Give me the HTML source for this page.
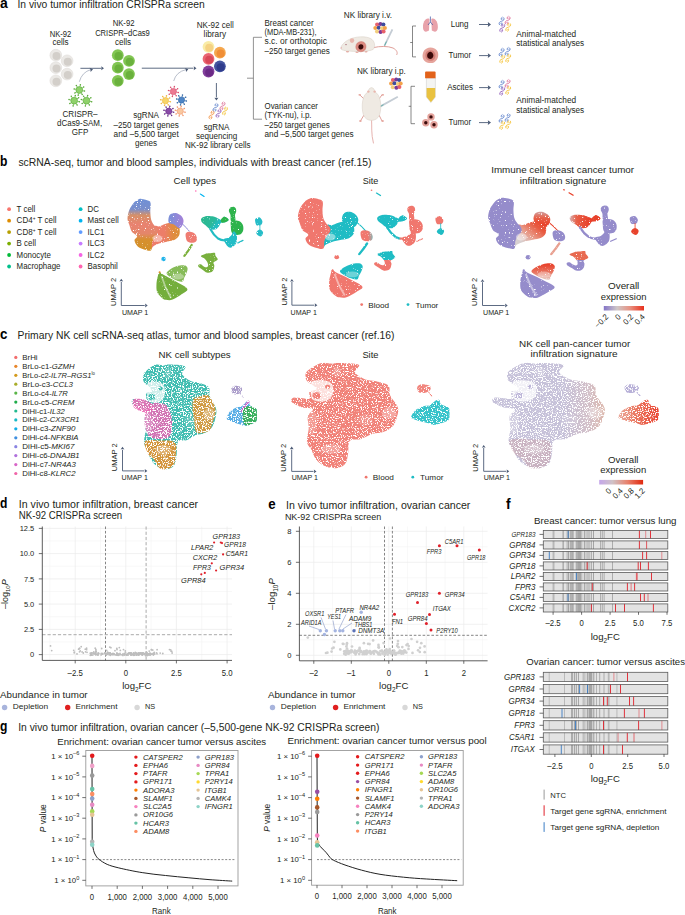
<!DOCTYPE html>
<html><head><meta charset="utf-8"><title>Figure</title>
<style>html,body{margin:0;padding:0;background:#fff;}svg{display:block;font-family:"Liberation Sans",sans-serif;}</style>
</head><body>
<svg width="685" height="915" viewBox="0 0 685 915">
<rect width="685" height="915" fill="#fff"/>
<text x="0.0" y="7.9" font-size="14" font-weight="bold" fill="#000">a</text>
<text x="17.5" y="8.2" font-size="10.2" textLength="187.2" lengthAdjust="spacingAndGlyphs" fill="#231f20">In vivo tumor infiltration CRISPRa screen</text>
<text x="60.5" y="36.6" font-size="8.5" text-anchor="middle" textLength="21.6" lengthAdjust="spacingAndGlyphs" fill="#231f20">NK-92</text>
<text x="60.5" y="45.4" font-size="8.5" text-anchor="middle" textLength="16.2" lengthAdjust="spacingAndGlyphs" fill="#231f20">cells</text>
<circle cx="55.8" cy="55.2" r="5.9" fill="#ebe9e6" stroke="#dcd9d4" stroke-width="0.5"/>
<circle cx="56.5" cy="56.1" r="4.0120000000000005" fill="#d3cfca"/>
<circle cx="67.1" cy="60.8" r="5.9" fill="#ebe9e6" stroke="#dcd9d4" stroke-width="0.5"/>
<circle cx="67.8" cy="61.7" r="4.0120000000000005" fill="#d3cfca"/>
<circle cx="55.8" cy="67.7" r="5.9" fill="#ebe9e6" stroke="#dcd9d4" stroke-width="0.5"/>
<circle cx="56.5" cy="68.6" r="4.0120000000000005" fill="#d3cfca"/>
<circle cx="67.1" cy="74.1" r="5.9" fill="#ebe9e6" stroke="#dcd9d4" stroke-width="0.5"/>
<circle cx="67.8" cy="75.0" r="4.0120000000000005" fill="#d3cfca"/>
<circle cx="55.8" cy="80.8" r="5.9" fill="#ebe9e6" stroke="#dcd9d4" stroke-width="0.5"/>
<circle cx="56.5" cy="81.7" r="4.0120000000000005" fill="#d3cfca"/>
<line x1="80.4" y1="68.3" x2="101.5" y2="68.3" stroke="#4b5a75" stroke-width="0.9"/>
<path d="M104.0,68.3 L101.2,70.3 L101.6,68.3 L101.2,66.3Z" fill="#4b5a75"/>
<path d="M79.3,81.8 Q82,72 91,69.6" fill="none" stroke="#8a93a8" stroke-width="0.6"/>
<path d="M93.0,69.3 L90.6,72.0 L90.5,69.8 L89.7,67.8Z" fill="#4b5a75"/>
<line x1="82.6" y1="90.7" x2="84.5" y2="91.1" stroke="#5bab3a" stroke-width="0.7"/>
<circle cx="84.5" cy="91.1" r="0.75" fill="#5bab3a"/>
<line x1="81.2" y1="92.8" x2="82.2" y2="94.4" stroke="#5bab3a" stroke-width="0.7"/>
<circle cx="82.2" cy="94.4" r="0.75" fill="#5bab3a"/>
<line x1="78.6" y1="93.3" x2="78.2" y2="95.2" stroke="#5bab3a" stroke-width="0.7"/>
<circle cx="78.2" cy="95.2" r="0.75" fill="#5bab3a"/>
<line x1="76.5" y1="91.9" x2="74.9" y2="92.9" stroke="#5bab3a" stroke-width="0.7"/>
<circle cx="74.9" cy="92.9" r="0.75" fill="#5bab3a"/>
<line x1="76.0" y1="89.3" x2="74.1" y2="88.9" stroke="#5bab3a" stroke-width="0.7"/>
<circle cx="74.1" cy="88.9" r="0.75" fill="#5bab3a"/>
<line x1="77.4" y1="87.2" x2="76.4" y2="85.6" stroke="#5bab3a" stroke-width="0.7"/>
<circle cx="76.4" cy="85.6" r="0.75" fill="#5bab3a"/>
<line x1="80.0" y1="86.7" x2="80.4" y2="84.8" stroke="#5bab3a" stroke-width="0.7"/>
<circle cx="80.4" cy="84.8" r="0.75" fill="#5bab3a"/>
<line x1="82.1" y1="88.1" x2="83.7" y2="87.1" stroke="#5bab3a" stroke-width="0.7"/>
<circle cx="83.7" cy="87.1" r="0.75" fill="#5bab3a"/>
<circle cx="79.3" cy="90.0" r="3.4" fill="#8fd16a" stroke="#5bab3a" stroke-width="0.6"/>
<line x1="77.5" y1="101.4" x2="79.4" y2="101.8" stroke="#5bab3a" stroke-width="0.7"/>
<circle cx="79.4" cy="101.8" r="0.75" fill="#5bab3a"/>
<line x1="76.1" y1="103.5" x2="77.1" y2="105.1" stroke="#5bab3a" stroke-width="0.7"/>
<circle cx="77.1" cy="105.1" r="0.75" fill="#5bab3a"/>
<line x1="73.5" y1="104.0" x2="73.1" y2="105.9" stroke="#5bab3a" stroke-width="0.7"/>
<circle cx="73.1" cy="105.9" r="0.75" fill="#5bab3a"/>
<line x1="71.4" y1="102.6" x2="69.8" y2="103.6" stroke="#5bab3a" stroke-width="0.7"/>
<circle cx="69.8" cy="103.6" r="0.75" fill="#5bab3a"/>
<line x1="70.9" y1="100.0" x2="69.0" y2="99.6" stroke="#5bab3a" stroke-width="0.7"/>
<circle cx="69.0" cy="99.6" r="0.75" fill="#5bab3a"/>
<line x1="72.3" y1="97.9" x2="71.3" y2="96.3" stroke="#5bab3a" stroke-width="0.7"/>
<circle cx="71.3" cy="96.3" r="0.75" fill="#5bab3a"/>
<line x1="74.9" y1="97.4" x2="75.3" y2="95.5" stroke="#5bab3a" stroke-width="0.7"/>
<circle cx="75.3" cy="95.5" r="0.75" fill="#5bab3a"/>
<line x1="77.0" y1="98.8" x2="78.6" y2="97.8" stroke="#5bab3a" stroke-width="0.7"/>
<circle cx="78.6" cy="97.8" r="0.75" fill="#5bab3a"/>
<circle cx="74.2" cy="100.7" r="3.4" fill="#8fd16a" stroke="#5bab3a" stroke-width="0.6"/>
<line x1="89.8" y1="101.4" x2="91.7" y2="101.8" stroke="#5bab3a" stroke-width="0.7"/>
<circle cx="91.7" cy="101.8" r="0.75" fill="#5bab3a"/>
<line x1="88.4" y1="103.5" x2="89.4" y2="105.1" stroke="#5bab3a" stroke-width="0.7"/>
<circle cx="89.4" cy="105.1" r="0.75" fill="#5bab3a"/>
<line x1="85.8" y1="104.0" x2="85.4" y2="105.9" stroke="#5bab3a" stroke-width="0.7"/>
<circle cx="85.4" cy="105.9" r="0.75" fill="#5bab3a"/>
<line x1="83.7" y1="102.6" x2="82.1" y2="103.6" stroke="#5bab3a" stroke-width="0.7"/>
<circle cx="82.1" cy="103.6" r="0.75" fill="#5bab3a"/>
<line x1="83.2" y1="100.0" x2="81.3" y2="99.6" stroke="#5bab3a" stroke-width="0.7"/>
<circle cx="81.3" cy="99.6" r="0.75" fill="#5bab3a"/>
<line x1="84.6" y1="97.9" x2="83.6" y2="96.3" stroke="#5bab3a" stroke-width="0.7"/>
<circle cx="83.6" cy="96.3" r="0.75" fill="#5bab3a"/>
<line x1="87.2" y1="97.4" x2="87.6" y2="95.5" stroke="#5bab3a" stroke-width="0.7"/>
<circle cx="87.6" cy="95.5" r="0.75" fill="#5bab3a"/>
<line x1="89.3" y1="98.8" x2="90.9" y2="97.8" stroke="#5bab3a" stroke-width="0.7"/>
<circle cx="90.9" cy="97.8" r="0.75" fill="#5bab3a"/>
<circle cx="86.5" cy="100.7" r="3.4" fill="#8fd16a" stroke="#5bab3a" stroke-width="0.6"/>
<text x="80.0" y="116.9" font-size="8.5" text-anchor="middle" textLength="35.0" lengthAdjust="spacingAndGlyphs" fill="#231f20">CRISPR–</text>
<text x="79.6" y="126.3" font-size="8.5" text-anchor="middle" textLength="45.2" lengthAdjust="spacingAndGlyphs" fill="#231f20">dCas9-SAM,</text>
<text x="80.0" y="135.3" font-size="8.5" text-anchor="middle" textLength="16.6" lengthAdjust="spacingAndGlyphs" fill="#231f20">GFP</text>
<text x="123.6" y="26.2" font-size="8.5" text-anchor="middle" textLength="21.9" lengthAdjust="spacingAndGlyphs" fill="#231f20">NK-92</text>
<text x="122.5" y="35.8" font-size="8.5" text-anchor="middle" textLength="54.7" lengthAdjust="spacingAndGlyphs" fill="#231f20">CRISPR–dCas9</text>
<text x="123.0" y="44.6" font-size="8.5" text-anchor="middle" textLength="16.2" lengthAdjust="spacingAndGlyphs" fill="#231f20">cells</text>
<circle cx="117.8" cy="55.2" r="5.9" fill="#82c653"/>
<circle cx="118.5" cy="56.1" r="4.0120000000000005" fill="#6ab13d"/>
<circle cx="129.0" cy="60.8" r="5.9" fill="#82c653"/>
<circle cx="129.7" cy="61.7" r="4.0120000000000005" fill="#6ab13d"/>
<circle cx="117.8" cy="67.7" r="5.9" fill="#82c653"/>
<circle cx="118.5" cy="68.6" r="4.0120000000000005" fill="#6ab13d"/>
<circle cx="129.0" cy="74.1" r="5.9" fill="#82c653"/>
<circle cx="129.7" cy="75.0" r="4.0120000000000005" fill="#6ab13d"/>
<circle cx="117.8" cy="80.8" r="5.9" fill="#82c653"/>
<circle cx="118.5" cy="81.7" r="4.0120000000000005" fill="#6ab13d"/>
<line x1="141.8" y1="68.2" x2="193.5" y2="68.2" stroke="#4b5a75" stroke-width="0.9"/>
<path d="M196.5,68.2 L193.7,70.2 L194.1,68.2 L193.7,66.2Z" fill="#4b5a75"/>
<path d="M173.7,81 Q176,72 186,69.6" fill="none" stroke="#8a93a8" stroke-width="0.6"/>
<path d="M188.3,69.2 L186.0,72.0 L185.9,69.8 L185.0,67.9Z" fill="#4b5a75"/>
<line x1="176.4" y1="92.1" x2="178.3" y2="92.5" stroke="#d9506f" stroke-width="0.7"/>
<circle cx="178.3" cy="92.5" r="0.75" fill="#d9506f"/>
<line x1="175.1" y1="94.1" x2="176.2" y2="95.7" stroke="#d9506f" stroke-width="0.7"/>
<circle cx="176.2" cy="95.7" r="0.75" fill="#d9506f"/>
<line x1="172.8" y1="94.5" x2="172.4" y2="96.4" stroke="#d9506f" stroke-width="0.7"/>
<circle cx="172.4" cy="96.4" r="0.75" fill="#d9506f"/>
<line x1="170.8" y1="93.2" x2="169.2" y2="94.3" stroke="#d9506f" stroke-width="0.7"/>
<circle cx="169.2" cy="94.3" r="0.75" fill="#d9506f"/>
<line x1="170.4" y1="90.9" x2="168.5" y2="90.5" stroke="#d9506f" stroke-width="0.7"/>
<circle cx="168.5" cy="90.5" r="0.75" fill="#d9506f"/>
<line x1="171.7" y1="88.9" x2="170.6" y2="87.3" stroke="#d9506f" stroke-width="0.7"/>
<circle cx="170.6" cy="87.3" r="0.75" fill="#d9506f"/>
<line x1="174.0" y1="88.5" x2="174.4" y2="86.6" stroke="#d9506f" stroke-width="0.7"/>
<circle cx="174.4" cy="86.6" r="0.75" fill="#d9506f"/>
<line x1="176.0" y1="89.8" x2="177.6" y2="88.7" stroke="#d9506f" stroke-width="0.7"/>
<circle cx="177.6" cy="88.7" r="0.75" fill="#d9506f"/>
<circle cx="173.4" cy="91.5" r="3.1" fill="#ec7a93" stroke="#d9506f" stroke-width="0.6"/>
<line x1="168.5" y1="101.3" x2="170.4" y2="101.7" stroke="#f0b840" stroke-width="0.7"/>
<circle cx="170.4" cy="101.7" r="0.75" fill="#f0b840"/>
<line x1="167.2" y1="103.3" x2="168.3" y2="104.9" stroke="#f0b840" stroke-width="0.7"/>
<circle cx="168.3" cy="104.9" r="0.75" fill="#f0b840"/>
<line x1="164.9" y1="103.7" x2="164.5" y2="105.6" stroke="#f0b840" stroke-width="0.7"/>
<circle cx="164.5" cy="105.6" r="0.75" fill="#f0b840"/>
<line x1="162.9" y1="102.4" x2="161.3" y2="103.5" stroke="#f0b840" stroke-width="0.7"/>
<circle cx="161.3" cy="103.5" r="0.75" fill="#f0b840"/>
<line x1="162.5" y1="100.1" x2="160.6" y2="99.7" stroke="#f0b840" stroke-width="0.7"/>
<circle cx="160.6" cy="99.7" r="0.75" fill="#f0b840"/>
<line x1="163.8" y1="98.1" x2="162.7" y2="96.5" stroke="#f0b840" stroke-width="0.7"/>
<circle cx="162.7" cy="96.5" r="0.75" fill="#f0b840"/>
<line x1="166.1" y1="97.7" x2="166.5" y2="95.8" stroke="#f0b840" stroke-width="0.7"/>
<circle cx="166.5" cy="95.8" r="0.75" fill="#f0b840"/>
<line x1="168.1" y1="99.0" x2="169.7" y2="97.9" stroke="#f0b840" stroke-width="0.7"/>
<circle cx="169.7" cy="97.9" r="0.75" fill="#f0b840"/>
<circle cx="165.5" cy="100.7" r="3.1" fill="#f8d56a" stroke="#f0b840" stroke-width="0.6"/>
<line x1="184.5" y1="100.6" x2="186.4" y2="101.0" stroke="#2f66a6" stroke-width="0.7"/>
<circle cx="186.4" cy="101.0" r="0.75" fill="#2f66a6"/>
<line x1="183.2" y1="102.6" x2="184.3" y2="104.2" stroke="#2f66a6" stroke-width="0.7"/>
<circle cx="184.3" cy="104.2" r="0.75" fill="#2f66a6"/>
<line x1="180.9" y1="103.0" x2="180.5" y2="104.9" stroke="#2f66a6" stroke-width="0.7"/>
<circle cx="180.5" cy="104.9" r="0.75" fill="#2f66a6"/>
<line x1="178.9" y1="101.7" x2="177.3" y2="102.8" stroke="#2f66a6" stroke-width="0.7"/>
<circle cx="177.3" cy="102.8" r="0.75" fill="#2f66a6"/>
<line x1="178.5" y1="99.4" x2="176.6" y2="99.0" stroke="#2f66a6" stroke-width="0.7"/>
<circle cx="176.6" cy="99.0" r="0.75" fill="#2f66a6"/>
<line x1="179.8" y1="97.4" x2="178.7" y2="95.8" stroke="#2f66a6" stroke-width="0.7"/>
<circle cx="178.7" cy="95.8" r="0.75" fill="#2f66a6"/>
<line x1="182.1" y1="97.0" x2="182.5" y2="95.1" stroke="#2f66a6" stroke-width="0.7"/>
<circle cx="182.5" cy="95.1" r="0.75" fill="#2f66a6"/>
<line x1="184.1" y1="98.3" x2="185.7" y2="97.2" stroke="#2f66a6" stroke-width="0.7"/>
<circle cx="185.7" cy="97.2" r="0.75" fill="#2f66a6"/>
<circle cx="181.5" cy="100.0" r="3.1" fill="#4f86c6" stroke="#2f66a6" stroke-width="0.6"/>
<line x1="171.8" y1="111.8" x2="173.7" y2="112.2" stroke="#6a2f8a" stroke-width="0.7"/>
<circle cx="173.7" cy="112.2" r="0.75" fill="#6a2f8a"/>
<line x1="170.5" y1="113.8" x2="171.6" y2="115.4" stroke="#6a2f8a" stroke-width="0.7"/>
<circle cx="171.6" cy="115.4" r="0.75" fill="#6a2f8a"/>
<line x1="168.2" y1="114.2" x2="167.8" y2="116.1" stroke="#6a2f8a" stroke-width="0.7"/>
<circle cx="167.8" cy="116.1" r="0.75" fill="#6a2f8a"/>
<line x1="166.2" y1="112.9" x2="164.6" y2="114.0" stroke="#6a2f8a" stroke-width="0.7"/>
<circle cx="164.6" cy="114.0" r="0.75" fill="#6a2f8a"/>
<line x1="165.8" y1="110.6" x2="163.9" y2="110.2" stroke="#6a2f8a" stroke-width="0.7"/>
<circle cx="163.9" cy="110.2" r="0.75" fill="#6a2f8a"/>
<line x1="167.1" y1="108.6" x2="166.0" y2="107.0" stroke="#6a2f8a" stroke-width="0.7"/>
<circle cx="166.0" cy="107.0" r="0.75" fill="#6a2f8a"/>
<line x1="169.4" y1="108.2" x2="169.8" y2="106.3" stroke="#6a2f8a" stroke-width="0.7"/>
<circle cx="169.8" cy="106.3" r="0.75" fill="#6a2f8a"/>
<line x1="171.4" y1="109.5" x2="173.0" y2="108.4" stroke="#6a2f8a" stroke-width="0.7"/>
<circle cx="173.0" cy="108.4" r="0.75" fill="#6a2f8a"/>
<circle cx="168.8" cy="111.2" r="3.1" fill="#8a4ba8" stroke="#6a2f8a" stroke-width="0.6"/>
<line x1="183.2" y1="111.8" x2="185.1" y2="112.2" stroke="#f29a70" stroke-width="0.7"/>
<circle cx="185.1" cy="112.2" r="0.75" fill="#f29a70"/>
<line x1="181.9" y1="113.8" x2="183.0" y2="115.4" stroke="#f29a70" stroke-width="0.7"/>
<circle cx="183.0" cy="115.4" r="0.75" fill="#f29a70"/>
<line x1="179.6" y1="114.2" x2="179.2" y2="116.1" stroke="#f29a70" stroke-width="0.7"/>
<circle cx="179.2" cy="116.1" r="0.75" fill="#f29a70"/>
<line x1="177.6" y1="112.9" x2="176.0" y2="114.0" stroke="#f29a70" stroke-width="0.7"/>
<circle cx="176.0" cy="114.0" r="0.75" fill="#f29a70"/>
<line x1="177.2" y1="110.6" x2="175.3" y2="110.2" stroke="#f29a70" stroke-width="0.7"/>
<circle cx="175.3" cy="110.2" r="0.75" fill="#f29a70"/>
<line x1="178.5" y1="108.6" x2="177.4" y2="107.0" stroke="#f29a70" stroke-width="0.7"/>
<circle cx="177.4" cy="107.0" r="0.75" fill="#f29a70"/>
<line x1="180.8" y1="108.2" x2="181.2" y2="106.3" stroke="#f29a70" stroke-width="0.7"/>
<circle cx="181.2" cy="106.3" r="0.75" fill="#f29a70"/>
<line x1="182.8" y1="109.5" x2="184.4" y2="108.4" stroke="#f29a70" stroke-width="0.7"/>
<circle cx="184.4" cy="108.4" r="0.75" fill="#f29a70"/>
<circle cx="180.2" cy="111.2" r="3.1" fill="#f9c8a0" stroke="#f29a70" stroke-width="0.6"/>
<text x="146.1" y="118.1" font-size="8.5" text-anchor="middle" textLength="25.6" lengthAdjust="spacingAndGlyphs" fill="#231f20">sgRNA</text>
<text x="113.6" y="127.7" font-size="8.5" textLength="65.1" lengthAdjust="spacingAndGlyphs" fill="#231f20">–250 target genes</text>
<text x="113.6" y="137.1" font-size="8.5" textLength="65.1" lengthAdjust="spacingAndGlyphs" fill="#231f20">and –5,500 target</text>
<text x="146.1" y="146.1" font-size="8.5" text-anchor="middle" textLength="22.0" lengthAdjust="spacingAndGlyphs" fill="#231f20">genes</text>
<text x="196.8" y="27.7" font-size="8.5" textLength="37.0" lengthAdjust="spacingAndGlyphs" fill="#231f20">NK-92 cell</text>
<text x="203.6" y="36.5" font-size="8.5" textLength="22.5" lengthAdjust="spacingAndGlyphs" fill="#231f20">library</text>
<circle cx="208.5" cy="46.8" r="5.9" fill="#f9eca8"/>
<circle cx="209.2" cy="47.7" r="4.0120000000000005" fill="#f5d283"/>
<circle cx="219.9" cy="52.7" r="5.9" fill="#f5a84f"/>
<circle cx="220.6" cy="53.6" r="4.0120000000000005" fill="#f08e36"/>
<circle cx="208.5" cy="58.9" r="5.9" fill="#ea6672"/>
<circle cx="209.2" cy="59.8" r="4.0120000000000005" fill="#d94858"/>
<circle cx="219.9" cy="66.3" r="5.9" fill="#44549f"/>
<circle cx="220.6" cy="67.2" r="4.0120000000000005" fill="#2f3b8c"/>
<circle cx="208.5" cy="71.5" r="5.9" fill="#823f9c"/>
<circle cx="209.2" cy="72.4" r="4.0120000000000005" fill="#6b2a86"/>
<line x1="216.4" y1="83.0" x2="216.4" y2="97.5" stroke="#4b5a75" stroke-width="0.9"/>
<path d="M216.4,100.5 L214.4,97.7 L216.4,98.1 L218.4,97.7Z" fill="#4b5a75"/>
<g>
<g transform="translate(215.5,107.5) rotate(-70)">
<path d="M-4.2,-0.6 C-2.8,-2.4 -1.2,-1.8 0,0 C1.2,1.8 2.8,2.4 4.2,0.6" fill="none" stroke="#6f8fd0" stroke-width="0.9"/>
<path d="M-4.2,0.6 C-3.2,1.6 -2,1.4 -1.2,0.6 M1.2,-0.6 C2,-1.4 3.2,-1.6 4.2,-0.6" fill="none" stroke="#6f8fd0" stroke-width="0.9"/>
<line x1="-2.4" y1="-1.2" x2="-2.4" y2="1.2" stroke="#6f8fd0" stroke-width="0.5"/>
<line x1="2.4" y1="-1.2" x2="2.4" y2="1.2" stroke="#6f8fd0" stroke-width="0.5"/>
</g>
<g transform="translate(222.5,106.0) rotate(-70)">
<path d="M-4.2,-0.6 C-2.8,-2.4 -1.2,-1.8 0,0 C1.2,1.8 2.8,2.4 4.2,0.6" fill="none" stroke="#e07aa0" stroke-width="0.9"/>
<path d="M-4.2,0.6 C-3.2,1.6 -2,1.4 -1.2,0.6 M1.2,-0.6 C2,-1.4 3.2,-1.6 4.2,-0.6" fill="none" stroke="#e07aa0" stroke-width="0.9"/>
<line x1="-2.4" y1="-1.2" x2="-2.4" y2="1.2" stroke="#e07aa0" stroke-width="0.5"/>
<line x1="2.4" y1="-1.2" x2="2.4" y2="1.2" stroke="#e07aa0" stroke-width="0.5"/>
</g>
<g transform="translate(211.5,115.0) rotate(-70)">
<path d="M-4.2,-0.6 C-2.8,-2.4 -1.2,-1.8 0,0 C1.2,1.8 2.8,2.4 4.2,0.6" fill="none" stroke="#f29a50" stroke-width="0.9"/>
<path d="M-4.2,0.6 C-3.2,1.6 -2,1.4 -1.2,0.6 M1.2,-0.6 C2,-1.4 3.2,-1.6 4.2,-0.6" fill="none" stroke="#f29a50" stroke-width="0.9"/>
<line x1="-2.4" y1="-1.2" x2="-2.4" y2="1.2" stroke="#f29a50" stroke-width="0.5"/>
<line x1="2.4" y1="-1.2" x2="2.4" y2="1.2" stroke="#f29a50" stroke-width="0.5"/>
</g>
<g transform="translate(218.5,113.5) rotate(-70)">
<path d="M-4.2,-0.6 C-2.8,-2.4 -1.2,-1.8 0,0 C1.2,1.8 2.8,2.4 4.2,0.6" fill="none" stroke="#9a6ac0" stroke-width="0.9"/>
<path d="M-4.2,0.6 C-3.2,1.6 -2,1.4 -1.2,0.6 M1.2,-0.6 C2,-1.4 3.2,-1.6 4.2,-0.6" fill="none" stroke="#9a6ac0" stroke-width="0.9"/>
<line x1="-2.4" y1="-1.2" x2="-2.4" y2="1.2" stroke="#9a6ac0" stroke-width="0.5"/>
<line x1="2.4" y1="-1.2" x2="2.4" y2="1.2" stroke="#9a6ac0" stroke-width="0.5"/>
</g>
<g transform="translate(225.0,111.0) rotate(-70)">
<path d="M-4.2,-0.6 C-2.8,-2.4 -1.2,-1.8 0,0 C1.2,1.8 2.8,2.4 4.2,0.6" fill="none" stroke="#f5c84a" stroke-width="0.9"/>
<path d="M-4.2,0.6 C-3.2,1.6 -2,1.4 -1.2,0.6 M1.2,-0.6 C2,-1.4 3.2,-1.6 4.2,-0.6" fill="none" stroke="#f5c84a" stroke-width="0.9"/>
<line x1="-2.4" y1="-1.2" x2="-2.4" y2="1.2" stroke="#f5c84a" stroke-width="0.5"/>
<line x1="2.4" y1="-1.2" x2="2.4" y2="1.2" stroke="#f5c84a" stroke-width="0.5"/>
</g>
</g>
<text x="216.6" y="129.9" font-size="8.5" text-anchor="middle" textLength="25.6" lengthAdjust="spacingAndGlyphs" fill="#231f20">sgRNA</text>
<text x="216.6" y="138.9" font-size="8.5" text-anchor="middle" textLength="41.3" lengthAdjust="spacingAndGlyphs" fill="#231f20">sequencing</text>
<text x="185.0" y="148.2" font-size="8.5" textLength="65.6" lengthAdjust="spacingAndGlyphs" fill="#231f20">NK-92 library cells</text>
<path d="M262,37.3 L253.4,37.3 L253.4,119.2 L262,119.2" fill="none" stroke="#777" stroke-width="0.8"/>
<line x1="247.0" y1="78.2" x2="253.4" y2="78.2" stroke="#777" stroke-width="0.8"/>
<text x="264.5" y="26.0" font-size="8.5" textLength="49.2" lengthAdjust="spacingAndGlyphs" fill="#231f20">Breast cancer</text>
<text x="264.5" y="35.2" font-size="8.5" textLength="52.1" lengthAdjust="spacingAndGlyphs" fill="#231f20">(MDA-MB-231),</text>
<text x="264.5" y="44.4" font-size="8.5" textLength="62.4" lengthAdjust="spacingAndGlyphs" fill="#231f20">s.c. or orthotopic</text>
<text x="264.5" y="53.6" font-size="8.5" textLength="65.3" lengthAdjust="spacingAndGlyphs" fill="#231f20">–250 target genes</text>
<text x="264.5" y="109.2" font-size="8.5" textLength="53.5" lengthAdjust="spacingAndGlyphs" fill="#231f20">Ovarian cancer</text>
<text x="264.5" y="118.4" font-size="8.5" textLength="47.0" lengthAdjust="spacingAndGlyphs" fill="#231f20">(TYK-nu), i.p.</text>
<text x="264.5" y="127.6" font-size="8.5" textLength="65.3" lengthAdjust="spacingAndGlyphs" fill="#231f20">–250 target genes</text>
<text x="264.5" y="136.9" font-size="8.5" textLength="89.1" lengthAdjust="spacingAndGlyphs" fill="#231f20">and –5,500 target genes</text>
<text x="343.8" y="17.7" font-size="8.5" textLength="48.2" lengthAdjust="spacingAndGlyphs" fill="#231f20">NK library i.v.</text>
<circle cx="377.1" cy="24.5" r="2.015" fill="#e8616b"/>
<circle cx="380.4" cy="24.0" r="2.015" fill="#7b3a96"/>
<circle cx="383.4" cy="24.5" r="2.015" fill="#3d4d9d"/>
<circle cx="375.3" cy="27.9" r="2.015" fill="#f4a24a"/>
<circle cx="378.7" cy="27.7" r="2.015" fill="#3d4d9d"/>
<circle cx="382.1" cy="28.3" r="2.015" fill="#f3cf7e"/>
<circle cx="384.9" cy="27.9" r="2.015" fill="#f4a24a"/>
<circle cx="377.0" cy="31.6" r="2.015" fill="#f3cf7e"/>
<circle cx="380.6" cy="32.1" r="2.015" fill="#7b3a96"/>
<circle cx="383.6" cy="31.4" r="2.015" fill="#e8616b"/>
<path d="M384.5,45.7 L392.4,29.3" fill="none" stroke="#c4ccd4" stroke-width="1.8"/>
<line x1="384.5" y1="45.7" x2="386.5" y2="41.5" stroke="#4aa8a0" stroke-width="0.8"/>
<path d="M373,47.7 C380,46 388,46 393,48 C397,50 398,53 396.5,55" fill="none" stroke="#e0a09a" stroke-width="1.0"/>
<ellipse cx="347.5" cy="51.6" rx="1.6" ry="0.9" fill="#e6a8a0"/>
<ellipse cx="357" cy="52" rx="1.6" ry="0.9" fill="#e6a8a0"/>
<ellipse cx="366" cy="51.6" rx="1.6" ry="0.9" fill="#e6a8a0"/>
<path d="M340.8,48.2 C341,45.5 344.5,41.6 349.5,39.3 C355.5,36.4 365.5,35.8 370.8,38.6 C374.8,40.8 375.8,46.6 373.2,49.4 C369.2,51.6 358.5,51.8 350.5,51.2 C345.2,50.8 340.6,50.2 340.8,48.2 Z" fill="#efeae3" stroke="#d6cdc2" stroke-width="0.5"/>
<ellipse cx="352" cy="40.6" rx="2.2" ry="2.4" fill="#e9b7ae"/>
<circle cx="346.0" cy="44.6" r="0.55" fill="#8a4050"/>
<circle cx="341.3" cy="47.9" r="0.6" fill="#e6a0a0"/>
<path d="M361,41.6 C364.5,41.4 366.3,44.4 366,47.2 C365.8,50.2 363,52 360.5,51.8 C357.6,51.6 355.6,49.4 355.8,46.6 C356,43.6 358,41.7 361,41.6 Z" fill="#dc8a80" stroke="#c87068" stroke-width="0.4"/>
<path d="M360.8,44.3 C362.6,44.1 363.6,45.6 363.4,47 C363.3,48.6 361.8,49.6 360.5,49.4 C359,49.3 358.2,48 358.4,46.7 C358.5,45.3 359.5,44.4 360.8,44.3 Z" fill="#3a0b0b" stroke="none" stroke-width="0.7"/>
<text x="357.0" y="73.8" font-size="8.5" textLength="48.7" lengthAdjust="spacingAndGlyphs" fill="#231f20">NK library i.p.</text>
<circle cx="392.9" cy="80.1" r="2.015" fill="#e8616b"/>
<circle cx="396.2" cy="79.6" r="2.015" fill="#7b3a96"/>
<circle cx="399.2" cy="80.1" r="2.015" fill="#3d4d9d"/>
<circle cx="391.1" cy="83.5" r="2.015" fill="#f4a24a"/>
<circle cx="394.5" cy="83.3" r="2.015" fill="#3d4d9d"/>
<circle cx="397.9" cy="83.9" r="2.015" fill="#f3cf7e"/>
<circle cx="400.7" cy="83.5" r="2.015" fill="#f4a24a"/>
<circle cx="392.8" cy="87.2" r="2.015" fill="#f3cf7e"/>
<circle cx="396.4" cy="87.7" r="2.015" fill="#7b3a96"/>
<circle cx="399.4" cy="87.0" r="2.015" fill="#e8616b"/>
<path d="M380,106.6 L397.8,96.8" fill="none" stroke="#c4ccd4" stroke-width="1.8"/>
<line x1="380.0" y1="106.6" x2="383.5" y2="104.7" stroke="#4aa8a0" stroke-width="0.8"/>
<path d="M371.5,118 C372,126 371,134 373.5,143.4" fill="none" stroke="#e0a09a" stroke-width="0.8"/>
<line x1="364.0" y1="99.0" x2="359.7" y2="94.8" stroke="#e0a09a" stroke-width="1.0"/>
<line x1="379.0" y1="99.0" x2="382.0" y2="94.8" stroke="#e0a09a" stroke-width="1.0"/>
<line x1="364.0" y1="115.0" x2="360.4" y2="121.0" stroke="#e0a09a" stroke-width="1.0"/>
<line x1="379.0" y1="115.0" x2="382.0" y2="121.0" stroke="#e0a09a" stroke-width="1.0"/>
<path d="M371.5,87.6 C373.6,87.6 374.6,90 374.9,91.8 C377.6,93.4 379.6,96.5 380.3,100.8 C381.2,105.6 380.8,111 379.6,114.8 C378.4,118.2 375.2,120.4 371.5,120.4 C367.8,120.4 364.6,118.2 363.4,114.8 C362.2,111 361.8,105.6 362.7,100.8 C363.4,96.5 365.4,93.4 368.1,91.8 C368.4,90 369.4,87.6 371.5,87.6 Z" fill="#efeae3" stroke="#d6cdc2" stroke-width="0.5"/>
<circle cx="368.4" cy="91.6" r="1.2" fill="#e9b7ae"/>
<circle cx="374.6" cy="91.6" r="1.2" fill="#e9b7ae"/>
<ellipse cx="359.7" cy="94.8" rx="1.3" ry="0.9" fill="#e6a8a0"/>
<ellipse cx="382.8" cy="94.8" rx="1.3" ry="0.9" fill="#e6a8a0"/>
<ellipse cx="360.4" cy="121" rx="1.3" ry="0.9" fill="#e6a8a0"/>
<ellipse cx="382.6" cy="121" rx="1.3" ry="0.9" fill="#e6a8a0"/>
<path d="M416,26 L412.5,26 L412.5,56.9 L416,56.9" fill="none" stroke="#555" stroke-width="0.7"/>
<line x1="410.2" y1="42.5" x2="412.5" y2="42.5" stroke="#555" stroke-width="0.7"/>
<path d="M415,86.3 L411,86.3 L411,123.7 L415,123.7" fill="none" stroke="#555" stroke-width="0.7"/>
<line x1="408.7" y1="106.3" x2="411.0" y2="106.3" stroke="#555" stroke-width="0.7"/>
<path d="M429.5,19 C426,17 422.5,22 423,28 C423.5,32 426,32.5 429,30.5 Z" fill="#e8a2aa" stroke="none" stroke-width="0.7"/>
<path d="M431.3,19 C434.8,17 438.3,22 437.8,28 C437.3,32 434.8,32.5 431.8,30.5 Z" fill="#e8a2aa" stroke="none" stroke-width="0.7"/>
<path d="M430.4,16.5 L430.4,22 M430.4,22 L428,25 M430.4,22 L432.8,25" fill="none" stroke="#3a4fa0" stroke-width="0.7"/>
<path d="M430.4,47.6 C431.7,47.6 433.3,47.9 434.5,48.6 C435.7,49.3 437.0,50.4 437.6,51.6 C438.2,52.8 438.3,54.3 438.2,55.6 C438.1,56.9 437.7,58.5 437.0,59.6 C436.3,60.7 435.2,61.8 434.0,62.4 C432.8,63.0 431.3,63.1 430.0,63.0 C428.7,62.9 427.1,62.7 426.0,62.0 C424.9,61.3 423.8,60.2 423.2,59.0 C422.6,57.8 422.5,56.3 422.6,55.0 C422.7,53.7 423.1,52.1 423.8,51.0 C424.5,49.9 425.7,49.0 426.8,48.4 C427.9,47.8 429.1,47.6 430.4,47.6Z" fill="#e6a49c" stroke="none" stroke-width="0.7"/>
<path d="M430.4,50.2 C431.6,50.1 432.8,50.5 433.6,51.2 C434.4,51.9 435.2,53.3 435.4,54.4 C435.6,55.5 435.5,57.0 435.0,58.0 C434.5,59.0 433.6,60.0 432.6,60.4 C431.6,60.8 430.1,60.9 429.0,60.6 C427.9,60.3 426.8,59.5 426.2,58.6 C425.6,57.7 425.3,56.1 425.4,55.0 C425.5,53.9 425.8,52.6 426.6,51.8 C427.4,51.0 429.2,50.3 430.4,50.2Z" fill="#d27e76" stroke="none" stroke-width="0.7"/>
<path d="M430.6,51.8 C431.3,51.9 432.1,52.5 432.6,53.2 C433.1,53.9 433.5,55.0 433.4,55.8 C433.3,56.6 432.8,57.7 432.2,58.2 C431.6,58.7 430.7,59.1 430.0,59.0 C429.3,58.9 428.3,58.5 427.8,57.8 C427.3,57.1 427.1,55.9 427.2,55.0 C427.3,54.1 428.0,53.1 428.6,52.6 C429.2,52.1 429.9,51.7 430.6,51.8Z" fill="#3a0808" stroke="none" stroke-width="0.7"/>
<path d="M426.4,78 L435.4,78 L435.4,97 L430.9,102.6 L426.4,97 Z" fill="#f4f4f2" stroke="#c8c8c8" stroke-width="0.5"/>
<path d="M426.6,88 L435.2,88 L435.2,97 L430.9,102.3 L426.6,97 Z" fill="#e9c240" stroke="none" stroke-width="0.7"/>
<path d="M425.1,72.5 Q425.1,71.6 426,71.6 L434.7,71.6 Q435.6,71.6 435.6,72.5 L435.6,78.2 L425.1,78.2 Z" fill="#e2621a" stroke="none" stroke-width="0.7"/>
<circle cx="431.0" cy="116.9" r="3.7" fill="#e4a39c"/>
<circle cx="431.0" cy="116.9" r="1.7" fill="#3a0b0b"/>
<circle cx="425.8" cy="122.8" r="3.7" fill="#e4a39c"/>
<circle cx="425.8" cy="122.8" r="1.7" fill="#3a0b0b"/>
<circle cx="434.0" cy="124.8" r="3.7" fill="#e4a39c"/>
<circle cx="434.0" cy="124.8" r="1.7" fill="#3a0b0b"/>
<text x="450.7" y="27.1" font-size="8.5" textLength="17.8" lengthAdjust="spacingAndGlyphs" fill="#231f20">Lung</text>
<text x="448.4" y="58.0" font-size="8.5" textLength="22.7" lengthAdjust="spacingAndGlyphs" fill="#231f20">Tumor</text>
<text x="447.2" y="89.7" font-size="8.5" textLength="25.9" lengthAdjust="spacingAndGlyphs" fill="#231f20">Ascites</text>
<text x="448.5" y="124.8" font-size="8.5" textLength="22.6" lengthAdjust="spacingAndGlyphs" fill="#231f20">Tumor</text>
<line x1="479.0" y1="24.5" x2="488.5" y2="24.5" stroke="#4b5a75" stroke-width="0.9"/>
<path d="M491.0,24.5 L487.8,26.9 L488.2,24.5 L487.8,22.1Z" fill="#4b5a75"/>
<line x1="479.0" y1="55.6" x2="488.5" y2="55.6" stroke="#4b5a75" stroke-width="0.9"/>
<path d="M491.0,55.6 L487.8,58.0 L488.2,55.6 L487.8,53.2Z" fill="#4b5a75"/>
<line x1="479.0" y1="87.6" x2="488.5" y2="87.6" stroke="#4b5a75" stroke-width="0.9"/>
<path d="M491.0,87.6 L487.8,90.0 L488.2,87.6 L487.8,85.2Z" fill="#4b5a75"/>
<line x1="479.0" y1="122.6" x2="488.5" y2="122.6" stroke="#4b5a75" stroke-width="0.9"/>
<path d="M491.0,122.6 L487.8,125.0 L488.2,122.6 L487.8,120.2Z" fill="#4b5a75"/>
<g transform="translate(501.6,21.2) rotate(-70)">
<path d="M-4.2,-0.6 C-2.8,-2.4 -1.2,-1.8 0,0 C1.2,1.8 2.8,2.4 4.2,0.6" fill="none" stroke="#6f8fd0" stroke-width="0.9"/>
<path d="M-4.2,0.6 C-3.2,1.6 -2,1.4 -1.2,0.6 M1.2,-0.6 C2,-1.4 3.2,-1.6 4.2,-0.6" fill="none" stroke="#6f8fd0" stroke-width="0.9"/>
<line x1="-2.4" y1="-1.2" x2="-2.4" y2="1.2" stroke="#6f8fd0" stroke-width="0.5"/>
<line x1="2.4" y1="-1.2" x2="2.4" y2="1.2" stroke="#6f8fd0" stroke-width="0.5"/>
</g>
<g transform="translate(507.6,20.4) rotate(-70)">
<path d="M-4.2,-0.6 C-2.8,-2.4 -1.2,-1.8 0,0 C1.2,1.8 2.8,2.4 4.2,0.6" fill="none" stroke="#e07aa0" stroke-width="0.9"/>
<path d="M-4.2,0.6 C-3.2,1.6 -2,1.4 -1.2,0.6 M1.2,-0.6 C2,-1.4 3.2,-1.6 4.2,-0.6" fill="none" stroke="#e07aa0" stroke-width="0.9"/>
<line x1="-2.4" y1="-1.2" x2="-2.4" y2="1.2" stroke="#e07aa0" stroke-width="0.5"/>
<line x1="2.4" y1="-1.2" x2="2.4" y2="1.2" stroke="#e07aa0" stroke-width="0.5"/>
</g>
<g transform="translate(502.2,28.0) rotate(-70)">
<path d="M-4.2,-0.6 C-2.8,-2.4 -1.2,-1.8 0,0 C1.2,1.8 2.8,2.4 4.2,0.6" fill="none" stroke="#9a6ac0" stroke-width="0.9"/>
<path d="M-4.2,0.6 C-3.2,1.6 -2,1.4 -1.2,0.6 M1.2,-0.6 C2,-1.4 3.2,-1.6 4.2,-0.6" fill="none" stroke="#9a6ac0" stroke-width="0.9"/>
<line x1="-2.4" y1="-1.2" x2="-2.4" y2="1.2" stroke="#9a6ac0" stroke-width="0.5"/>
<line x1="2.4" y1="-1.2" x2="2.4" y2="1.2" stroke="#9a6ac0" stroke-width="0.5"/>
</g>
<g transform="translate(508.2,27.2) rotate(-70)">
<path d="M-4.2,-0.6 C-2.8,-2.4 -1.2,-1.8 0,0 C1.2,1.8 2.8,2.4 4.2,0.6" fill="none" stroke="#f5c84a" stroke-width="0.9"/>
<path d="M-4.2,0.6 C-3.2,1.6 -2,1.4 -1.2,0.6 M1.2,-0.6 C2,-1.4 3.2,-1.6 4.2,-0.6" fill="none" stroke="#f5c84a" stroke-width="0.9"/>
<line x1="-2.4" y1="-1.2" x2="-2.4" y2="1.2" stroke="#f5c84a" stroke-width="0.5"/>
<line x1="2.4" y1="-1.2" x2="2.4" y2="1.2" stroke="#f5c84a" stroke-width="0.5"/>
</g>
<g transform="translate(501.6,52.3) rotate(-70)">
<path d="M-4.2,-0.6 C-2.8,-2.4 -1.2,-1.8 0,0 C1.2,1.8 2.8,2.4 4.2,0.6" fill="none" stroke="#6f8fd0" stroke-width="0.9"/>
<path d="M-4.2,0.6 C-3.2,1.6 -2,1.4 -1.2,0.6 M1.2,-0.6 C2,-1.4 3.2,-1.6 4.2,-0.6" fill="none" stroke="#6f8fd0" stroke-width="0.9"/>
<line x1="-2.4" y1="-1.2" x2="-2.4" y2="1.2" stroke="#6f8fd0" stroke-width="0.5"/>
<line x1="2.4" y1="-1.2" x2="2.4" y2="1.2" stroke="#6f8fd0" stroke-width="0.5"/>
</g>
<g transform="translate(507.6,51.5) rotate(-70)">
<path d="M-4.2,-0.6 C-2.8,-2.4 -1.2,-1.8 0,0 C1.2,1.8 2.8,2.4 4.2,0.6" fill="none" stroke="#6f8fd0" stroke-width="0.9"/>
<path d="M-4.2,0.6 C-3.2,1.6 -2,1.4 -1.2,0.6 M1.2,-0.6 C2,-1.4 3.2,-1.6 4.2,-0.6" fill="none" stroke="#6f8fd0" stroke-width="0.9"/>
<line x1="-2.4" y1="-1.2" x2="-2.4" y2="1.2" stroke="#6f8fd0" stroke-width="0.5"/>
<line x1="2.4" y1="-1.2" x2="2.4" y2="1.2" stroke="#6f8fd0" stroke-width="0.5"/>
</g>
<g transform="translate(502.2,59.1) rotate(-70)">
<path d="M-4.2,-0.6 C-2.8,-2.4 -1.2,-1.8 0,0 C1.2,1.8 2.8,2.4 4.2,0.6" fill="none" stroke="#f5c84a" stroke-width="0.9"/>
<path d="M-4.2,0.6 C-3.2,1.6 -2,1.4 -1.2,0.6 M1.2,-0.6 C2,-1.4 3.2,-1.6 4.2,-0.6" fill="none" stroke="#f5c84a" stroke-width="0.9"/>
<line x1="-2.4" y1="-1.2" x2="-2.4" y2="1.2" stroke="#f5c84a" stroke-width="0.5"/>
<line x1="2.4" y1="-1.2" x2="2.4" y2="1.2" stroke="#f5c84a" stroke-width="0.5"/>
</g>
<g transform="translate(508.2,58.3) rotate(-70)">
<path d="M-4.2,-0.6 C-2.8,-2.4 -1.2,-1.8 0,0 C1.2,1.8 2.8,2.4 4.2,0.6" fill="none" stroke="#f5c84a" stroke-width="0.9"/>
<path d="M-4.2,0.6 C-3.2,1.6 -2,1.4 -1.2,0.6 M1.2,-0.6 C2,-1.4 3.2,-1.6 4.2,-0.6" fill="none" stroke="#f5c84a" stroke-width="0.9"/>
<line x1="-2.4" y1="-1.2" x2="-2.4" y2="1.2" stroke="#f5c84a" stroke-width="0.5"/>
<line x1="2.4" y1="-1.2" x2="2.4" y2="1.2" stroke="#f5c84a" stroke-width="0.5"/>
</g>
<g transform="translate(501.6,84.4) rotate(-70)">
<path d="M-4.2,-0.6 C-2.8,-2.4 -1.2,-1.8 0,0 C1.2,1.8 2.8,2.4 4.2,0.6" fill="none" stroke="#6f8fd0" stroke-width="0.9"/>
<path d="M-4.2,0.6 C-3.2,1.6 -2,1.4 -1.2,0.6 M1.2,-0.6 C2,-1.4 3.2,-1.6 4.2,-0.6" fill="none" stroke="#6f8fd0" stroke-width="0.9"/>
<line x1="-2.4" y1="-1.2" x2="-2.4" y2="1.2" stroke="#6f8fd0" stroke-width="0.5"/>
<line x1="2.4" y1="-1.2" x2="2.4" y2="1.2" stroke="#6f8fd0" stroke-width="0.5"/>
</g>
<g transform="translate(507.6,83.6) rotate(-70)">
<path d="M-4.2,-0.6 C-2.8,-2.4 -1.2,-1.8 0,0 C1.2,1.8 2.8,2.4 4.2,0.6" fill="none" stroke="#e07aa0" stroke-width="0.9"/>
<path d="M-4.2,0.6 C-3.2,1.6 -2,1.4 -1.2,0.6 M1.2,-0.6 C2,-1.4 3.2,-1.6 4.2,-0.6" fill="none" stroke="#e07aa0" stroke-width="0.9"/>
<line x1="-2.4" y1="-1.2" x2="-2.4" y2="1.2" stroke="#e07aa0" stroke-width="0.5"/>
<line x1="2.4" y1="-1.2" x2="2.4" y2="1.2" stroke="#e07aa0" stroke-width="0.5"/>
</g>
<g transform="translate(502.2,91.2) rotate(-70)">
<path d="M-4.2,-0.6 C-2.8,-2.4 -1.2,-1.8 0,0 C1.2,1.8 2.8,2.4 4.2,0.6" fill="none" stroke="#9a6ac0" stroke-width="0.9"/>
<path d="M-4.2,0.6 C-3.2,1.6 -2,1.4 -1.2,0.6 M1.2,-0.6 C2,-1.4 3.2,-1.6 4.2,-0.6" fill="none" stroke="#9a6ac0" stroke-width="0.9"/>
<line x1="-2.4" y1="-1.2" x2="-2.4" y2="1.2" stroke="#9a6ac0" stroke-width="0.5"/>
<line x1="2.4" y1="-1.2" x2="2.4" y2="1.2" stroke="#9a6ac0" stroke-width="0.5"/>
</g>
<g transform="translate(508.2,90.4) rotate(-70)">
<path d="M-4.2,-0.6 C-2.8,-2.4 -1.2,-1.8 0,0 C1.2,1.8 2.8,2.4 4.2,0.6" fill="none" stroke="#f5c84a" stroke-width="0.9"/>
<path d="M-4.2,0.6 C-3.2,1.6 -2,1.4 -1.2,0.6 M1.2,-0.6 C2,-1.4 3.2,-1.6 4.2,-0.6" fill="none" stroke="#f5c84a" stroke-width="0.9"/>
<line x1="-2.4" y1="-1.2" x2="-2.4" y2="1.2" stroke="#f5c84a" stroke-width="0.5"/>
<line x1="2.4" y1="-1.2" x2="2.4" y2="1.2" stroke="#f5c84a" stroke-width="0.5"/>
</g>
<g transform="translate(501.6,118.6) rotate(-70)">
<path d="M-4.2,-0.6 C-2.8,-2.4 -1.2,-1.8 0,0 C1.2,1.8 2.8,2.4 4.2,0.6" fill="none" stroke="#6f8fd0" stroke-width="0.9"/>
<path d="M-4.2,0.6 C-3.2,1.6 -2,1.4 -1.2,0.6 M1.2,-0.6 C2,-1.4 3.2,-1.6 4.2,-0.6" fill="none" stroke="#6f8fd0" stroke-width="0.9"/>
<line x1="-2.4" y1="-1.2" x2="-2.4" y2="1.2" stroke="#6f8fd0" stroke-width="0.5"/>
<line x1="2.4" y1="-1.2" x2="2.4" y2="1.2" stroke="#6f8fd0" stroke-width="0.5"/>
</g>
<g transform="translate(507.6,117.8) rotate(-70)">
<path d="M-4.2,-0.6 C-2.8,-2.4 -1.2,-1.8 0,0 C1.2,1.8 2.8,2.4 4.2,0.6" fill="none" stroke="#6f8fd0" stroke-width="0.9"/>
<path d="M-4.2,0.6 C-3.2,1.6 -2,1.4 -1.2,0.6 M1.2,-0.6 C2,-1.4 3.2,-1.6 4.2,-0.6" fill="none" stroke="#6f8fd0" stroke-width="0.9"/>
<line x1="-2.4" y1="-1.2" x2="-2.4" y2="1.2" stroke="#6f8fd0" stroke-width="0.5"/>
<line x1="2.4" y1="-1.2" x2="2.4" y2="1.2" stroke="#6f8fd0" stroke-width="0.5"/>
</g>
<g transform="translate(502.2,125.4) rotate(-70)">
<path d="M-4.2,-0.6 C-2.8,-2.4 -1.2,-1.8 0,0 C1.2,1.8 2.8,2.4 4.2,0.6" fill="none" stroke="#f5c84a" stroke-width="0.9"/>
<path d="M-4.2,0.6 C-3.2,1.6 -2,1.4 -1.2,0.6 M1.2,-0.6 C2,-1.4 3.2,-1.6 4.2,-0.6" fill="none" stroke="#f5c84a" stroke-width="0.9"/>
<line x1="-2.4" y1="-1.2" x2="-2.4" y2="1.2" stroke="#f5c84a" stroke-width="0.5"/>
<line x1="2.4" y1="-1.2" x2="2.4" y2="1.2" stroke="#f5c84a" stroke-width="0.5"/>
</g>
<g transform="translate(508.2,124.6) rotate(-70)">
<path d="M-4.2,-0.6 C-2.8,-2.4 -1.2,-1.8 0,0 C1.2,1.8 2.8,2.4 4.2,0.6" fill="none" stroke="#f5c84a" stroke-width="0.9"/>
<path d="M-4.2,0.6 C-3.2,1.6 -2,1.4 -1.2,0.6 M1.2,-0.6 C2,-1.4 3.2,-1.6 4.2,-0.6" fill="none" stroke="#f5c84a" stroke-width="0.9"/>
<line x1="-2.4" y1="-1.2" x2="-2.4" y2="1.2" stroke="#f5c84a" stroke-width="0.5"/>
<line x1="2.4" y1="-1.2" x2="2.4" y2="1.2" stroke="#f5c84a" stroke-width="0.5"/>
</g>
<text x="516.3" y="36.6" font-size="8.5" textLength="59.8" lengthAdjust="spacingAndGlyphs" fill="#231f20">Animal-matched</text>
<text x="516.3" y="45.8" font-size="8.5" textLength="67.9" lengthAdjust="spacingAndGlyphs" fill="#231f20">statistical analyses</text>
<text x="516.3" y="103.4" font-size="8.5" textLength="59.8" lengthAdjust="spacingAndGlyphs" fill="#231f20">Animal-matched</text>
<text x="516.3" y="112.6" font-size="8.5" textLength="67.9" lengthAdjust="spacingAndGlyphs" fill="#231f20">statistical analyses</text>
<filter id="spB" x="0" y="0" width="100%" height="100%" filterUnits="objectBoundingBox" color-interpolation-filters="sRGB"><feTurbulence type="fractalNoise" baseFrequency="0.75" numOctaves="2" seed="3"/><feColorMatrix type="matrix" values="0 0 0 0 1  0 0 0 0 1  0 0 0 0 1  9 0 0 0 -6.0"/></filter>
<filter id="spC" x="0" y="0" width="100%" height="100%" filterUnits="objectBoundingBox" color-interpolation-filters="sRGB"><feTurbulence type="fractalNoise" baseFrequency="0.8" numOctaves="2" seed="5"/><feColorMatrix type="matrix" values="0 0 0 0 1  0 0 0 0 1  0 0 0 0 1  9 0 0 0 -4.6"/></filter>
<filter id="spCS" x="0" y="0" width="100%" height="100%" filterUnits="objectBoundingBox" color-interpolation-filters="sRGB"><feTurbulence type="fractalNoise" baseFrequency="0.8" numOctaves="2" seed="7"/><feColorMatrix type="matrix" values="0 0 0 0 1  0 0 0 0 1  0 0 0 0 1  9 0 0 0 -4.9"/></filter>
<text x="0.0" y="166.1" font-size="14.2" font-weight="bold" textLength="7.4" lengthAdjust="spacingAndGlyphs" fill="#000">b</text>
<text x="18.4" y="166.1" font-size="10.2" textLength="353.1" lengthAdjust="spacingAndGlyphs" fill="#231f20">scRNA-seq, tumor and blood samples, individuals with breast cancer (ref.15)</text>
<text x="173.6" y="183.7" font-size="8.2" textLength="42.5" lengthAdjust="spacingAndGlyphs" fill="#231f20">Cell types</text>
<text x="362.8" y="183.9" font-size="8.2" textLength="15.6" lengthAdjust="spacingAndGlyphs" fill="#231f20">Site</text>
<text x="491.2" y="172.5" font-size="8.2" textLength="142.9" lengthAdjust="spacingAndGlyphs" fill="#231f20">Immune cell breast cancer tumor</text>
<text x="519.8" y="183.7" font-size="8.2" textLength="86.4" lengthAdjust="spacingAndGlyphs" fill="#231f20">infiltration signature</text>
<circle cx="9.1" cy="209.2" r="1.9" fill="#F8766D"/>
<text x="16.6" y="211.9" font-size="8.3" textLength="18.7" lengthAdjust="spacingAndGlyphs" fill="#231f20">T cell</text>
<circle cx="9.1" cy="220.7" r="1.9" fill="#DE8C00"/>
<text x="16.6" y="223.4" font-size="8.3" textLength="40" lengthAdjust="spacingAndGlyphs" fill="#231f20">CD4<tspan dy="-3.2" font-size="5">+</tspan><tspan dy="3.2"> T cell</tspan></text>
<circle cx="9.1" cy="232.1" r="1.9" fill="#B79F00"/>
<text x="16.6" y="234.8" font-size="8.3" textLength="40" lengthAdjust="spacingAndGlyphs" fill="#231f20">CD8<tspan dy="-3.2" font-size="5">+</tspan><tspan dy="3.2"> T cell</tspan></text>
<circle cx="9.1" cy="243.6" r="1.9" fill="#7CAE00"/>
<text x="16.6" y="246.3" font-size="8.3" textLength="19.3" lengthAdjust="spacingAndGlyphs" fill="#231f20">B cell</text>
<circle cx="9.1" cy="255.0" r="1.9" fill="#00BA38"/>
<text x="16.6" y="257.7" font-size="8.3" textLength="34.2" lengthAdjust="spacingAndGlyphs" fill="#231f20">Monocyte</text>
<circle cx="9.1" cy="266.5" r="1.9" fill="#00C08B"/>
<text x="16.6" y="269.2" font-size="8.3" textLength="43.8" lengthAdjust="spacingAndGlyphs" fill="#231f20">Macrophage</text>
<circle cx="80.6" cy="209.2" r="1.9" fill="#00BFC4"/>
<text x="87.6" y="211.9" font-size="8.3" textLength="11.4" lengthAdjust="spacingAndGlyphs" fill="#231f20">DC</text>
<circle cx="80.6" cy="220.7" r="1.9" fill="#00B4F0"/>
<text x="87.6" y="223.4" font-size="8.3" textLength="31.1" lengthAdjust="spacingAndGlyphs" fill="#231f20">Mast cell</text>
<circle cx="80.6" cy="232.1" r="1.9" fill="#619CFF"/>
<text x="87.6" y="234.8" font-size="8.3" textLength="16.7" lengthAdjust="spacingAndGlyphs" fill="#231f20">ILC1</text>
<circle cx="80.6" cy="243.6" r="1.9" fill="#C77CFF"/>
<text x="87.6" y="246.3" font-size="8.3" textLength="16.7" lengthAdjust="spacingAndGlyphs" fill="#231f20">ILC3</text>
<circle cx="80.6" cy="255.0" r="1.9" fill="#F564E3"/>
<text x="87.6" y="257.7" font-size="8.3" textLength="16.7" lengthAdjust="spacingAndGlyphs" fill="#231f20">ILC2</text>
<circle cx="80.6" cy="266.5" r="1.9" fill="#FF64B0"/>
<text x="87.6" y="269.2" font-size="8.3" textLength="30.2" lengthAdjust="spacingAndGlyphs" fill="#231f20">Basophil</text>
<linearGradient id="g1" gradientUnits="userSpaceOnUse" x1="0" y1="199" x2="0" y2="250"><stop offset="0" stop-color="#6f90d6"/><stop offset="0.2" stop-color="#7a8fcc"/><stop offset="0.32" stop-color="#d69068"/><stop offset="0.5" stop-color="#e98270"/><stop offset="0.68" stop-color="#e4866a"/><stop offset="0.8" stop-color="#d6902e"/><stop offset="1" stop-color="#d39028"/></linearGradient>
<linearGradient id="g2" gradientUnits="userSpaceOnUse" x1="152" y1="0" x2="180" y2="0"><stop offset="0" stop-color="#ee7c6c"/><stop offset="0.45" stop-color="#ec7e68"/><stop offset="0.75" stop-color="#e08c40"/><stop offset="1" stop-color="#dc9038"/></linearGradient>
<linearGradient id="g3" gradientUnits="userSpaceOnUse" x1="170" y1="0" x2="184" y2="0"><stop offset="0" stop-color="#7d8fd8"/><stop offset="1" stop-color="#a680d8"/></linearGradient>
<linearGradient id="g4" gradientUnits="userSpaceOnUse" x1="203" y1="218" x2="218" y2="229"><stop offset="0" stop-color="#2bb88f"/><stop offset="0.55" stop-color="#2ab99a"/><stop offset="0.8" stop-color="#22bcc0"/><stop offset="1" stop-color="#22bcc0"/></linearGradient>
<g transform="translate(127.30,190.00) scale(1,1) translate(-127.3,-190)">
<circle cx="195.8" cy="191.0" r="0.8" fill="#FF64B0"/>
<path d="M200.4,193.9 L204.1,196.4" fill="none" stroke="#00B4F0" stroke-width="1.2" stroke-linecap="round" stroke-linejoin="round"/>
<path d="M155.0,226.0 C155.8,225.4 157.4,226.8 159.0,226.5 C160.6,226.2 162.7,224.9 164.3,224.3 C165.9,223.7 167.2,223.4 168.7,223.0 C170.1,222.6 171.6,221.9 173.0,222.0 C174.4,222.1 175.9,222.4 177.0,223.5 C178.1,224.6 179.1,226.3 179.5,228.3 C179.9,230.3 180.0,233.4 179.2,235.3 C178.4,237.2 176.7,238.7 174.8,239.7 C172.9,240.7 170.4,240.8 167.8,241.4 C165.2,242.1 161.5,242.7 159.0,243.6 C156.5,244.5 154.2,245.8 152.9,246.7 C151.7,247.6 151.9,249.6 151.5,249.0 C151.1,248.4 150.3,245.2 150.5,243.0 C150.7,240.8 151.8,238.2 152.5,236.0 C153.2,233.8 154.1,231.7 154.5,230.0 C154.9,228.3 154.2,226.6 155.0,226.0Z" fill="url(#g2)" stroke="none" stroke-width="0.7"/>
<path d="M141.5,198.9 C143.4,199.1 147.9,200.2 149.4,201.1 C150.9,202.0 150.5,202.8 150.7,204.6 C150.8,206.3 150.2,209.1 150.3,211.6 C150.4,214.1 150.5,217.3 151.1,219.5 C151.7,221.7 152.8,223.3 153.8,224.8 C154.8,226.3 156.4,227.1 157.0,228.5 C157.6,229.9 158.0,231.4 157.5,233.0 C157.0,234.6 154.9,236.3 154.0,238.0 C153.1,239.7 152.5,241.0 152.0,243.0 C151.5,245.0 152.3,249.1 151.1,250.2 C149.9,251.3 147.2,250.3 145.0,249.7 C142.8,249.1 139.8,248.2 138.0,246.7 C136.2,245.2 134.7,242.2 134.5,240.5 C134.3,238.8 137.5,237.6 137.1,236.2 C136.7,234.8 133.2,233.7 131.9,231.8 C130.6,229.9 130.0,227.0 129.3,224.8 C128.6,222.6 127.5,221.1 127.5,218.6 C127.5,216.1 128.3,212.5 129.3,209.9 C130.3,207.3 132.2,204.6 133.6,202.9 C135.0,201.2 136.7,200.5 138.0,199.8 C139.3,199.1 139.6,198.7 141.5,198.9Z" fill="url(#g1)" stroke="none" stroke-width="0.7"/>
<path d="M168.5,218.6 C168.7,217.2 169.2,215.2 170.4,214.3 C171.6,213.4 173.9,212.8 175.7,213.0 C177.4,213.2 179.6,214.4 180.9,215.6 C182.2,216.8 183.3,218.7 183.5,220.4 C183.7,222.1 182.9,224.3 182.2,225.6 C181.5,226.9 180.6,228.5 179.2,228.3 C177.8,228.1 175.7,225.4 174.0,224.5 C172.3,223.6 169.9,224.0 169.0,223.0 C168.1,222.0 168.3,220.0 168.5,218.6Z" fill="url(#g3)" stroke="none" stroke-width="0.7"/>
<path d="M182.5,224 Q187,228 190.5,232.6" fill="none" stroke="#8a88d8" stroke-width="1.0" stroke-linecap="round" stroke-linejoin="round"/>
<path d="M186.0,233.0 C186.7,232.1 188.6,231.7 190.0,231.8 C191.4,231.9 193.4,232.6 194.5,233.5 C195.6,234.4 196.6,236.2 196.8,237.5 C197.1,238.8 196.8,240.6 196.0,241.5 C195.2,242.4 193.4,242.8 192.0,242.8 C190.6,242.8 188.5,242.4 187.5,241.5 C186.5,240.6 186.1,238.9 185.8,237.5 C185.6,236.1 185.3,233.9 186.0,233.0Z" fill="#ef7c72" stroke="none" stroke-width="0.7"/>
<path d="M191.7,245 Q189,250 184.4,255.9" fill="none" stroke="#7cb03c" stroke-width="2.2" stroke-linecap="round" stroke-linejoin="round"/>
<circle cx="163.5" cy="259.0" r="2.2" fill="#22b4ea"/>
<path d="M200.9,256.1 C201.1,255.4 203.7,254.4 205.1,253.9 C206.5,253.4 207.9,253.5 209.5,253.3 C211.1,253.1 213.7,252.5 214.7,252.8 C215.7,253.2 214.9,254.3 215.4,255.4 C215.9,256.5 217.8,258.2 217.8,259.2 C217.8,260.1 216.3,260.5 215.6,261.1 C214.9,261.7 213.6,262.2 213.4,262.9 C213.2,263.6 214.3,264.3 214.3,265.5 C214.3,266.7 214.0,268.8 213.4,269.9 C212.8,271.0 211.9,271.9 210.8,272.3 C209.7,272.7 208.1,272.9 206.8,272.5 C205.5,272.1 204.2,270.8 202.9,269.9 C201.6,269.0 199.7,268.1 198.9,267.3 C198.1,266.5 198.0,265.6 198.3,265.1 C198.6,264.6 199.8,264.0 200.7,264.2 C201.6,264.4 202.9,265.9 203.8,266.4 C204.8,266.9 205.7,267.4 206.4,267.3 C207.1,267.2 207.9,266.7 208.1,266.0 C208.3,265.3 208.0,263.8 207.7,262.9 C207.3,261.9 206.7,261.1 206.0,260.3 C205.3,259.5 204.7,258.8 203.8,258.1 C203.0,257.4 200.7,256.8 200.9,256.1Z" fill="#79b03e" stroke="none" stroke-width="0.7"/>
<path d="M159.4,271.9 C160.1,271.7 160.9,273.2 162.3,274.1 C163.7,275.0 165.9,276.1 168.0,277.2 C170.1,278.3 171.8,279.1 175.0,281.0 C178.2,282.9 186.0,286.5 187.2,288.7 C188.4,290.9 184.4,292.2 182.0,294.0 C179.6,295.8 175.3,298.6 172.6,299.6 C169.9,300.6 167.7,300.0 166.0,299.8 C164.3,299.6 163.8,299.4 162.3,298.2 C160.8,296.9 158.2,294.7 157.2,292.3 C156.2,289.9 156.4,286.4 156.5,283.6 C156.6,280.8 157.5,277.4 158.0,275.5 C158.5,273.6 158.7,272.1 159.4,271.9Z" fill="#74ae3c" stroke="none" stroke-width="0.7"/>
<path d="M166.5,273.5 C166.3,272.2 168.3,270.7 170.0,269.5 C171.7,268.3 174.5,266.8 176.9,266.1 C179.3,265.4 182.4,265.0 184.2,265.3 C186.0,265.6 187.1,266.7 187.5,268.0 C187.9,269.3 187.1,271.4 186.5,273.0 C185.9,274.6 184.8,276.3 184.2,277.7 C183.6,279.1 183.8,280.8 182.8,281.4 C181.8,281.9 180.0,281.6 178.0,281.0 C176.0,280.4 172.9,278.8 171.0,277.5 C169.1,276.2 166.7,274.8 166.5,273.5Z" fill="#86bb58" stroke="none" stroke-width="0.7"/>
<circle cx="159.6" cy="272.2" r="1.0" fill="#e08a2a"/>
<path d="M201.2,218.7 C201.8,217.7 203.4,216.6 205.5,216.2 C207.6,215.8 211.4,216.1 213.6,216.5 C215.8,216.9 217.2,218.1 218.7,218.7 C220.1,219.3 221.5,220.4 222.3,220.1 C223.2,219.8 223.1,217.2 223.8,216.8 C224.5,216.4 225.9,217.1 226.7,217.7 C227.5,218.2 228.8,219.3 228.6,220.1 C228.4,220.9 226.6,221.8 225.3,222.3 C224.0,222.8 222.0,222.4 220.9,223.1 C219.8,223.8 219.7,225.6 218.7,226.7 C217.7,227.8 216.5,229.2 215.0,229.6 C213.5,230.0 211.5,229.6 209.9,228.9 C208.3,228.2 206.8,226.4 205.5,225.3 C204.2,224.2 202.6,223.4 201.9,222.3 C201.2,221.2 200.6,219.7 201.2,218.7Z" fill="url(#g4)" stroke="none" stroke-width="0.7"/>
<path d="M221.0,219.5 C221.4,218.6 222.9,217.1 223.8,216.8 C224.8,216.5 225.9,217.1 226.7,217.7 C227.5,218.2 228.8,219.3 228.6,220.1 C228.4,220.9 226.5,221.9 225.3,222.3 C224.1,222.7 222.2,223.0 221.5,222.5 C220.8,222.0 220.6,220.4 221.0,219.5Z" fill="#2db34c" stroke="none" stroke-width="0.7"/>
<path d="M210.3,229 Q213.5,235 218,238.5 Q221,240.2 225,240.5" fill="none" stroke="#22bcc4" stroke-width="2.2" stroke-linecap="round" stroke-linejoin="round"/>
<path d="M229.5,208.5 C230.1,207.7 231.5,206.9 232.5,206.8 C233.5,206.7 234.9,207.2 235.5,208.0 C236.1,208.8 236.3,210.3 236.2,211.5 C236.1,212.7 235.2,213.5 235.0,215.0 C234.8,216.5 236.0,219.5 235.3,220.5 C234.6,221.5 231.8,221.9 231.0,221.0 C230.2,220.1 230.8,216.6 230.5,215.0 C230.2,213.4 229.2,212.6 229.0,211.5 C228.8,210.4 228.9,209.3 229.5,208.5Z" fill="#2db34c" stroke="none" stroke-width="0.7"/>
<path d="M231.0,221.5 C231.7,220.6 233.5,220.4 235.0,220.4 C236.5,220.4 238.7,220.7 240.0,221.5 C241.3,222.3 242.5,223.9 243.0,225.5 C243.5,227.1 243.5,229.5 243.0,231.0 C242.5,232.5 241.4,233.9 240.0,234.5 C238.6,235.1 235.9,235.1 234.5,234.7 C233.1,234.3 232.1,233.4 231.5,232.0 C230.9,230.6 230.9,227.8 230.8,226.0 C230.7,224.2 230.3,222.4 231.0,221.5Z" fill="#2db34c" stroke="none" stroke-width="0.7"/>
<path d="M234,233 L233,238" fill="none" stroke="#22bdc6" stroke-width="3" stroke-linecap="round" stroke-linejoin="round"/>
<path d="M224.0,239.0 C224.6,238.0 227.5,238.4 229.0,237.5 C230.5,236.6 231.8,234.2 233.0,233.5 C234.2,232.8 235.5,232.8 236.2,233.5 C236.9,234.2 237.0,236.3 237.0,238.0 C237.0,239.7 236.8,242.0 236.0,243.5 C235.2,245.0 233.2,246.6 232.0,247.2 C230.8,247.8 229.8,247.8 228.7,247.2 C227.6,246.6 226.3,244.9 225.5,243.5 C224.7,242.1 223.4,240.0 224.0,239.0Z" fill="#22bdc6" stroke="none" stroke-width="0.7"/>
<path d="M237.9,242.9 L243,240.4" fill="none" stroke="#22bdc6" stroke-width="1.2" stroke-linecap="round" stroke-linejoin="round"/>
<path d="M255.3,219.0 C255.8,218.1 257.6,217.6 258.5,217.4 C259.4,217.2 259.9,217.3 260.5,218.0 C261.1,218.7 262.3,220.3 262.4,221.5 C262.5,222.7 261.9,224.3 261.0,225.0 C260.1,225.7 257.9,225.8 257.0,225.5 C256.1,225.2 255.8,224.1 255.5,223.0 C255.2,221.9 254.8,219.9 255.3,219.0Z" fill="#26bdc8" stroke="none" stroke-width="0.7"/>
<path d="M259.9,225 L259.9,230" fill="none" stroke="#26bdc8" stroke-width="0.8" stroke-linecap="round" stroke-linejoin="round"/>
<path d="M256.3,233.0 C256.3,231.9 258.4,229.8 259.5,229.6 C260.6,229.4 262.6,231.0 263.0,232.0 C263.4,233.0 262.6,234.8 262.0,235.5 C261.4,236.2 260.4,236.7 259.5,236.3 C258.6,235.9 256.3,234.1 256.3,233.0Z" fill="#26bdc8" stroke="none" stroke-width="0.7"/>
<ellipse cx="157.5" cy="238.5" rx="5" ry="3.6" fill="#fff" fill-opacity="0.45"/>
<ellipse cx="178" cy="276.5" rx="6" ry="3" fill="#fff" fill-opacity="0.35"/>
<path d="M161.5,276 Q165,288 171,298" fill="none" stroke="#fff" stroke-opacity="0.45" stroke-width="1.8"/>
</g>
<rect x="125" y="186" width="142" height="116" fill="#fff" filter="url(#spB)" opacity="1"/>
<line x1="121.3" y1="305.5" x2="121.3" y2="281.8" stroke="#4b5a75" stroke-width="0.9"/>
<path d="M121.3,278.8 L123.2,281.5 L121.3,281.1 L119.4,281.5Z" fill="#4b5a75"/>
<line x1="121.3" y1="305.5" x2="144.7" y2="305.5" stroke="#4b5a75" stroke-width="0.9"/>
<path d="M147.7,305.5 L145.0,307.4 L145.4,305.5 L145.0,303.6Z" fill="#4b5a75"/>
<text x="121.9" y="315.1" font-size="7.8" textLength="26.3" lengthAdjust="spacingAndGlyphs" fill="#231f20">UMAP 1</text>
<text transform="translate(115.9,305.9) rotate(-90)" font-size="7.8" textLength="28" lengthAdjust="spacingAndGlyphs" fill="#231f20">UMAP 2</text>
<linearGradient id="g5" gradientUnits="userSpaceOnUse" x1="0" y1="212" x2="0" y2="312"><stop offset="0" stop-color="#1fbcc4"/><stop offset="0.5" stop-color="#1fbcc4"/><stop offset="0.5" stop-color="#f0776e"/><stop offset="1" stop-color="#f0776e"/></linearGradient>
<linearGradient id="g6" gradientUnits="userSpaceOnUse" x1="210" y1="0" x2="226" y2="0"><stop offset="0" stop-color="#1fbcc4"/><stop offset="0.7" stop-color="#1fbcc4"/><stop offset="0.8" stop-color="#f0776e"/><stop offset="1" stop-color="#f0776e"/></linearGradient>
<linearGradient id="g7" gradientUnits="userSpaceOnUse" x1="186" y1="0" x2="197" y2="0"><stop offset="0" stop-color="#f0776e"/><stop offset="0.6" stop-color="#f0776e"/><stop offset="1" stop-color="#8ab8b8"/></linearGradient>
<g transform="translate(297.70,189.20) scale(1.078,0.985) translate(-127.3,-190)">
<circle cx="195.8" cy="191.0" r="0.8" fill="#f0776e"/>
<path d="M200.4,193.9 L204.1,196.4" fill="none" stroke="#1fbcc4" stroke-width="1.2" stroke-linecap="round" stroke-linejoin="round"/>
<path d="M155.0,226.0 C155.8,225.4 157.4,226.8 159.0,226.5 C160.6,226.2 162.7,224.9 164.3,224.3 C165.9,223.7 167.2,223.4 168.7,223.0 C170.1,222.6 171.6,221.9 173.0,222.0 C174.4,222.1 175.9,222.4 177.0,223.5 C178.1,224.6 179.1,226.3 179.5,228.3 C179.9,230.3 180.0,233.4 179.2,235.3 C178.4,237.2 176.7,238.7 174.8,239.7 C172.9,240.7 170.4,240.8 167.8,241.4 C165.2,242.1 161.5,242.7 159.0,243.6 C156.5,244.5 154.2,245.8 152.9,246.7 C151.7,247.6 151.9,249.6 151.5,249.0 C151.1,248.4 150.3,245.2 150.5,243.0 C150.7,240.8 151.8,238.2 152.5,236.0 C153.2,233.8 154.1,231.7 154.5,230.0 C154.9,228.3 154.2,226.6 155.0,226.0Z" fill="#1fbcc4" stroke="none" stroke-width="0.7"/>
<path d="M141.5,198.9 C143.4,199.1 147.9,200.2 149.4,201.1 C150.9,202.0 150.5,202.8 150.7,204.6 C150.8,206.3 150.2,209.1 150.3,211.6 C150.4,214.1 150.5,217.3 151.1,219.5 C151.7,221.7 152.8,223.3 153.8,224.8 C154.8,226.3 156.4,227.1 157.0,228.5 C157.6,229.9 158.0,231.4 157.5,233.0 C157.0,234.6 154.9,236.3 154.0,238.0 C153.1,239.7 152.5,241.0 152.0,243.0 C151.5,245.0 152.3,249.1 151.1,250.2 C149.9,251.3 147.2,250.3 145.0,249.7 C142.8,249.1 139.8,248.2 138.0,246.7 C136.2,245.2 134.7,242.2 134.5,240.5 C134.3,238.8 137.5,237.6 137.1,236.2 C136.7,234.8 133.2,233.7 131.9,231.8 C130.6,229.9 130.0,227.0 129.3,224.8 C128.6,222.6 127.5,221.1 127.5,218.6 C127.5,216.1 128.3,212.5 129.3,209.9 C130.3,207.3 132.2,204.6 133.6,202.9 C135.0,201.2 136.7,200.5 138.0,199.8 C139.3,199.1 139.6,198.7 141.5,198.9Z" fill="#f0776e" stroke="none" stroke-width="0.7"/>
<path d="M168.5,218.6 C168.7,217.2 169.2,215.2 170.4,214.3 C171.6,213.4 173.9,212.8 175.7,213.0 C177.4,213.2 179.6,214.4 180.9,215.6 C182.2,216.8 183.3,218.7 183.5,220.4 C183.7,222.1 182.9,224.3 182.2,225.6 C181.5,226.9 180.6,228.5 179.2,228.3 C177.8,228.1 175.7,225.4 174.0,224.5 C172.3,223.6 169.9,224.0 169.0,223.0 C168.1,222.0 168.3,220.0 168.5,218.6Z" fill="#1fbcc4" stroke="none" stroke-width="0.7"/>
<path d="M182.5,224 Q187,228 190.5,232.6" fill="none" stroke="#1fbcc4" stroke-width="1.0" stroke-linecap="round" stroke-linejoin="round"/>
<path d="M186.0,233.0 C186.7,232.1 188.6,231.7 190.0,231.8 C191.4,231.9 193.4,232.6 194.5,233.5 C195.6,234.4 196.6,236.2 196.8,237.5 C197.1,238.8 196.8,240.6 196.0,241.5 C195.2,242.4 193.4,242.8 192.0,242.8 C190.6,242.8 188.5,242.4 187.5,241.5 C186.5,240.6 186.1,238.9 185.8,237.5 C185.6,236.1 185.3,233.9 186.0,233.0Z" fill="url(#g7)" stroke="none" stroke-width="0.7"/>
<path d="M191.7,245 Q189,250 184.4,255.9" fill="none" stroke="#1fbcc4" stroke-width="2.2" stroke-linecap="round" stroke-linejoin="round"/>
<circle cx="163.5" cy="259.0" r="2.2" fill="#f0776e"/>
<path d="M200.9,256.1 C201.1,255.4 203.7,254.4 205.1,253.9 C206.5,253.4 207.9,253.5 209.5,253.3 C211.1,253.1 213.7,252.5 214.7,252.8 C215.7,253.2 214.9,254.3 215.4,255.4 C215.9,256.5 217.8,258.2 217.8,259.2 C217.8,260.1 216.3,260.5 215.6,261.1 C214.9,261.7 213.6,262.2 213.4,262.9 C213.2,263.6 214.3,264.3 214.3,265.5 C214.3,266.7 214.0,268.8 213.4,269.9 C212.8,271.0 211.9,271.9 210.8,272.3 C209.7,272.7 208.1,272.9 206.8,272.5 C205.5,272.1 204.2,270.8 202.9,269.9 C201.6,269.0 199.7,268.1 198.9,267.3 C198.1,266.5 198.0,265.6 198.3,265.1 C198.6,264.6 199.8,264.0 200.7,264.2 C201.6,264.4 202.9,265.9 203.8,266.4 C204.8,266.9 205.7,267.4 206.4,267.3 C207.1,267.2 207.9,266.7 208.1,266.0 C208.3,265.3 208.0,263.8 207.7,262.9 C207.3,261.9 206.7,261.1 206.0,260.3 C205.3,259.5 204.7,258.8 203.8,258.1 C203.0,257.4 200.7,256.8 200.9,256.1Z" fill="url(#g5)" stroke="none" stroke-width="0.7"/>
<path d="M159.4,271.9 C160.1,271.7 160.9,273.2 162.3,274.1 C163.7,275.0 165.9,276.1 168.0,277.2 C170.1,278.3 171.8,279.1 175.0,281.0 C178.2,282.9 186.0,286.5 187.2,288.7 C188.4,290.9 184.4,292.2 182.0,294.0 C179.6,295.8 175.3,298.6 172.6,299.6 C169.9,300.6 167.7,300.0 166.0,299.8 C164.3,299.6 163.8,299.4 162.3,298.2 C160.8,296.9 158.2,294.7 157.2,292.3 C156.2,289.9 156.4,286.4 156.5,283.6 C156.6,280.8 157.5,277.4 158.0,275.5 C158.5,273.6 158.7,272.1 159.4,271.9Z" fill="#f0776e" stroke="none" stroke-width="0.7"/>
<path d="M166.5,273.5 C166.3,272.2 168.3,270.7 170.0,269.5 C171.7,268.3 174.5,266.8 176.9,266.1 C179.3,265.4 182.4,265.0 184.2,265.3 C186.0,265.6 187.1,266.7 187.5,268.0 C187.9,269.3 187.1,271.4 186.5,273.0 C185.9,274.6 184.8,276.3 184.2,277.7 C183.6,279.1 183.8,280.8 182.8,281.4 C181.8,281.9 180.0,281.6 178.0,281.0 C176.0,280.4 172.9,278.8 171.0,277.5 C169.1,276.2 166.7,274.8 166.5,273.5Z" fill="#1fbcc4" stroke="none" stroke-width="0.7"/>
<circle cx="159.6" cy="272.2" r="1.0" fill="#f0776e"/>
<path d="M201.2,218.7 C201.8,217.7 203.4,216.6 205.5,216.2 C207.6,215.8 211.4,216.1 213.6,216.5 C215.8,216.9 217.2,218.1 218.7,218.7 C220.1,219.3 221.5,220.4 222.3,220.1 C223.2,219.8 223.1,217.2 223.8,216.8 C224.5,216.4 225.9,217.1 226.7,217.7 C227.5,218.2 228.8,219.3 228.6,220.1 C228.4,220.9 226.6,221.8 225.3,222.3 C224.0,222.8 222.0,222.4 220.9,223.1 C219.8,223.8 219.7,225.6 218.7,226.7 C217.7,227.8 216.5,229.2 215.0,229.6 C213.5,230.0 211.5,229.6 209.9,228.9 C208.3,228.2 206.8,226.4 205.5,225.3 C204.2,224.2 202.6,223.4 201.9,222.3 C201.2,221.2 200.6,219.7 201.2,218.7Z" fill="#1fbcc4" stroke="none" stroke-width="0.7"/>
<path d="M221.0,219.5 C221.4,218.6 222.9,217.1 223.8,216.8 C224.8,216.5 225.9,217.1 226.7,217.7 C227.5,218.2 228.8,219.3 228.6,220.1 C228.4,220.9 226.5,221.9 225.3,222.3 C224.1,222.7 222.2,223.0 221.5,222.5 C220.8,222.0 220.6,220.4 221.0,219.5Z" fill="#1fbcc4" stroke="none" stroke-width="0.7"/>
<path d="M210.3,229 Q213.5,235 218,238.5 Q221,240.2 225,240.5" fill="none" stroke="url(#g6)" stroke-width="2.2" stroke-linecap="round" stroke-linejoin="round"/>
<path d="M229.5,208.5 C230.1,207.7 231.5,206.9 232.5,206.8 C233.5,206.7 234.9,207.2 235.5,208.0 C236.1,208.8 236.3,210.3 236.2,211.5 C236.1,212.7 235.2,213.5 235.0,215.0 C234.8,216.5 236.0,219.5 235.3,220.5 C234.6,221.5 231.8,221.9 231.0,221.0 C230.2,220.1 230.8,216.6 230.5,215.0 C230.2,213.4 229.2,212.6 229.0,211.5 C228.8,210.4 228.9,209.3 229.5,208.5Z" fill="#f0776e" stroke="none" stroke-width="0.7"/>
<path d="M231.0,221.5 C231.7,220.6 233.5,220.4 235.0,220.4 C236.5,220.4 238.7,220.7 240.0,221.5 C241.3,222.3 242.5,223.9 243.0,225.5 C243.5,227.1 243.5,229.5 243.0,231.0 C242.5,232.5 241.4,233.9 240.0,234.5 C238.6,235.1 235.9,235.1 234.5,234.7 C233.1,234.3 232.1,233.4 231.5,232.0 C230.9,230.6 230.9,227.8 230.8,226.0 C230.7,224.2 230.3,222.4 231.0,221.5Z" fill="#f0776e" stroke="none" stroke-width="0.7"/>
<path d="M234,233 L233,238" fill="none" stroke="#f0776e" stroke-width="3" stroke-linecap="round" stroke-linejoin="round"/>
<path d="M224.0,239.0 C224.6,238.0 227.5,238.4 229.0,237.5 C230.5,236.6 231.8,234.2 233.0,233.5 C234.2,232.8 235.5,232.8 236.2,233.5 C236.9,234.2 237.0,236.3 237.0,238.0 C237.0,239.7 236.8,242.0 236.0,243.5 C235.2,245.0 233.2,246.6 232.0,247.2 C230.8,247.8 229.8,247.8 228.7,247.2 C227.6,246.6 226.3,244.9 225.5,243.5 C224.7,242.1 223.4,240.0 224.0,239.0Z" fill="#f0776e" stroke="none" stroke-width="0.7"/>
<path d="M237.9,242.9 L243,240.4" fill="none" stroke="#f0776e" stroke-width="1.2" stroke-linecap="round" stroke-linejoin="round"/>
<path d="M255.3,219.0 C255.8,218.1 257.6,217.6 258.5,217.4 C259.4,217.2 259.9,217.3 260.5,218.0 C261.1,218.7 262.3,220.3 262.4,221.5 C262.5,222.7 261.9,224.3 261.0,225.0 C260.1,225.7 257.9,225.8 257.0,225.5 C256.1,225.2 255.8,224.1 255.5,223.0 C255.2,221.9 254.8,219.9 255.3,219.0Z" fill="#f0776e" stroke="none" stroke-width="0.7"/>
<path d="M259.9,225 L259.9,230" fill="none" stroke="#1fbcc4" stroke-width="0.8" stroke-linecap="round" stroke-linejoin="round"/>
<path d="M256.3,233.0 C256.3,231.9 258.4,229.8 259.5,229.6 C260.6,229.4 262.6,231.0 263.0,232.0 C263.4,233.0 262.6,234.8 262.0,235.5 C261.4,236.2 260.4,236.7 259.5,236.3 C258.6,235.9 256.3,234.1 256.3,233.0Z" fill="#1fbcc4" stroke="none" stroke-width="0.7"/>
<ellipse cx="157.5" cy="238.5" rx="5" ry="3.6" fill="#fff" fill-opacity="0.45"/>
<ellipse cx="178" cy="276.5" rx="6" ry="3" fill="#fff" fill-opacity="0.35"/>
<path d="M161.5,276 Q165,288 171,298" fill="none" stroke="#fff" stroke-opacity="0.45" stroke-width="1.8"/>
</g>
<rect x="295" y="186" width="152" height="116" fill="#fff" filter="url(#spB)" opacity="1"/>
<line x1="291.9" y1="305.2" x2="291.9" y2="282.0" stroke="#4b5a75" stroke-width="0.9"/>
<path d="M291.9,279.0 L293.8,281.7 L291.9,281.3 L290.0,281.7Z" fill="#4b5a75"/>
<line x1="291.9" y1="305.2" x2="314.4" y2="305.2" stroke="#4b5a75" stroke-width="0.9"/>
<path d="M317.4,305.2 L314.7,307.1 L315.1,305.2 L314.7,303.3Z" fill="#4b5a75"/>
<text x="290.6" y="315.1" font-size="7.8" textLength="26.3" lengthAdjust="spacingAndGlyphs" fill="#231f20">UMAP 1</text>
<text transform="translate(286.5,305.6) rotate(-90)" font-size="7.8" textLength="28" lengthAdjust="spacingAndGlyphs" fill="#231f20">UMAP 2</text>
<circle cx="361.7" cy="304.6" r="1.4" fill="#f0776e"/>
<text x="368.2" y="307.8" font-size="8.0" textLength="20.9" lengthAdjust="spacingAndGlyphs" fill="#231f20">Blood</text>
<circle cx="408.0" cy="304.6" r="1.4" fill="#1fbcc4"/>
<text x="415.4" y="307.8" font-size="8.0" textLength="22.9" lengthAdjust="spacingAndGlyphs" fill="#231f20">Tumor</text>
<linearGradient id="g8" gradientUnits="userSpaceOnUse" x1="158" y1="244" x2="178" y2="222"><stop offset="0" stop-color="#d8d0d0"/><stop offset="0.35" stop-color="#e89a88"/><stop offset="0.7" stop-color="#e85a40"/><stop offset="1" stop-color="#e8402a"/></linearGradient>
<linearGradient id="g9" gradientUnits="userSpaceOnUse" x1="0" y1="213" x2="0" y2="226"><stop offset="0" stop-color="#d0a0a0"/><stop offset="0.5" stop-color="#e86048"/><stop offset="1" stop-color="#e8432c"/></linearGradient>
<linearGradient id="g10" gradientUnits="userSpaceOnUse" x1="0" y1="212" x2="0" y2="312"><stop offset="0" stop-color="#e86a50"/><stop offset="0.5" stop-color="#e86a50"/><stop offset="0.5" stop-color="#958ccb"/><stop offset="1" stop-color="#958ccb"/></linearGradient>
<linearGradient id="g11" gradientUnits="userSpaceOnUse" x1="0" y1="266" x2="0" y2="281"><stop offset="0" stop-color="#e8402a"/><stop offset="0.6" stop-color="#e87a66"/><stop offset="1" stop-color="#e8c8c0"/></linearGradient>
<linearGradient id="g12" gradientUnits="userSpaceOnUse" x1="201" y1="0" x2="219" y2="0"><stop offset="0" stop-color="#d8b0b0"/><stop offset="0.35" stop-color="#e86048"/><stop offset="1" stop-color="#e8402a"/></linearGradient>
<g transform="translate(487.90,188.90) scale(1.11,0.99) translate(-127.3,-190)">
<circle cx="195.8" cy="191.0" r="0.8" fill="#e8432c"/>
<path d="M200.4,193.9 L204.1,196.4" fill="none" stroke="#e8432c" stroke-width="1.2" stroke-linecap="round" stroke-linejoin="round"/>
<path d="M155.0,226.0 C155.8,225.4 157.4,226.8 159.0,226.5 C160.6,226.2 162.7,224.9 164.3,224.3 C165.9,223.7 167.2,223.4 168.7,223.0 C170.1,222.6 171.6,221.9 173.0,222.0 C174.4,222.1 175.9,222.4 177.0,223.5 C178.1,224.6 179.1,226.3 179.5,228.3 C179.9,230.3 180.0,233.4 179.2,235.3 C178.4,237.2 176.7,238.7 174.8,239.7 C172.9,240.7 170.4,240.8 167.8,241.4 C165.2,242.1 161.5,242.7 159.0,243.6 C156.5,244.5 154.2,245.8 152.9,246.7 C151.7,247.6 151.9,249.6 151.5,249.0 C151.1,248.4 150.3,245.2 150.5,243.0 C150.7,240.8 151.8,238.2 152.5,236.0 C153.2,233.8 154.1,231.7 154.5,230.0 C154.9,228.3 154.2,226.6 155.0,226.0Z" fill="url(#g8)" stroke="none" stroke-width="0.7"/>
<path d="M141.5,198.9 C143.4,199.1 147.9,200.2 149.4,201.1 C150.9,202.0 150.5,202.8 150.7,204.6 C150.8,206.3 150.2,209.1 150.3,211.6 C150.4,214.1 150.5,217.3 151.1,219.5 C151.7,221.7 152.8,223.3 153.8,224.8 C154.8,226.3 156.4,227.1 157.0,228.5 C157.6,229.9 158.0,231.4 157.5,233.0 C157.0,234.6 154.9,236.3 154.0,238.0 C153.1,239.7 152.5,241.0 152.0,243.0 C151.5,245.0 152.3,249.1 151.1,250.2 C149.9,251.3 147.2,250.3 145.0,249.7 C142.8,249.1 139.8,248.2 138.0,246.7 C136.2,245.2 134.7,242.2 134.5,240.5 C134.3,238.8 137.5,237.6 137.1,236.2 C136.7,234.8 133.2,233.7 131.9,231.8 C130.6,229.9 130.0,227.0 129.3,224.8 C128.6,222.6 127.5,221.1 127.5,218.6 C127.5,216.1 128.3,212.5 129.3,209.9 C130.3,207.3 132.2,204.6 133.6,202.9 C135.0,201.2 136.7,200.5 138.0,199.8 C139.3,199.1 139.6,198.7 141.5,198.9Z" fill="#958ccb" stroke="none" stroke-width="0.7"/>
<path d="M168.5,218.6 C168.7,217.2 169.2,215.2 170.4,214.3 C171.6,213.4 173.9,212.8 175.7,213.0 C177.4,213.2 179.6,214.4 180.9,215.6 C182.2,216.8 183.3,218.7 183.5,220.4 C183.7,222.1 182.9,224.3 182.2,225.6 C181.5,226.9 180.6,228.5 179.2,228.3 C177.8,228.1 175.7,225.4 174.0,224.5 C172.3,223.6 169.9,224.0 169.0,223.0 C168.1,222.0 168.3,220.0 168.5,218.6Z" fill="url(#g9)" stroke="none" stroke-width="0.7"/>
<path d="M182.5,224 Q187,228 190.5,232.6" fill="none" stroke="#e8432c" stroke-width="1.0" stroke-linecap="round" stroke-linejoin="round"/>
<path d="M186.0,233.0 C186.7,232.1 188.6,231.7 190.0,231.8 C191.4,231.9 193.4,232.6 194.5,233.5 C195.6,234.4 196.6,236.2 196.8,237.5 C197.1,238.8 196.8,240.6 196.0,241.5 C195.2,242.4 193.4,242.8 192.0,242.8 C190.6,242.8 188.5,242.4 187.5,241.5 C186.5,240.6 186.1,238.9 185.8,237.5 C185.6,236.1 185.3,233.9 186.0,233.0Z" fill="#958ccb" stroke="none" stroke-width="0.7"/>
<path d="M191.7,245 Q189,250 184.4,255.9" fill="none" stroke="#e8a090" stroke-width="2.2" stroke-linecap="round" stroke-linejoin="round"/>
<circle cx="163.5" cy="259.0" r="2.2" fill="#958ccb"/>
<path d="M200.9,256.1 C201.1,255.4 203.7,254.4 205.1,253.9 C206.5,253.4 207.9,253.5 209.5,253.3 C211.1,253.1 213.7,252.5 214.7,252.8 C215.7,253.2 214.9,254.3 215.4,255.4 C215.9,256.5 217.8,258.2 217.8,259.2 C217.8,260.1 216.3,260.5 215.6,261.1 C214.9,261.7 213.6,262.2 213.4,262.9 C213.2,263.6 214.3,264.3 214.3,265.5 C214.3,266.7 214.0,268.8 213.4,269.9 C212.8,271.0 211.9,271.9 210.8,272.3 C209.7,272.7 208.1,272.9 206.8,272.5 C205.5,272.1 204.2,270.8 202.9,269.9 C201.6,269.0 199.7,268.1 198.9,267.3 C198.1,266.5 198.0,265.6 198.3,265.1 C198.6,264.6 199.8,264.0 200.7,264.2 C201.6,264.4 202.9,265.9 203.8,266.4 C204.8,266.9 205.7,267.4 206.4,267.3 C207.1,267.2 207.9,266.7 208.1,266.0 C208.3,265.3 208.0,263.8 207.7,262.9 C207.3,261.9 206.7,261.1 206.0,260.3 C205.3,259.5 204.7,258.8 203.8,258.1 C203.0,257.4 200.7,256.8 200.9,256.1Z" fill="url(#g10)" stroke="none" stroke-width="0.7"/>
<path d="M159.4,271.9 C160.1,271.7 160.9,273.2 162.3,274.1 C163.7,275.0 165.9,276.1 168.0,277.2 C170.1,278.3 171.8,279.1 175.0,281.0 C178.2,282.9 186.0,286.5 187.2,288.7 C188.4,290.9 184.4,292.2 182.0,294.0 C179.6,295.8 175.3,298.6 172.6,299.6 C169.9,300.6 167.7,300.0 166.0,299.8 C164.3,299.6 163.8,299.4 162.3,298.2 C160.8,296.9 158.2,294.7 157.2,292.3 C156.2,289.9 156.4,286.4 156.5,283.6 C156.6,280.8 157.5,277.4 158.0,275.5 C158.5,273.6 158.7,272.1 159.4,271.9Z" fill="#958ccb" stroke="none" stroke-width="0.7"/>
<path d="M166.5,273.5 C166.3,272.2 168.3,270.7 170.0,269.5 C171.7,268.3 174.5,266.8 176.9,266.1 C179.3,265.4 182.4,265.0 184.2,265.3 C186.0,265.6 187.1,266.7 187.5,268.0 C187.9,269.3 187.1,271.4 186.5,273.0 C185.9,274.6 184.8,276.3 184.2,277.7 C183.6,279.1 183.8,280.8 182.8,281.4 C181.8,281.9 180.0,281.6 178.0,281.0 C176.0,280.4 172.9,278.8 171.0,277.5 C169.1,276.2 166.7,274.8 166.5,273.5Z" fill="url(#g11)" stroke="none" stroke-width="0.7"/>
<circle cx="159.6" cy="272.2" r="1.0" fill="#958ccb"/>
<path d="M201.2,218.7 C201.8,217.7 203.4,216.6 205.5,216.2 C207.6,215.8 211.4,216.1 213.6,216.5 C215.8,216.9 217.2,218.1 218.7,218.7 C220.1,219.3 221.5,220.4 222.3,220.1 C223.2,219.8 223.1,217.2 223.8,216.8 C224.5,216.4 225.9,217.1 226.7,217.7 C227.5,218.2 228.8,219.3 228.6,220.1 C228.4,220.9 226.6,221.8 225.3,222.3 C224.0,222.8 222.0,222.4 220.9,223.1 C219.8,223.8 219.7,225.6 218.7,226.7 C217.7,227.8 216.5,229.2 215.0,229.6 C213.5,230.0 211.5,229.6 209.9,228.9 C208.3,228.2 206.8,226.4 205.5,225.3 C204.2,224.2 202.6,223.4 201.9,222.3 C201.2,221.2 200.6,219.7 201.2,218.7Z" fill="url(#g12)" stroke="none" stroke-width="0.7"/>
<path d="M221.0,219.5 C221.4,218.6 222.9,217.1 223.8,216.8 C224.8,216.5 225.9,217.1 226.7,217.7 C227.5,218.2 228.8,219.3 228.6,220.1 C228.4,220.9 226.5,221.9 225.3,222.3 C224.1,222.7 222.2,223.0 221.5,222.5 C220.8,222.0 220.6,220.4 221.0,219.5Z" fill="#e8432c" stroke="none" stroke-width="0.7"/>
<path d="M210.3,229 Q213.5,235 218,238.5 Q221,240.2 225,240.5" fill="none" stroke="#958ccb" stroke-width="2.2" stroke-linecap="round" stroke-linejoin="round"/>
<path d="M229.5,208.5 C230.1,207.7 231.5,206.9 232.5,206.8 C233.5,206.7 234.9,207.2 235.5,208.0 C236.1,208.8 236.3,210.3 236.2,211.5 C236.1,212.7 235.2,213.5 235.0,215.0 C234.8,216.5 236.0,219.5 235.3,220.5 C234.6,221.5 231.8,221.9 231.0,221.0 C230.2,220.1 230.8,216.6 230.5,215.0 C230.2,213.4 229.2,212.6 229.0,211.5 C228.8,210.4 228.9,209.3 229.5,208.5Z" fill="#958ccb" stroke="none" stroke-width="0.7"/>
<path d="M231.0,221.5 C231.7,220.6 233.5,220.4 235.0,220.4 C236.5,220.4 238.7,220.7 240.0,221.5 C241.3,222.3 242.5,223.9 243.0,225.5 C243.5,227.1 243.5,229.5 243.0,231.0 C242.5,232.5 241.4,233.9 240.0,234.5 C238.6,235.1 235.9,235.1 234.5,234.7 C233.1,234.3 232.1,233.4 231.5,232.0 C230.9,230.6 230.9,227.8 230.8,226.0 C230.7,224.2 230.3,222.4 231.0,221.5Z" fill="#958ccb" stroke="none" stroke-width="0.7"/>
<path d="M234,233 L233,238" fill="none" stroke="#958ccb" stroke-width="3" stroke-linecap="round" stroke-linejoin="round"/>
<path d="M224.0,239.0 C224.6,238.0 227.5,238.4 229.0,237.5 C230.5,236.6 231.8,234.2 233.0,233.5 C234.2,232.8 235.5,232.8 236.2,233.5 C236.9,234.2 237.0,236.3 237.0,238.0 C237.0,239.7 236.8,242.0 236.0,243.5 C235.2,245.0 233.2,246.6 232.0,247.2 C230.8,247.8 229.8,247.8 228.7,247.2 C227.6,246.6 226.3,244.9 225.5,243.5 C224.7,242.1 223.4,240.0 224.0,239.0Z" fill="#958ccb" stroke="none" stroke-width="0.7"/>
<path d="M237.9,242.9 L243,240.4" fill="none" stroke="#958ccb" stroke-width="1.2" stroke-linecap="round" stroke-linejoin="round"/>
<path d="M255.3,219.0 C255.8,218.1 257.6,217.6 258.5,217.4 C259.4,217.2 259.9,217.3 260.5,218.0 C261.1,218.7 262.3,220.3 262.4,221.5 C262.5,222.7 261.9,224.3 261.0,225.0 C260.1,225.7 257.9,225.8 257.0,225.5 C256.1,225.2 255.8,224.1 255.5,223.0 C255.2,221.9 254.8,219.9 255.3,219.0Z" fill="#958ccb" stroke="none" stroke-width="0.7"/>
<path d="M259.9,225 L259.9,230" fill="none" stroke="#e8432c" stroke-width="0.8" stroke-linecap="round" stroke-linejoin="round"/>
<path d="M256.3,233.0 C256.3,231.9 258.4,229.8 259.5,229.6 C260.6,229.4 262.6,231.0 263.0,232.0 C263.4,233.0 262.6,234.8 262.0,235.5 C261.4,236.2 260.4,236.7 259.5,236.3 C258.6,235.9 256.3,234.1 256.3,233.0Z" fill="#e8432c" stroke="none" stroke-width="0.7"/>
<ellipse cx="157.5" cy="238.5" rx="5" ry="3.6" fill="#fff" fill-opacity="0.45"/>
<ellipse cx="178" cy="276.5" rx="6" ry="3" fill="#fff" fill-opacity="0.35"/>
<path d="M161.5,276 Q165,288 171,298" fill="none" stroke="#fff" stroke-opacity="0.45" stroke-width="1.8"/>
</g>
<rect x="485" y="186" width="157" height="116" fill="#fff" filter="url(#spB)" opacity="1"/>
<line x1="482.5" y1="305.5" x2="482.5" y2="282.2" stroke="#4b5a75" stroke-width="0.9"/>
<path d="M482.5,279.2 L484.4,281.9 L482.5,281.5 L480.6,281.9Z" fill="#4b5a75"/>
<line x1="482.5" y1="305.5" x2="504.7" y2="305.5" stroke="#4b5a75" stroke-width="0.9"/>
<path d="M507.7,305.5 L505.0,307.4 L505.4,305.5 L505.0,303.6Z" fill="#4b5a75"/>
<text x="483.0" y="315.1" font-size="7.8" textLength="26.3" lengthAdjust="spacingAndGlyphs" fill="#231f20">UMAP 1</text>
<text transform="translate(477.1,305.9) rotate(-90)" font-size="7.8" textLength="28" lengthAdjust="spacingAndGlyphs" fill="#231f20">UMAP 2</text>
<text x="608.0" y="289.3" font-size="8.2" textLength="31.3" lengthAdjust="spacingAndGlyphs" fill="#231f20">Overall</text>
<text x="600.7" y="300.1" font-size="8.2" textLength="45.8" lengthAdjust="spacingAndGlyphs" fill="#231f20">expression</text>
<linearGradient id="g13" gradientUnits="userSpaceOnUse" x1="603.8" y1="0" x2="644.0" y2="0"><stop offset="0" stop-color="#8474c8"/><stop offset="0.33" stop-color="#cfc7c7"/><stop offset="0.66" stop-color="#e89080"/><stop offset="1" stop-color="#e8301c"/></linearGradient>
<rect x="603.8" y="306.0" width="40.2" height="4.5" fill="url(#g13)"/>
<text transform="translate(609.0,317.3) rotate(-45)" font-size="8" text-anchor="end" fill="#231f20">−0.2</text>
<text transform="translate(621.3,317.3) rotate(-45)" font-size="8" text-anchor="end" fill="#231f20">0</text>
<text transform="translate(634.0,317.3) rotate(-45)" font-size="8" text-anchor="end" fill="#231f20">0.2</text>
<text transform="translate(645.5,317.3) rotate(-45)" font-size="8" text-anchor="end" fill="#231f20">0.4</text>
<text x="0.0" y="338.6" font-size="14.2" font-weight="bold" textLength="7.4" lengthAdjust="spacingAndGlyphs" fill="#000">c</text>
<text x="17.5" y="339.0" font-size="10.2" textLength="377.0" lengthAdjust="spacingAndGlyphs" fill="#231f20">Primary NK cell scRNA-seq atlas, tumor and blood samples, breast cancer (ref.16)</text>
<circle cx="15.8" cy="357.4" r="1.6" fill="#f26d6d"/>
<text x="22.3" y="359.9" font-size="7.8" textLength="15.3" lengthAdjust="spacingAndGlyphs" fill="#231f20">BrHi</text>
<circle cx="15.8" cy="366.3" r="1.6" fill="#e8862a"/>
<text x="22.3" y="368.8" font-size="7.8" textLength="52.2" lengthAdjust="spacingAndGlyphs" fill="#231f20">BrLo-c1-<tspan font-style="italic">GZMH</tspan></text>
<circle cx="15.8" cy="375.3" r="1.6" fill="#d49a1c"/>
<text x="22.3" y="377.8" font-size="7.8" textLength="72.6" lengthAdjust="spacingAndGlyphs" fill="#231f20">BrLo-c2-<tspan font-style="italic">IL7R–RGS1</tspan><tspan dy="-2.8" font-size="4.5">lo</tspan></text>
<circle cx="15.8" cy="384.2" r="1.6" fill="#a9ad2a"/>
<text x="22.3" y="386.7" font-size="7.8" textLength="50.7" lengthAdjust="spacingAndGlyphs" fill="#231f20">BrLo-c3-<tspan font-style="italic">CCL3</tspan></text>
<circle cx="15.8" cy="393.1" r="1.6" fill="#5ab548"/>
<text x="22.3" y="395.6" font-size="7.8" textLength="45.6" lengthAdjust="spacingAndGlyphs" fill="#231f20">BrLo-c4-<tspan font-style="italic">IL7R</tspan></text>
<circle cx="15.8" cy="402.1" r="1.6" fill="#1fac4a"/>
<text x="22.3" y="404.6" font-size="7.8" textLength="52.2" lengthAdjust="spacingAndGlyphs" fill="#231f20">BrLo-c5-<tspan font-style="italic">CREM</tspan></text>
<circle cx="15.8" cy="411.0" r="1.6" fill="#22b98f"/>
<text x="22.3" y="413.5" font-size="7.8" textLength="42.4" lengthAdjust="spacingAndGlyphs" fill="#231f20">DiHi-c1-<tspan font-style="italic">IL32</tspan></text>
<circle cx="15.8" cy="419.9" r="1.6" fill="#17b9c6"/>
<text x="22.3" y="422.4" font-size="7.8" textLength="57.3" lengthAdjust="spacingAndGlyphs" fill="#231f20">DiHi-c2-<tspan font-style="italic">CX3CR1</tspan></text>
<circle cx="15.8" cy="428.8" r="1.6" fill="#12aee6"/>
<text x="22.3" y="431.3" font-size="7.8" textLength="53.2" lengthAdjust="spacingAndGlyphs" fill="#231f20">DiHi-c3-<tspan font-style="italic">ZNF90</tspan></text>
<circle cx="15.8" cy="437.8" r="1.6" fill="#3f8fe0"/>
<text x="22.3" y="440.3" font-size="7.8" textLength="56.2" lengthAdjust="spacingAndGlyphs" fill="#231f20">DiHi-c4-<tspan font-style="italic">NFKBIA</tspan></text>
<circle cx="15.8" cy="446.7" r="1.6" fill="#8a84e2"/>
<text x="22.3" y="449.2" font-size="7.8" textLength="52.2" lengthAdjust="spacingAndGlyphs" fill="#231f20">DiHi-c5-<tspan font-style="italic">MKI67</tspan></text>
<circle cx="15.8" cy="455.6" r="1.6" fill="#b070dc"/>
<text x="22.3" y="458.1" font-size="7.8" textLength="57.3" lengthAdjust="spacingAndGlyphs" fill="#231f20">DiHi-c6-<tspan font-style="italic">DNAJB1</tspan></text>
<circle cx="15.8" cy="464.6" r="1.6" fill="#d865c8"/>
<text x="22.3" y="467.1" font-size="7.8" textLength="53.6" lengthAdjust="spacingAndGlyphs" fill="#231f20">DiHi-c7-<tspan font-style="italic">NR4A3</tspan></text>
<circle cx="15.8" cy="473.5" r="1.6" fill="#f064a8"/>
<text x="22.3" y="476.0" font-size="7.8" textLength="53.3" lengthAdjust="spacingAndGlyphs" fill="#231f20">DiHi-c8-<tspan font-style="italic">KLRC2</tspan></text>
<text x="158.5" y="358.0" font-size="8.2" textLength="72.2" lengthAdjust="spacingAndGlyphs" fill="#231f20">NK cell subtypes</text>
<text x="362.4" y="358.0" font-size="8.2" textLength="16.1" lengthAdjust="spacingAndGlyphs" fill="#231f20">Site</text>
<text x="519.1" y="347.1" font-size="8.2" textLength="111.1" lengthAdjust="spacingAndGlyphs" fill="#231f20">NK cell pan-cancer tumor</text>
<text x="530.6" y="357.3" font-size="8.2" textLength="87.1" lengthAdjust="spacingAndGlyphs" fill="#231f20">infiltration signature</text>
<g transform="translate(132.30,364.50) scale(1.0000,1.0000) translate(-132.3,-364.5)">
<path d="M144.1,373.1 C145.4,371.2 149.0,368.5 151.1,367.1 C153.1,365.6 154.4,364.8 156.6,364.5 C158.8,364.2 162.2,365.4 164.2,365.4 C166.2,365.4 164.9,364.4 168.4,364.5 C171.9,364.6 182.7,364.6 185.0,366.2 C187.3,367.8 181.3,371.6 182.2,374.0 C183.2,376.5 187.8,379.5 190.6,381.0 C193.3,382.4 195.9,381.7 198.9,382.8 C201.9,383.8 206.8,384.8 208.6,387.1 C210.4,389.5 208.8,393.3 209.9,396.7 C211.1,400.0 214.4,404.2 215.5,407.1 C216.5,410.0 216.7,410.9 216.2,414.1 C215.7,417.2 214.7,423.1 212.7,426.3 C210.8,429.5 207.2,431.8 204.4,433.2 C201.6,434.7 199.1,433.7 196.1,434.9 C193.1,436.1 189.4,439.0 186.4,440.2 C183.4,441.3 179.7,439.5 178.0,441.9 C176.4,444.2 177.3,450.3 176.7,454.1 C176.1,457.8 176.0,462.0 174.6,464.5 C173.2,467.0 170.8,468.3 168.4,468.9 C166.0,469.4 162.8,469.3 160.0,468.0 C157.2,466.7 153.8,463.9 151.7,461.0 C149.6,458.1 148.8,453.6 147.6,450.6 C146.3,447.5 144.4,446.2 144.1,442.7 C143.8,439.3 145.4,433.9 145.5,429.7 C145.6,425.5 144.2,420.7 144.8,417.5 C145.4,414.3 149.6,412.0 148.9,410.6 C148.2,409.1 143.4,410.0 140.6,408.9 C137.8,407.7 133.6,405.2 132.3,403.6 C131.0,402.0 131.9,400.0 133.0,399.3 C134.2,398.5 137.1,399.1 139.3,399.3 C141.5,399.4 145.0,401.2 146.2,400.1 C147.3,399.1 145.2,394.7 146.2,393.2 C147.1,391.7 151.1,391.9 151.7,390.9 C152.3,390.0 150.9,388.8 149.7,387.4 C148.5,386.1 145.7,384.5 144.6,383.0 C143.4,381.5 143.1,380.1 143.0,378.5 C142.9,376.9 142.7,375.0 144.1,373.1Z" fill="#27b4a6" stroke="none" stroke-width="0.7" fill-opacity="0.88"/>
<path d="M132.5,401.7 C132.5,400.3 132.9,399.7 134.0,399.2 C135.1,398.7 137.0,398.6 139.0,398.8 C141.0,399.0 143.8,399.6 146.0,400.5 C148.2,401.4 150.8,402.4 152.0,404.0 C153.2,405.6 153.7,408.5 153.0,410.0 C152.3,411.5 150.2,412.8 148.0,413.0 C145.8,413.2 142.3,411.9 140.0,411.0 C137.7,410.1 135.2,409.2 134.0,407.6 C132.8,406.1 132.5,403.1 132.5,401.7Z" fill="#ea6bb5" stroke="none" stroke-width="0.7" fill-opacity="0.9"/>
<path d="M146.0,411.0 C147.2,408.0 149.7,405.3 152.0,404.0 C154.3,402.7 157.5,402.7 160.0,403.0 C162.5,403.3 165.2,404.0 167.0,406.0 C168.8,408.0 170.2,411.3 171.0,415.0 C171.8,418.7 172.3,424.3 172.0,428.0 C171.7,431.7 171.0,435.2 169.0,437.0 C167.0,438.8 163.2,439.0 160.0,439.0 C156.8,439.0 152.3,438.5 150.0,437.0 C147.7,435.5 146.9,432.5 146.0,430.0 C145.1,427.5 144.5,425.2 144.5,422.0 C144.5,418.8 144.8,414.0 146.0,411.0Z" fill="#e56ab4" stroke="none" stroke-width="0.7" fill-opacity="0.88"/>
<path d="M144.5,442.6 C144.8,440.2 147.4,440.4 150.0,440.0 C152.6,439.6 156.3,440.3 160.0,440.5 C163.7,440.7 169.3,440.2 172.0,441.0 C174.7,441.8 175.4,443.3 176.1,445.0 C176.8,446.7 176.3,448.4 176.1,451.4 C175.8,454.4 175.8,460.1 174.6,463.0 C173.4,465.9 171.2,467.7 168.8,468.6 C166.4,469.5 162.4,470.0 160.0,468.6 C157.6,467.2 156.1,462.5 154.2,460.1 C152.3,457.7 150.0,457.2 148.4,454.3 C146.8,451.4 144.2,445.0 144.5,442.6Z" fill="#e39030" stroke="none" stroke-width="0.7" fill-opacity="0.9"/>
<path d="M193.6,398.8 C194.8,396.9 197.7,397.1 200.0,396.5 C202.3,395.9 205.2,393.9 207.5,395.0 C209.8,396.1 212.2,400.4 213.5,403.2 C214.8,406.0 215.8,408.5 215.6,411.9 C215.4,415.3 213.3,420.5 212.3,423.6 C211.3,426.7 211.3,428.9 209.4,430.5 C207.5,432.1 203.2,433.0 201.0,433.2 C198.8,433.4 197.2,433.7 196.0,431.5 C194.8,429.3 194.6,423.9 194.0,420.0 C193.4,416.1 192.6,411.5 192.5,408.0 C192.4,404.5 192.3,400.7 193.6,398.8Z" fill="#dc983a" stroke="none" stroke-width="0.7" fill-opacity="0.92"/>
<path d="M147.5,383.5 C148.5,382.0 150.9,382.0 153.0,381.8 C155.1,381.6 158.2,381.8 160.0,382.5 C161.8,383.2 163.2,384.2 164.0,386.0 C164.8,387.8 165.2,390.8 165.0,393.0 C164.8,395.2 164.2,397.4 163.0,399.0 C161.8,400.6 159.8,401.9 158.0,402.5 C156.2,403.1 153.7,403.0 152.0,402.5 C150.3,402.0 148.6,401.4 147.8,399.5 C147.0,397.6 147.1,393.7 147.0,391.0 C146.9,388.3 146.5,385.0 147.5,383.5Z" fill="#fff" stroke="none" stroke-width="0.7" fill-opacity="0.75"/>
<ellipse cx="209.1" cy="414.2" rx="5.5" ry="6.0" fill="#fff" fill-opacity="0.3"/>
<ellipse cx="163.2" cy="450.0" rx="7.9" ry="5.0" fill="#fff" fill-opacity="0.25"/>
<ellipse cx="148.1" cy="423.2" rx="4.0" ry="12.0" fill="#fff" fill-opacity="0.2"/>
<ellipse cx="167.9" cy="373.5" rx="3.2" ry="5.0" fill="#fff" fill-opacity="0.2"/>
<ellipse cx="190.1" cy="421.2" rx="6.3" ry="6.0" fill="#fff" fill-opacity="0.12"/>
<circle cx="151.8" cy="397.0" r="3.3" fill="#27b4a6" fill-opacity="0.88"/>
<circle cx="160.5" cy="388.3" r="2.1" fill="#27b4a6" fill-opacity="0.88"/>
<path d="M231.2,389.0 C231.3,387.7 232.4,386.7 233.5,386.2 C234.6,385.7 236.2,385.7 237.5,385.9 C238.8,386.1 240.8,386.6 241.5,387.5 C242.2,388.4 242.3,390.4 241.7,391.5 C241.1,392.6 239.4,393.7 238.0,394.1 C236.6,394.5 234.1,394.7 233.0,393.8 C231.9,392.9 231.1,390.3 231.2,389.0Z" fill="#9a8ac0" stroke="none" stroke-width="0.7" fill-opacity="0.85"/>
<path d="M240.5,393.5 L243,397.4" fill="none" stroke="#9a8ac0" stroke-width="0.8" stroke-linecap="round" stroke-linejoin="round"/>
<path d="M226.6,418.1 C226.8,416.7 228.3,413.2 229.9,411.5 C231.5,409.8 234.4,408.5 236.4,407.6 C238.4,406.7 240.0,407.3 241.7,406.3 C243.3,405.3 245.1,402.5 246.3,401.7 C247.5,400.9 248.2,400.8 248.9,401.4 C249.6,402.0 249.1,404.5 250.2,405.6 C251.3,406.8 254.4,407.4 255.5,408.3 C256.6,409.2 256.6,409.0 256.8,410.9 C257.0,412.8 257.2,417.4 256.8,419.4 C256.4,421.4 256.2,421.6 254.2,422.7 C252.2,423.8 247.2,425.7 245.0,426.0 C242.8,426.3 242.8,425.2 241.0,424.7 C239.2,424.1 236.6,423.5 234.5,422.7 C232.4,421.9 229.8,420.9 228.5,420.1 C227.2,419.3 226.4,419.5 226.6,418.1Z" fill="#3a9fe0" stroke="none" stroke-width="0.7" fill-opacity="0.85"/>
<path d="M241.7,411 L248.3,401.7" fill="none" stroke="#c86ac8" stroke-width="2.4" stroke-linecap="round" stroke-linejoin="round"/>
<path d="M243.5,409.0 C244.5,406.7 247.0,406.1 249.0,406.0 C251.0,405.9 254.2,407.5 255.5,408.3 C256.8,409.1 256.6,409.1 256.8,411.0 C257.0,412.9 257.2,417.4 256.8,419.4 C256.4,421.3 256.0,421.7 254.2,422.7 C252.4,423.7 247.9,425.9 246.0,425.5 C244.1,425.1 243.4,422.8 243.0,420.0 C242.6,417.2 242.5,411.3 243.5,409.0Z" fill="#38b050" stroke="none" stroke-width="0.7" fill-opacity="0.9"/>
</g>
<rect x="130" y="362" width="130" height="110" fill="#fff" filter="url(#spC)" opacity="1"/>
<line x1="122.5" y1="470.9" x2="122.5" y2="449.8" stroke="#4b5a75" stroke-width="0.9"/>
<path d="M122.5,446.8 L124.4,449.5 L122.5,449.1 L120.6,449.5Z" fill="#4b5a75"/>
<line x1="122.5" y1="470.9" x2="144.4" y2="470.9" stroke="#4b5a75" stroke-width="0.9"/>
<path d="M147.4,470.9 L144.7,472.8 L145.1,470.9 L144.7,469.0Z" fill="#4b5a75"/>
<text x="121.6" y="479.9" font-size="7.8" textLength="26.3" lengthAdjust="spacingAndGlyphs" fill="#231f20">UMAP 1</text>
<text transform="translate(116.9,471.3) rotate(-90)" font-size="7.8" textLength="28" lengthAdjust="spacingAndGlyphs" fill="#231f20">UMAP 2</text>
<g transform="translate(292.00,362.90) scale(1.2634,1.0070) translate(-132.3,-364.5)">
<path d="M144.1,373.1 C145.4,371.2 149.0,368.5 151.1,367.1 C153.1,365.6 154.4,364.8 156.6,364.5 C158.8,364.2 162.2,365.4 164.2,365.4 C166.2,365.4 164.9,364.4 168.4,364.5 C171.9,364.6 182.7,364.6 185.0,366.2 C187.3,367.8 181.3,371.6 182.2,374.0 C183.2,376.5 187.8,379.5 190.6,381.0 C193.3,382.4 195.9,381.7 198.9,382.8 C201.9,383.8 206.8,384.8 208.6,387.1 C210.4,389.5 208.8,393.3 209.9,396.7 C211.1,400.0 214.4,404.2 215.5,407.1 C216.5,410.0 216.7,410.9 216.2,414.1 C215.7,417.2 214.7,423.1 212.7,426.3 C210.8,429.5 207.2,431.8 204.4,433.2 C201.6,434.7 199.1,433.7 196.1,434.9 C193.1,436.1 189.4,439.0 186.4,440.2 C183.4,441.3 179.7,439.5 178.0,441.9 C176.4,444.2 177.3,450.3 176.7,454.1 C176.1,457.8 176.0,462.0 174.6,464.5 C173.2,467.0 170.8,468.3 168.4,468.9 C166.0,469.4 162.8,469.3 160.0,468.0 C157.2,466.7 153.8,463.9 151.7,461.0 C149.6,458.1 148.8,453.6 147.6,450.6 C146.3,447.5 144.4,446.2 144.1,442.7 C143.8,439.3 145.4,433.9 145.5,429.7 C145.6,425.5 144.2,420.7 144.8,417.5 C145.4,414.3 149.6,412.0 148.9,410.6 C148.2,409.1 143.4,410.0 140.6,408.9 C137.8,407.7 133.6,405.2 132.3,403.6 C131.0,402.0 131.9,400.0 133.0,399.3 C134.2,398.5 137.1,399.1 139.3,399.3 C141.5,399.4 145.0,401.2 146.2,400.1 C147.3,399.1 145.2,394.7 146.2,393.2 C147.1,391.7 151.1,391.9 151.7,390.9 C152.3,390.0 150.9,388.8 149.7,387.4 C148.5,386.1 145.7,384.5 144.6,383.0 C143.4,381.5 143.1,380.1 143.0,378.5 C142.9,376.9 142.7,375.0 144.1,373.1Z" fill="#f0776e" stroke="none" stroke-width="0.7" fill-opacity="0.92"/>
<path d="M147.5,383.5 C148.5,382.0 150.9,382.0 153.0,381.8 C155.1,381.6 158.2,381.8 160.0,382.5 C161.8,383.2 163.2,384.2 164.0,386.0 C164.8,387.8 165.2,390.8 165.0,393.0 C164.8,395.2 164.2,397.4 163.0,399.0 C161.8,400.6 159.8,401.9 158.0,402.5 C156.2,403.1 153.7,403.0 152.0,402.5 C150.3,402.0 148.6,401.4 147.8,399.5 C147.0,397.6 147.1,393.7 147.0,391.0 C146.9,388.3 146.5,385.0 147.5,383.5Z" fill="#fff" stroke="none" stroke-width="0.7" fill-opacity="0.75"/>
<ellipse cx="209.1" cy="414.2" rx="5.5" ry="6.0" fill="#fff" fill-opacity="0.3"/>
<ellipse cx="163.2" cy="450.0" rx="7.9" ry="5.0" fill="#fff" fill-opacity="0.25"/>
<ellipse cx="148.1" cy="423.2" rx="4.0" ry="12.0" fill="#fff" fill-opacity="0.2"/>
<ellipse cx="167.9" cy="373.5" rx="3.2" ry="5.0" fill="#fff" fill-opacity="0.2"/>
<ellipse cx="190.1" cy="421.2" rx="6.3" ry="6.0" fill="#fff" fill-opacity="0.12"/>
<circle cx="151.8" cy="397.0" r="3.3" fill="#f0776e" fill-opacity="0.92"/>
<circle cx="160.5" cy="388.3" r="2.1" fill="#f0776e" fill-opacity="0.92"/>
<path d="M231.2,389.0 C231.3,387.7 232.4,386.7 233.5,386.2 C234.6,385.7 236.2,385.7 237.5,385.9 C238.8,386.1 240.8,386.6 241.5,387.5 C242.2,388.4 242.3,390.4 241.7,391.5 C241.1,392.6 239.4,393.7 238.0,394.1 C236.6,394.5 234.1,394.7 233.0,393.8 C231.9,392.9 231.1,390.3 231.2,389.0Z" fill="#f0776e" stroke="none" stroke-width="0.7" fill-opacity="0.9"/>
<path d="M240.5,393.5 L243,397.4" fill="none" stroke="#f0776e" stroke-width="0.8" stroke-linecap="round" stroke-linejoin="round"/>
<path d="M226.6,418.1 C226.8,416.7 228.3,413.2 229.9,411.5 C231.5,409.8 234.4,408.5 236.4,407.6 C238.4,406.7 240.0,407.3 241.7,406.3 C243.3,405.3 245.1,402.5 246.3,401.7 C247.5,400.9 248.2,400.8 248.9,401.4 C249.6,402.0 249.1,404.5 250.2,405.6 C251.3,406.8 254.4,407.4 255.5,408.3 C256.6,409.2 256.6,409.0 256.8,410.9 C257.0,412.8 257.2,417.4 256.8,419.4 C256.4,421.4 256.2,421.6 254.2,422.7 C252.2,423.8 247.2,425.7 245.0,426.0 C242.8,426.3 242.8,425.2 241.0,424.7 C239.2,424.1 236.6,423.5 234.5,422.7 C232.4,421.9 229.8,420.9 228.5,420.1 C227.2,419.3 226.4,419.5 226.6,418.1Z" fill="#1fbcc4" stroke="none" stroke-width="0.7" fill-opacity="0.9"/>
</g>
<rect x="289" y="360" width="163" height="110" fill="#fff" filter="url(#spCS)" opacity="1"/>
<line x1="291.7" y1="471.4" x2="291.7" y2="449.6" stroke="#4b5a75" stroke-width="0.9"/>
<path d="M291.7,446.6 L293.6,449.3 L291.7,448.9 L289.8,449.3Z" fill="#4b5a75"/>
<line x1="291.7" y1="471.4" x2="313.5" y2="471.4" stroke="#4b5a75" stroke-width="0.9"/>
<path d="M316.5,471.4 L313.8,473.3 L314.2,471.4 L313.8,469.5Z" fill="#4b5a75"/>
<text x="291.7" y="479.7" font-size="7.8" textLength="26.3" lengthAdjust="spacingAndGlyphs" fill="#231f20">UMAP 1</text>
<text transform="translate(286.0,471.8) rotate(-90)" font-size="7.8" textLength="28" lengthAdjust="spacingAndGlyphs" fill="#231f20">UMAP 2</text>
<circle cx="366.1" cy="477.2" r="1.4" fill="#f0776e"/>
<text x="372.8" y="480.1" font-size="8.0" textLength="21.1" lengthAdjust="spacingAndGlyphs" fill="#231f20">Blood</text>
<circle cx="412.8" cy="477.2" r="1.4" fill="#1fbcc4"/>
<text x="420.1" y="480.1" font-size="8.0" textLength="23.4" lengthAdjust="spacingAndGlyphs" fill="#231f20">Tumor</text>
<linearGradient id="g14" gradientUnits="userSpaceOnUse" x1="140" y1="0" x2="216" y2="0"><stop offset="0" stop-color="#bcb7d3"/><stop offset="0.6" stop-color="#bcb6d2"/><stop offset="0.85" stop-color="#cbb4be"/><stop offset="1" stop-color="#d6ab9e"/></linearGradient>
<linearGradient id="g15" gradientUnits="userSpaceOnUse" x1="227" y1="0" x2="257" y2="0"><stop offset="0" stop-color="#e8a090"/><stop offset="0.4" stop-color="#e86a50"/><stop offset="1" stop-color="#e8301c"/></linearGradient>
<g transform="translate(492.90,362.90) scale(1.3304,1.0070) translate(-132.3,-364.5)">
<path d="M144.1,373.1 C145.4,371.2 149.0,368.5 151.1,367.1 C153.1,365.6 154.4,364.8 156.6,364.5 C158.8,364.2 162.2,365.4 164.2,365.4 C166.2,365.4 164.9,364.4 168.4,364.5 C171.9,364.6 182.7,364.6 185.0,366.2 C187.3,367.8 181.3,371.6 182.2,374.0 C183.2,376.5 187.8,379.5 190.6,381.0 C193.3,382.4 195.9,381.7 198.9,382.8 C201.9,383.8 206.8,384.8 208.6,387.1 C210.4,389.5 208.8,393.3 209.9,396.7 C211.1,400.0 214.4,404.2 215.5,407.1 C216.5,410.0 216.7,410.9 216.2,414.1 C215.7,417.2 214.7,423.1 212.7,426.3 C210.8,429.5 207.2,431.8 204.4,433.2 C201.6,434.7 199.1,433.7 196.1,434.9 C193.1,436.1 189.4,439.0 186.4,440.2 C183.4,441.3 179.7,439.5 178.0,441.9 C176.4,444.2 177.3,450.3 176.7,454.1 C176.1,457.8 176.0,462.0 174.6,464.5 C173.2,467.0 170.8,468.3 168.4,468.9 C166.0,469.4 162.8,469.3 160.0,468.0 C157.2,466.7 153.8,463.9 151.7,461.0 C149.6,458.1 148.8,453.6 147.6,450.6 C146.3,447.5 144.4,446.2 144.1,442.7 C143.8,439.3 145.4,433.9 145.5,429.7 C145.6,425.5 144.2,420.7 144.8,417.5 C145.4,414.3 149.6,412.0 148.9,410.6 C148.2,409.1 143.4,410.0 140.6,408.9 C137.8,407.7 133.6,405.2 132.3,403.6 C131.0,402.0 131.9,400.0 133.0,399.3 C134.2,398.5 137.1,399.1 139.3,399.3 C141.5,399.4 145.0,401.2 146.2,400.1 C147.3,399.1 145.2,394.7 146.2,393.2 C147.1,391.7 151.1,391.9 151.7,390.9 C152.3,390.0 150.9,388.8 149.7,387.4 C148.5,386.1 145.7,384.5 144.6,383.0 C143.4,381.5 143.1,380.1 143.0,378.5 C142.9,376.9 142.7,375.0 144.1,373.1Z" fill="url(#g14)" stroke="none" stroke-width="0.7" fill-opacity="0.85"/>
<path d="M144.5,442.6 C144.8,440.2 147.4,440.4 150.0,440.0 C152.6,439.6 156.3,440.3 160.0,440.5 C163.7,440.7 169.3,440.2 172.0,441.0 C174.7,441.8 175.4,443.3 176.1,445.0 C176.8,446.7 176.3,448.4 176.1,451.4 C175.8,454.4 175.8,460.1 174.6,463.0 C173.4,465.9 171.2,467.7 168.8,468.6 C166.4,469.5 162.4,470.0 160.0,468.6 C157.6,467.2 156.1,462.5 154.2,460.1 C152.3,457.7 150.0,457.2 148.4,454.3 C146.8,451.4 144.2,445.0 144.5,442.6Z" fill="#cca8b0" stroke="none" stroke-width="0.7" fill-opacity="0.6"/>
<path d="M147.5,383.5 C148.5,382.0 150.9,382.0 153.0,381.8 C155.1,381.6 158.2,381.8 160.0,382.5 C161.8,383.2 163.2,384.2 164.0,386.0 C164.8,387.8 165.2,390.8 165.0,393.0 C164.8,395.2 164.2,397.4 163.0,399.0 C161.8,400.6 159.8,401.9 158.0,402.5 C156.2,403.1 153.7,403.0 152.0,402.5 C150.3,402.0 148.6,401.4 147.8,399.5 C147.0,397.6 147.1,393.7 147.0,391.0 C146.9,388.3 146.5,385.0 147.5,383.5Z" fill="#fff" stroke="none" stroke-width="0.7" fill-opacity="0.75"/>
<ellipse cx="209.1" cy="414.2" rx="5.5" ry="6.0" fill="#fff" fill-opacity="0.3"/>
<ellipse cx="163.2" cy="450.0" rx="7.9" ry="5.0" fill="#fff" fill-opacity="0.25"/>
<ellipse cx="148.1" cy="423.2" rx="4.0" ry="12.0" fill="#fff" fill-opacity="0.2"/>
<ellipse cx="167.9" cy="373.5" rx="3.2" ry="5.0" fill="#fff" fill-opacity="0.2"/>
<ellipse cx="190.1" cy="421.2" rx="6.3" ry="6.0" fill="#fff" fill-opacity="0.12"/>
<circle cx="151.8" cy="397.0" r="3.3" fill="#b4acd4" fill-opacity="0.85"/>
<circle cx="160.5" cy="388.3" r="2.1" fill="#b4acd4" fill-opacity="0.85"/>
<path d="M231.2,389.0 C231.3,387.7 232.4,386.7 233.5,386.2 C234.6,385.7 236.2,385.7 237.5,385.9 C238.8,386.1 240.8,386.6 241.5,387.5 C242.2,388.4 242.3,390.4 241.7,391.5 C241.1,392.6 239.4,393.7 238.0,394.1 C236.6,394.5 234.1,394.7 233.0,393.8 C231.9,392.9 231.1,390.3 231.2,389.0Z" fill="#b0a8d4" stroke="none" stroke-width="0.7" fill-opacity="0.9"/>
<path d="M240.5,393.5 L243,397.4" fill="none" stroke="#b0a8d4" stroke-width="0.8" stroke-linecap="round" stroke-linejoin="round"/>
<path d="M226.6,418.1 C226.8,416.7 228.3,413.2 229.9,411.5 C231.5,409.8 234.4,408.5 236.4,407.6 C238.4,406.7 240.0,407.3 241.7,406.3 C243.3,405.3 245.1,402.5 246.3,401.7 C247.5,400.9 248.2,400.8 248.9,401.4 C249.6,402.0 249.1,404.5 250.2,405.6 C251.3,406.8 254.4,407.4 255.5,408.3 C256.6,409.2 256.6,409.0 256.8,410.9 C257.0,412.8 257.2,417.4 256.8,419.4 C256.4,421.4 256.2,421.6 254.2,422.7 C252.2,423.8 247.2,425.7 245.0,426.0 C242.8,426.3 242.8,425.2 241.0,424.7 C239.2,424.1 236.6,423.5 234.5,422.7 C232.4,421.9 229.8,420.9 228.5,420.1 C227.2,419.3 226.4,419.5 226.6,418.1Z" fill="url(#g15)" stroke="none" stroke-width="0.7" fill-opacity="0.9"/>
</g>
<rect x="490" y="360" width="170" height="110" fill="#fff" filter="url(#spC)" opacity="1"/>
<line x1="483.7" y1="471.3" x2="483.7" y2="448.0" stroke="#4b5a75" stroke-width="0.9"/>
<path d="M483.7,445.0 L485.6,447.7 L483.7,447.3 L481.8,447.7Z" fill="#4b5a75"/>
<line x1="483.7" y1="471.3" x2="506.3" y2="471.3" stroke="#4b5a75" stroke-width="0.9"/>
<path d="M509.3,471.3 L506.6,473.2 L507.0,471.3 L506.6,469.4Z" fill="#4b5a75"/>
<text x="483.7" y="480.1" font-size="7.8" textLength="26.3" lengthAdjust="spacingAndGlyphs" fill="#231f20">UMAP 1</text>
<text transform="translate(478.0,471.7) rotate(-90)" font-size="7.8" textLength="28" lengthAdjust="spacingAndGlyphs" fill="#231f20">UMAP 2</text>
<text x="607.9" y="462.5" font-size="8.2" textLength="30.6" lengthAdjust="spacingAndGlyphs" fill="#231f20">Overall</text>
<text x="600.2" y="472.7" font-size="8.2" textLength="46.0" lengthAdjust="spacingAndGlyphs" fill="#231f20">expression</text>
<linearGradient id="g16" gradientUnits="userSpaceOnUse" x1="599.2" y1="0" x2="643.1" y2="0"><stop offset="0" stop-color="#c4a6ea"/><stop offset="0.3" stop-color="#d0c2c6"/><stop offset="0.65" stop-color="#e8806a"/><stop offset="1" stop-color="#e0280e"/></linearGradient>
<rect x="599.2" y="479.9" width="43.9" height="4.6" fill="url(#g16)"/>
<text transform="translate(612.0,491.3) rotate(-45)" font-size="8" text-anchor="end" fill="#231f20">0</text>
<text transform="translate(623.5,491.3) rotate(-45)" font-size="8" text-anchor="end" fill="#231f20">0.4</text>
<text transform="translate(634.5,491.3) rotate(-45)" font-size="8" text-anchor="end" fill="#231f20">0.8</text>
<text transform="translate(645.5,491.3) rotate(-45)" font-size="8" text-anchor="end" fill="#231f20">1.2</text>
<text x="0.0" y="507.5" font-size="14.2" font-weight="bold" textLength="7.4" lengthAdjust="spacingAndGlyphs" fill="#000">d</text>
<text x="18.8" y="507.6" font-size="10.2" textLength="179.3" lengthAdjust="spacingAndGlyphs" fill="#231f20">In vivo tumor infiltration, breast cancer</text>
<text x="18.8" y="518.8" font-size="10.2" textLength="103.3" lengthAdjust="spacingAndGlyphs" fill="#231f20">NK-92 CRISPRa screen</text>
<line x1="49.9" y1="526.5" x2="49.9" y2="660.4" stroke="#f3f3f3" stroke-width="0.6"/>
<line x1="100.5" y1="526.5" x2="100.5" y2="660.4" stroke="#f3f3f3" stroke-width="0.6"/>
<line x1="151.1" y1="526.5" x2="151.1" y2="660.4" stroke="#f3f3f3" stroke-width="0.6"/>
<line x1="201.7" y1="526.5" x2="201.7" y2="660.4" stroke="#f3f3f3" stroke-width="0.6"/>
<line x1="42.3" y1="642.0" x2="232.0" y2="642.0" stroke="#f3f3f3" stroke-width="0.6"/>
<line x1="42.3" y1="616.7" x2="232.0" y2="616.7" stroke="#f3f3f3" stroke-width="0.6"/>
<line x1="42.3" y1="591.5" x2="232.0" y2="591.5" stroke="#f3f3f3" stroke-width="0.6"/>
<line x1="42.3" y1="566.2" x2="232.0" y2="566.2" stroke="#f3f3f3" stroke-width="0.6"/>
<line x1="42.3" y1="541.0" x2="232.0" y2="541.0" stroke="#f3f3f3" stroke-width="0.6"/>
<line x1="75.2" y1="526.5" x2="75.2" y2="660.4" stroke="#ebebeb" stroke-width="0.7"/>
<line x1="125.8" y1="526.5" x2="125.8" y2="660.4" stroke="#ebebeb" stroke-width="0.7"/>
<line x1="176.4" y1="526.5" x2="176.4" y2="660.4" stroke="#ebebeb" stroke-width="0.7"/>
<line x1="227.1" y1="526.5" x2="227.1" y2="660.4" stroke="#ebebeb" stroke-width="0.7"/>
<line x1="42.3" y1="654.6" x2="232.0" y2="654.6" stroke="#ebebeb" stroke-width="0.7"/>
<line x1="42.3" y1="629.4" x2="232.0" y2="629.4" stroke="#ebebeb" stroke-width="0.7"/>
<line x1="42.3" y1="604.1" x2="232.0" y2="604.1" stroke="#ebebeb" stroke-width="0.7"/>
<line x1="42.3" y1="578.9" x2="232.0" y2="578.9" stroke="#ebebeb" stroke-width="0.7"/>
<line x1="42.3" y1="553.6" x2="232.0" y2="553.6" stroke="#ebebeb" stroke-width="0.7"/>
<line x1="42.3" y1="528.4" x2="232.0" y2="528.4" stroke="#ebebeb" stroke-width="0.7"/>
<line x1="105.5" y1="526.5" x2="105.5" y2="660.4" stroke="#666" stroke-width="0.8" stroke-dasharray="2.6,1.8"/>
<line x1="146.1" y1="526.5" x2="146.1" y2="660.4" stroke="#aaaaaa" stroke-width="1.0" stroke-dasharray="3.2,2"/>
<line x1="42.3" y1="634.7" x2="232.0" y2="634.7" stroke="#aaaaaa" stroke-width="1.0" stroke-dasharray="3.2,2"/>
<circle cx="50.5" cy="645.9" r="0.9" fill="#bdbdbd"/>
<circle cx="51.7" cy="650.6" r="0.9" fill="#bdbdbd"/>
<circle cx="105.5" cy="654.2" r="0.9" fill="#bdbdbd"/>
<circle cx="114.0" cy="654.4" r="0.9" fill="#bdbdbd"/>
<circle cx="130.7" cy="653.0" r="0.9" fill="#bdbdbd"/>
<circle cx="90.9" cy="655.0" r="0.9" fill="#bdbdbd"/>
<circle cx="106.9" cy="653.4" r="0.9" fill="#bdbdbd"/>
<circle cx="154.7" cy="654.0" r="0.9" fill="#bdbdbd"/>
<circle cx="144.4" cy="654.0" r="0.9" fill="#bdbdbd"/>
<circle cx="131.5" cy="653.2" r="0.9" fill="#bdbdbd"/>
<circle cx="131.3" cy="655.1" r="0.9" fill="#bdbdbd"/>
<circle cx="124.0" cy="654.7" r="0.9" fill="#bdbdbd"/>
<circle cx="133.6" cy="653.0" r="0.9" fill="#bdbdbd"/>
<circle cx="139.3" cy="654.3" r="0.9" fill="#bdbdbd"/>
<circle cx="109.6" cy="652.9" r="0.9" fill="#bdbdbd"/>
<circle cx="146.3" cy="654.0" r="0.9" fill="#bdbdbd"/>
<circle cx="136.7" cy="655.1" r="0.9" fill="#bdbdbd"/>
<circle cx="136.4" cy="655.2" r="0.9" fill="#bdbdbd"/>
<circle cx="115.7" cy="654.9" r="0.9" fill="#bdbdbd"/>
<circle cx="118.9" cy="655.2" r="0.9" fill="#bdbdbd"/>
<circle cx="147.1" cy="653.1" r="0.9" fill="#bdbdbd"/>
<circle cx="98.8" cy="653.4" r="0.9" fill="#bdbdbd"/>
<circle cx="152.8" cy="653.9" r="0.9" fill="#bdbdbd"/>
<circle cx="130.7" cy="653.6" r="0.9" fill="#bdbdbd"/>
<circle cx="123.0" cy="653.8" r="0.9" fill="#bdbdbd"/>
<circle cx="112.8" cy="654.3" r="0.9" fill="#bdbdbd"/>
<circle cx="128.0" cy="655.2" r="0.9" fill="#bdbdbd"/>
<circle cx="134.3" cy="655.2" r="0.9" fill="#bdbdbd"/>
<circle cx="145.7" cy="655.4" r="0.9" fill="#bdbdbd"/>
<circle cx="133.6" cy="653.2" r="0.9" fill="#bdbdbd"/>
<circle cx="145.9" cy="655.3" r="0.9" fill="#bdbdbd"/>
<circle cx="148.8" cy="654.3" r="0.9" fill="#bdbdbd"/>
<circle cx="136.4" cy="653.3" r="0.9" fill="#bdbdbd"/>
<circle cx="144.1" cy="654.3" r="0.9" fill="#bdbdbd"/>
<circle cx="108.5" cy="653.0" r="0.9" fill="#bdbdbd"/>
<circle cx="145.5" cy="655.4" r="0.9" fill="#bdbdbd"/>
<circle cx="95.8" cy="654.9" r="0.9" fill="#bdbdbd"/>
<circle cx="116.7" cy="653.2" r="0.9" fill="#bdbdbd"/>
<circle cx="109.1" cy="654.8" r="0.9" fill="#bdbdbd"/>
<circle cx="146.7" cy="652.9" r="0.9" fill="#bdbdbd"/>
<circle cx="129.9" cy="652.9" r="0.9" fill="#bdbdbd"/>
<circle cx="136.7" cy="653.7" r="0.9" fill="#bdbdbd"/>
<circle cx="147.3" cy="655.3" r="0.9" fill="#bdbdbd"/>
<circle cx="122.9" cy="655.4" r="0.9" fill="#bdbdbd"/>
<circle cx="110.1" cy="653.0" r="0.9" fill="#bdbdbd"/>
<circle cx="129.0" cy="652.9" r="0.9" fill="#bdbdbd"/>
<circle cx="102.8" cy="653.9" r="0.9" fill="#bdbdbd"/>
<circle cx="129.7" cy="653.2" r="0.9" fill="#bdbdbd"/>
<circle cx="92.8" cy="655.1" r="0.9" fill="#bdbdbd"/>
<circle cx="110.4" cy="655.3" r="0.9" fill="#bdbdbd"/>
<circle cx="148.3" cy="653.8" r="0.9" fill="#bdbdbd"/>
<circle cx="119.9" cy="654.2" r="0.9" fill="#bdbdbd"/>
<circle cx="131.9" cy="654.3" r="0.9" fill="#bdbdbd"/>
<circle cx="126.4" cy="654.4" r="0.9" fill="#bdbdbd"/>
<circle cx="151.1" cy="654.1" r="0.9" fill="#bdbdbd"/>
<circle cx="118.0" cy="654.7" r="0.9" fill="#bdbdbd"/>
<circle cx="105.4" cy="653.6" r="0.9" fill="#bdbdbd"/>
<circle cx="153.6" cy="654.2" r="0.9" fill="#bdbdbd"/>
<circle cx="125.6" cy="652.8" r="0.9" fill="#bdbdbd"/>
<circle cx="117.0" cy="654.3" r="0.9" fill="#bdbdbd"/>
<circle cx="91.3" cy="654.4" r="0.9" fill="#bdbdbd"/>
<circle cx="131.1" cy="653.0" r="0.9" fill="#bdbdbd"/>
<circle cx="130.8" cy="654.0" r="0.9" fill="#bdbdbd"/>
<circle cx="134.2" cy="653.7" r="0.9" fill="#bdbdbd"/>
<circle cx="136.0" cy="654.7" r="0.9" fill="#bdbdbd"/>
<circle cx="91.4" cy="653.0" r="0.9" fill="#bdbdbd"/>
<circle cx="133.9" cy="655.3" r="0.9" fill="#bdbdbd"/>
<circle cx="106.3" cy="654.0" r="0.9" fill="#bdbdbd"/>
<circle cx="128.5" cy="653.6" r="0.9" fill="#bdbdbd"/>
<circle cx="113.7" cy="653.6" r="0.9" fill="#bdbdbd"/>
<circle cx="114.0" cy="654.3" r="0.9" fill="#bdbdbd"/>
<circle cx="109.5" cy="653.8" r="0.9" fill="#bdbdbd"/>
<circle cx="140.2" cy="652.9" r="0.9" fill="#bdbdbd"/>
<circle cx="127.0" cy="654.7" r="0.9" fill="#bdbdbd"/>
<circle cx="110.2" cy="653.4" r="0.9" fill="#bdbdbd"/>
<circle cx="142.2" cy="653.4" r="0.9" fill="#bdbdbd"/>
<circle cx="102.2" cy="653.9" r="0.9" fill="#bdbdbd"/>
<circle cx="135.4" cy="653.1" r="0.9" fill="#bdbdbd"/>
<circle cx="110.9" cy="653.7" r="0.9" fill="#bdbdbd"/>
<circle cx="144.2" cy="653.9" r="0.9" fill="#bdbdbd"/>
<circle cx="145.6" cy="653.2" r="0.9" fill="#bdbdbd"/>
<circle cx="111.9" cy="654.5" r="0.9" fill="#bdbdbd"/>
<circle cx="147.5" cy="654.0" r="0.9" fill="#bdbdbd"/>
<circle cx="104.6" cy="653.1" r="0.9" fill="#bdbdbd"/>
<circle cx="124.4" cy="653.3" r="0.9" fill="#bdbdbd"/>
<circle cx="142.4" cy="655.0" r="0.9" fill="#bdbdbd"/>
<circle cx="101.9" cy="653.5" r="0.9" fill="#bdbdbd"/>
<circle cx="142.5" cy="654.5" r="0.9" fill="#bdbdbd"/>
<circle cx="142.4" cy="653.7" r="0.9" fill="#bdbdbd"/>
<circle cx="98.4" cy="653.6" r="0.9" fill="#bdbdbd"/>
<circle cx="141.6" cy="653.5" r="0.9" fill="#bdbdbd"/>
<circle cx="112.5" cy="653.9" r="0.9" fill="#bdbdbd"/>
<circle cx="117.3" cy="653.9" r="0.9" fill="#bdbdbd"/>
<circle cx="149.8" cy="653.2" r="0.9" fill="#bdbdbd"/>
<circle cx="90.3" cy="655.3" r="0.9" fill="#bdbdbd"/>
<circle cx="147.2" cy="655.4" r="0.9" fill="#bdbdbd"/>
<circle cx="118.2" cy="655.3" r="0.9" fill="#bdbdbd"/>
<circle cx="150.3" cy="653.4" r="0.9" fill="#bdbdbd"/>
<circle cx="138.5" cy="655.0" r="0.9" fill="#bdbdbd"/>
<circle cx="133.1" cy="654.1" r="0.9" fill="#bdbdbd"/>
<circle cx="108.8" cy="653.7" r="0.9" fill="#bdbdbd"/>
<circle cx="104.8" cy="653.0" r="0.9" fill="#bdbdbd"/>
<circle cx="128.3" cy="653.5" r="0.9" fill="#bdbdbd"/>
<circle cx="142.7" cy="652.9" r="0.9" fill="#bdbdbd"/>
<circle cx="148.7" cy="654.6" r="0.9" fill="#bdbdbd"/>
<circle cx="150.1" cy="655.1" r="0.9" fill="#bdbdbd"/>
<circle cx="148.5" cy="654.3" r="0.9" fill="#bdbdbd"/>
<circle cx="90.9" cy="654.7" r="0.9" fill="#bdbdbd"/>
<circle cx="101.2" cy="653.6" r="0.9" fill="#bdbdbd"/>
<circle cx="133.1" cy="654.2" r="0.9" fill="#bdbdbd"/>
<circle cx="116.9" cy="655.2" r="0.9" fill="#bdbdbd"/>
<circle cx="129.8" cy="653.7" r="0.9" fill="#bdbdbd"/>
<circle cx="106.4" cy="655.0" r="0.9" fill="#bdbdbd"/>
<circle cx="121.0" cy="654.8" r="0.9" fill="#bdbdbd"/>
<circle cx="112.9" cy="653.3" r="0.9" fill="#bdbdbd"/>
<circle cx="124.8" cy="654.9" r="0.9" fill="#bdbdbd"/>
<circle cx="101.1" cy="654.9" r="0.9" fill="#bdbdbd"/>
<circle cx="149.9" cy="654.9" r="0.9" fill="#bdbdbd"/>
<circle cx="143.5" cy="652.8" r="0.9" fill="#bdbdbd"/>
<circle cx="130.9" cy="655.0" r="0.9" fill="#bdbdbd"/>
<circle cx="93.2" cy="653.5" r="0.9" fill="#bdbdbd"/>
<circle cx="107.5" cy="654.2" r="0.9" fill="#bdbdbd"/>
<circle cx="117.5" cy="654.0" r="0.9" fill="#bdbdbd"/>
<circle cx="140.5" cy="652.8" r="0.9" fill="#bdbdbd"/>
<circle cx="93.6" cy="653.1" r="0.9" fill="#bdbdbd"/>
<circle cx="98.1" cy="653.0" r="0.9" fill="#bdbdbd"/>
<circle cx="153.4" cy="655.0" r="0.9" fill="#bdbdbd"/>
<circle cx="95.6" cy="654.1" r="0.9" fill="#bdbdbd"/>
<circle cx="110.5" cy="653.6" r="0.9" fill="#bdbdbd"/>
<circle cx="112.8" cy="654.5" r="0.9" fill="#bdbdbd"/>
<circle cx="128.1" cy="653.7" r="0.9" fill="#bdbdbd"/>
<circle cx="102.4" cy="653.7" r="0.9" fill="#bdbdbd"/>
<circle cx="98.0" cy="654.2" r="0.9" fill="#bdbdbd"/>
<circle cx="136.5" cy="653.8" r="0.9" fill="#bdbdbd"/>
<circle cx="95.2" cy="653.3" r="0.9" fill="#bdbdbd"/>
<circle cx="114.3" cy="654.4" r="0.9" fill="#bdbdbd"/>
<circle cx="140.9" cy="653.8" r="0.9" fill="#bdbdbd"/>
<circle cx="142.1" cy="654.4" r="0.9" fill="#bdbdbd"/>
<circle cx="118.1" cy="653.8" r="0.9" fill="#bdbdbd"/>
<circle cx="122.2" cy="654.6" r="0.9" fill="#bdbdbd"/>
<circle cx="117.3" cy="654.6" r="0.9" fill="#bdbdbd"/>
<circle cx="120.0" cy="653.4" r="0.9" fill="#bdbdbd"/>
<circle cx="124.8" cy="654.6" r="0.9" fill="#bdbdbd"/>
<circle cx="94.7" cy="653.9" r="0.9" fill="#bdbdbd"/>
<circle cx="117.7" cy="655.1" r="0.9" fill="#bdbdbd"/>
<circle cx="150.9" cy="653.8" r="0.9" fill="#bdbdbd"/>
<circle cx="148.4" cy="654.9" r="0.9" fill="#bdbdbd"/>
<circle cx="107.0" cy="654.0" r="0.9" fill="#bdbdbd"/>
<circle cx="98.0" cy="654.9" r="0.9" fill="#bdbdbd"/>
<circle cx="133.0" cy="655.1" r="0.9" fill="#bdbdbd"/>
<circle cx="141.5" cy="654.5" r="0.9" fill="#bdbdbd"/>
<circle cx="137.7" cy="654.3" r="0.9" fill="#bdbdbd"/>
<circle cx="96.7" cy="654.3" r="0.9" fill="#bdbdbd"/>
<circle cx="90.3" cy="653.2" r="0.9" fill="#bdbdbd"/>
<circle cx="140.3" cy="652.9" r="0.9" fill="#bdbdbd"/>
<circle cx="96.0" cy="653.1" r="0.9" fill="#bdbdbd"/>
<circle cx="147.2" cy="653.3" r="0.9" fill="#bdbdbd"/>
<circle cx="91.5" cy="655.0" r="0.9" fill="#bdbdbd"/>
<circle cx="97.9" cy="655.0" r="0.9" fill="#bdbdbd"/>
<circle cx="133.8" cy="655.0" r="0.9" fill="#bdbdbd"/>
<circle cx="151.9" cy="654.3" r="0.9" fill="#bdbdbd"/>
<circle cx="141.9" cy="652.9" r="0.9" fill="#bdbdbd"/>
<circle cx="139.9" cy="654.1" r="0.9" fill="#bdbdbd"/>
<circle cx="136.5" cy="653.1" r="0.9" fill="#bdbdbd"/>
<circle cx="138.7" cy="655.2" r="0.9" fill="#bdbdbd"/>
<circle cx="94.0" cy="653.6" r="0.9" fill="#bdbdbd"/>
<circle cx="126.7" cy="655.0" r="0.9" fill="#bdbdbd"/>
<circle cx="105.7" cy="653.3" r="0.9" fill="#bdbdbd"/>
<circle cx="106.2" cy="654.4" r="0.9" fill="#bdbdbd"/>
<circle cx="139.0" cy="653.8" r="0.9" fill="#bdbdbd"/>
<circle cx="113.9" cy="653.8" r="0.9" fill="#bdbdbd"/>
<circle cx="112.8" cy="653.9" r="0.9" fill="#bdbdbd"/>
<circle cx="73.7" cy="650.3" r="0.9" fill="#bdbdbd"/>
<circle cx="123.5" cy="649.6" r="0.9" fill="#bdbdbd"/>
<circle cx="110.9" cy="647.7" r="0.9" fill="#bdbdbd"/>
<circle cx="107.7" cy="652.2" r="0.9" fill="#bdbdbd"/>
<circle cx="106.7" cy="650.4" r="0.9" fill="#bdbdbd"/>
<circle cx="96.1" cy="651.3" r="0.9" fill="#bdbdbd"/>
<circle cx="119.3" cy="647.6" r="0.9" fill="#bdbdbd"/>
<circle cx="74.4" cy="652.1" r="0.9" fill="#bdbdbd"/>
<circle cx="120.3" cy="650.4" r="0.9" fill="#bdbdbd"/>
<circle cx="93.8" cy="651.9" r="0.9" fill="#bdbdbd"/>
<circle cx="79.4" cy="648.5" r="0.9" fill="#bdbdbd"/>
<circle cx="80.2" cy="650.9" r="0.9" fill="#bdbdbd"/>
<circle cx="86.6" cy="648.2" r="0.9" fill="#bdbdbd"/>
<circle cx="107.7" cy="653.7" r="0.9" fill="#bdbdbd"/>
<circle cx="85.6" cy="651.8" r="0.9" fill="#bdbdbd"/>
<circle cx="92.1" cy="652.9" r="0.9" fill="#bdbdbd"/>
<circle cx="101.7" cy="648.5" r="0.9" fill="#bdbdbd"/>
<circle cx="81.2" cy="646.7" r="0.9" fill="#bdbdbd"/>
<circle cx="95.9" cy="649.4" r="0.9" fill="#bdbdbd"/>
<circle cx="78.6" cy="649.2" r="0.9" fill="#bdbdbd"/>
<circle cx="87.0" cy="652.3" r="0.9" fill="#bdbdbd"/>
<circle cx="77.0" cy="653.9" r="0.9" fill="#bdbdbd"/>
<circle cx="95.9" cy="651.0" r="0.9" fill="#bdbdbd"/>
<circle cx="95.2" cy="652.8" r="0.9" fill="#bdbdbd"/>
<circle cx="115.0" cy="650.7" r="0.9" fill="#bdbdbd"/>
<circle cx="96.0" cy="651.9" r="0.9" fill="#bdbdbd"/>
<circle cx="117.0" cy="649.5" r="0.9" fill="#bdbdbd"/>
<circle cx="110.1" cy="653.7" r="0.9" fill="#bdbdbd"/>
<circle cx="95.2" cy="648.2" r="0.9" fill="#bdbdbd"/>
<circle cx="82.1" cy="651.9" r="0.9" fill="#bdbdbd"/>
<circle cx="106.8" cy="653.7" r="0.9" fill="#bdbdbd"/>
<circle cx="116.8" cy="648.3" r="0.9" fill="#bdbdbd"/>
<circle cx="79.6" cy="648.4" r="0.9" fill="#bdbdbd"/>
<circle cx="79.5" cy="651.8" r="0.9" fill="#bdbdbd"/>
<circle cx="117.1" cy="653.2" r="0.9" fill="#bdbdbd"/>
<circle cx="83.3" cy="653.0" r="0.9" fill="#bdbdbd"/>
<circle cx="86.6" cy="649.7" r="0.9" fill="#bdbdbd"/>
<circle cx="109.8" cy="647.1" r="0.9" fill="#bdbdbd"/>
<circle cx="74.2" cy="652.8" r="0.9" fill="#bdbdbd"/>
<circle cx="85.3" cy="649.2" r="0.9" fill="#bdbdbd"/>
<circle cx="153.4" cy="653.1" r="0.9" fill="#bdbdbd"/>
<circle cx="125.3" cy="651.0" r="0.9" fill="#bdbdbd"/>
<circle cx="146.4" cy="651.9" r="0.9" fill="#bdbdbd"/>
<circle cx="135.3" cy="652.5" r="0.9" fill="#bdbdbd"/>
<circle cx="171.8" cy="651.3" r="0.9" fill="#bdbdbd"/>
<circle cx="151.7" cy="649.7" r="0.9" fill="#bdbdbd"/>
<circle cx="138.5" cy="653.0" r="0.9" fill="#bdbdbd"/>
<circle cx="130.5" cy="654.3" r="0.9" fill="#bdbdbd"/>
<circle cx="169.5" cy="649.6" r="0.9" fill="#bdbdbd"/>
<circle cx="171.1" cy="651.2" r="0.9" fill="#bdbdbd"/>
<circle cx="162.8" cy="653.5" r="0.9" fill="#bdbdbd"/>
<circle cx="139.5" cy="653.1" r="0.9" fill="#bdbdbd"/>
<circle cx="157.0" cy="653.8" r="0.9" fill="#bdbdbd"/>
<circle cx="138.0" cy="653.5" r="0.9" fill="#bdbdbd"/>
<circle cx="172.1" cy="653.0" r="0.9" fill="#bdbdbd"/>
<circle cx="151.3" cy="649.7" r="0.9" fill="#bdbdbd"/>
<circle cx="149.2" cy="651.1" r="0.9" fill="#bdbdbd"/>
<circle cx="160.2" cy="653.1" r="0.9" fill="#bdbdbd"/>
<circle cx="152.8" cy="650.1" r="0.9" fill="#bdbdbd"/>
<circle cx="156.6" cy="652.8" r="0.9" fill="#bdbdbd"/>
<circle cx="133.8" cy="654.3" r="0.9" fill="#bdbdbd"/>
<circle cx="157.1" cy="649.7" r="0.9" fill="#bdbdbd"/>
<circle cx="170.7" cy="649.8" r="0.9" fill="#bdbdbd"/>
<circle cx="141.2" cy="653.3" r="0.9" fill="#bdbdbd"/>
<circle cx="154.3" cy="652.3" r="0.9" fill="#bdbdbd"/>
<line x1="42.3" y1="526.5" x2="42.3" y2="660.4" stroke="#333" stroke-width="0.8"/>
<line x1="42.3" y1="660.4" x2="232.0" y2="660.4" stroke="#333" stroke-width="0.8"/>
<line x1="38.8" y1="654.6" x2="42.3" y2="654.6" stroke="#333" stroke-width="0.7"/>
<text x="34.3" y="657.4" font-size="7.9" text-anchor="end" textLength="4.2" lengthAdjust="spacingAndGlyphs" fill="#231f20">0</text>
<line x1="38.8" y1="629.4" x2="42.3" y2="629.4" stroke="#333" stroke-width="0.7"/>
<text x="34.3" y="632.1" font-size="7.9" text-anchor="end" textLength="10.4" lengthAdjust="spacingAndGlyphs" fill="#231f20">2.5</text>
<line x1="38.8" y1="604.1" x2="42.3" y2="604.1" stroke="#333" stroke-width="0.7"/>
<text x="34.3" y="606.9" font-size="7.9" text-anchor="end" textLength="10.4" lengthAdjust="spacingAndGlyphs" fill="#231f20">5.0</text>
<line x1="38.8" y1="578.9" x2="42.3" y2="578.9" stroke="#333" stroke-width="0.7"/>
<text x="34.3" y="581.6" font-size="7.9" text-anchor="end" textLength="10.4" lengthAdjust="spacingAndGlyphs" fill="#231f20">7.5</text>
<line x1="38.8" y1="553.6" x2="42.3" y2="553.6" stroke="#333" stroke-width="0.7"/>
<text x="34.3" y="556.4" font-size="7.9" text-anchor="end" textLength="14.6" lengthAdjust="spacingAndGlyphs" fill="#231f20">10.0</text>
<line x1="38.8" y1="528.4" x2="42.3" y2="528.4" stroke="#333" stroke-width="0.7"/>
<text x="34.3" y="531.1" font-size="7.9" text-anchor="end" textLength="14.6" lengthAdjust="spacingAndGlyphs" fill="#231f20">12.5</text>
<line x1="75.2" y1="660.4" x2="75.2" y2="663.4" stroke="#333" stroke-width="0.7"/>
<text x="75.2" y="675.5" font-size="8.2" text-anchor="middle" textLength="15.2" lengthAdjust="spacingAndGlyphs" fill="#231f20">–2.5</text>
<line x1="125.8" y1="660.4" x2="125.8" y2="663.4" stroke="#333" stroke-width="0.7"/>
<text x="125.8" y="675.5" font-size="8.2" text-anchor="middle" textLength="4.3" lengthAdjust="spacingAndGlyphs" fill="#231f20">0</text>
<line x1="176.4" y1="660.4" x2="176.4" y2="663.4" stroke="#333" stroke-width="0.7"/>
<text x="176.4" y="675.5" font-size="8.2" text-anchor="middle" textLength="10.8" lengthAdjust="spacingAndGlyphs" fill="#231f20">2.5</text>
<line x1="227.1" y1="660.4" x2="227.1" y2="663.4" stroke="#333" stroke-width="0.7"/>
<text x="227.1" y="675.5" font-size="8.2" text-anchor="middle" textLength="10.8" lengthAdjust="spacingAndGlyphs" fill="#231f20">5.0</text>
<text x="136.8" y="689.4" font-size="9.6" text-anchor="middle" fill="#231f20">log<tspan font-size="6.5" dy="2.4">2</tspan><tspan dy="-2.4">FC</tspan></text>
<text transform="translate(7.6,594.2) rotate(-90)" font-size="9.0" text-anchor="middle" fill="#231f20">–log<tspan font-size="6.1" dy="2.4">10</tspan><tspan dy="-2.4" font-style="italic">P</tspan></text>
<circle cx="214.1" cy="542.5" r="1.1" fill="#e0202a"/>
<circle cx="220.8" cy="542.5" r="1.1" fill="#e0202a"/>
<circle cx="222.0" cy="543.1" r="1.1" fill="#e0202a"/>
<circle cx="223.1" cy="554.4" r="1.1" fill="#e0202a"/>
<circle cx="211.8" cy="563.3" r="1.1" fill="#e0202a"/>
<circle cx="216.1" cy="570.5" r="1.1" fill="#e0202a"/>
<circle cx="204.8" cy="572.9" r="1.1" fill="#e0202a"/>
<circle cx="201.3" cy="574.3" r="1.1" fill="#e0202a"/>
<text x="212.6" y="539.2" font-size="8.0" font-style="italic" textLength="27.5" lengthAdjust="spacingAndGlyphs" fill="#231f20">GPR183</text>
<text x="224.0" y="547.2" font-size="8.0" font-style="italic" textLength="21.9" lengthAdjust="spacingAndGlyphs" fill="#231f20">GPR18</text>
<text x="191.0" y="550.1" font-size="8.0" font-style="italic" textLength="22.4" lengthAdjust="spacingAndGlyphs" fill="#231f20">LPAR2</text>
<text x="225.8" y="555.6" font-size="8.0" font-style="italic" textLength="22.2" lengthAdjust="spacingAndGlyphs" fill="#231f20">C5AR1</text>
<text x="192.8" y="560.0" font-size="8.0" font-style="italic" textLength="24.5" lengthAdjust="spacingAndGlyphs" fill="#231f20">CXCR2</text>
<text x="193.1" y="570.0" font-size="8.0" font-style="italic" textLength="17.8" lengthAdjust="spacingAndGlyphs" fill="#231f20">FPR3</text>
<text x="219.6" y="570.0" font-size="8.0" font-style="italic" textLength="24.6" lengthAdjust="spacingAndGlyphs" fill="#231f20">GPR34</text>
<text x="181.1" y="582.8" font-size="8.0" font-style="italic" textLength="24.5" lengthAdjust="spacingAndGlyphs" fill="#231f20">GPR84</text>
<text x="0.0" y="698.2" font-size="8.8" textLength="87.6" lengthAdjust="spacingAndGlyphs" fill="#231f20">Abundance in tumor</text>
<circle cx="4.6" cy="707.5" r="2.7" fill="#a8b4dc"/>
<text x="12.8" y="709.3" font-size="7.8" textLength="35.4" lengthAdjust="spacingAndGlyphs" fill="#231f20">Depletion</text>
<circle cx="67.7" cy="707.5" r="2.7" fill="#e02020"/>
<text x="75.5" y="709.3" font-size="7.8" textLength="42.0" lengthAdjust="spacingAndGlyphs" fill="#231f20">Enrichment</text>
<circle cx="137.1" cy="707.5" r="2.7" fill="#d8d8d8"/>
<text x="144.9" y="709.3" font-size="7.8" textLength="10.2" lengthAdjust="spacingAndGlyphs" fill="#231f20">NS</text>
<text x="268.3" y="508.9" font-size="14.2" font-weight="bold" textLength="7.4" lengthAdjust="spacingAndGlyphs" fill="#000">e</text>
<text x="286.1" y="508.9" font-size="10.2" textLength="184.3" lengthAdjust="spacingAndGlyphs" fill="#231f20">In vivo tumor infiltration, ovarian cancer</text>
<text x="284.9" y="519.9" font-size="8.9" textLength="96.3" lengthAdjust="spacingAndGlyphs" fill="#231f20">NK-92 CRISPRa screen</text>
<line x1="332.6" y1="526.5" x2="332.6" y2="660.8" stroke="#f3f3f3" stroke-width="0.6"/>
<line x1="370.1" y1="526.5" x2="370.1" y2="660.8" stroke="#f3f3f3" stroke-width="0.6"/>
<line x1="407.6" y1="526.5" x2="407.6" y2="660.8" stroke="#f3f3f3" stroke-width="0.6"/>
<line x1="445.1" y1="526.5" x2="445.1" y2="660.8" stroke="#f3f3f3" stroke-width="0.6"/>
<line x1="482.6" y1="526.5" x2="482.6" y2="660.8" stroke="#f3f3f3" stroke-width="0.6"/>
<line x1="299.4" y1="639.8" x2="487.6" y2="639.8" stroke="#f3f3f3" stroke-width="0.6"/>
<line x1="299.4" y1="608.8" x2="487.6" y2="608.8" stroke="#f3f3f3" stroke-width="0.6"/>
<line x1="299.4" y1="577.8" x2="487.6" y2="577.8" stroke="#f3f3f3" stroke-width="0.6"/>
<line x1="299.4" y1="546.8" x2="487.6" y2="546.8" stroke="#f3f3f3" stroke-width="0.6"/>
<line x1="313.8" y1="526.5" x2="313.8" y2="660.8" stroke="#ebebeb" stroke-width="0.7"/>
<line x1="351.3" y1="526.5" x2="351.3" y2="660.8" stroke="#ebebeb" stroke-width="0.7"/>
<line x1="388.8" y1="526.5" x2="388.8" y2="660.8" stroke="#ebebeb" stroke-width="0.7"/>
<line x1="426.3" y1="526.5" x2="426.3" y2="660.8" stroke="#ebebeb" stroke-width="0.7"/>
<line x1="463.8" y1="526.5" x2="463.8" y2="660.8" stroke="#ebebeb" stroke-width="0.7"/>
<line x1="299.4" y1="655.3" x2="487.6" y2="655.3" stroke="#ebebeb" stroke-width="0.7"/>
<line x1="299.4" y1="624.3" x2="487.6" y2="624.3" stroke="#ebebeb" stroke-width="0.7"/>
<line x1="299.4" y1="593.3" x2="487.6" y2="593.3" stroke="#ebebeb" stroke-width="0.7"/>
<line x1="299.4" y1="562.3" x2="487.6" y2="562.3" stroke="#ebebeb" stroke-width="0.7"/>
<line x1="299.4" y1="531.3" x2="487.6" y2="531.3" stroke="#ebebeb" stroke-width="0.7"/>
<line x1="384.5" y1="526.5" x2="384.5" y2="660.8" stroke="#666" stroke-width="0.8" stroke-dasharray="2.6,1.8"/>
<line x1="392.4" y1="526.5" x2="392.4" y2="660.8" stroke="#666" stroke-width="0.8" stroke-dasharray="2.6,1.8"/>
<line x1="299.4" y1="635.3" x2="487.6" y2="635.3" stroke="#666" stroke-width="0.8" stroke-dasharray="2.6,1.8"/>
<circle cx="307.8" cy="637.6" r="1.35" fill="#d0d0d0"/>
<circle cx="334.4" cy="641.8" r="1.35" fill="#d0d0d0"/>
<circle cx="347.0" cy="643.2" r="1.35" fill="#d0d0d0"/>
<circle cx="363.9" cy="643.2" r="1.35" fill="#d0d0d0"/>
<circle cx="411.5" cy="639.0" r="1.35" fill="#d0d0d0"/>
<circle cx="417.1" cy="641.8" r="1.35" fill="#d0d0d0"/>
<circle cx="421.3" cy="643.2" r="1.35" fill="#d0d0d0"/>
<circle cx="373.1" cy="640.4" r="1.35" fill="#d0d0d0"/>
<circle cx="326.0" cy="653.0" r="1.35" fill="#d0d0d0"/>
<circle cx="331.6" cy="651.6" r="1.35" fill="#d0d0d0"/>
<circle cx="408.7" cy="646.0" r="1.35" fill="#d0d0d0"/>
<circle cx="390.0" cy="638.5" r="1.35" fill="#d0d0d0"/>
<circle cx="398.0" cy="641.0" r="1.35" fill="#d0d0d0"/>
<circle cx="352.0" cy="646.5" r="1.35" fill="#d0d0d0"/>
<circle cx="385.4" cy="652.5" r="1.35" fill="#d0d0d0"/>
<circle cx="364.0" cy="651.3" r="1.35" fill="#d0d0d0"/>
<circle cx="348.4" cy="653.6" r="1.35" fill="#d0d0d0"/>
<circle cx="392.3" cy="652.8" r="1.35" fill="#d0d0d0"/>
<circle cx="391.3" cy="652.0" r="1.35" fill="#d0d0d0"/>
<circle cx="361.0" cy="652.1" r="1.35" fill="#d0d0d0"/>
<circle cx="399.8" cy="650.7" r="1.35" fill="#d0d0d0"/>
<circle cx="376.3" cy="651.6" r="1.35" fill="#d0d0d0"/>
<circle cx="393.2" cy="652.0" r="1.35" fill="#d0d0d0"/>
<circle cx="365.3" cy="652.2" r="1.35" fill="#d0d0d0"/>
<circle cx="378.7" cy="653.8" r="1.35" fill="#d0d0d0"/>
<circle cx="366.6" cy="654.1" r="1.35" fill="#d0d0d0"/>
<circle cx="351.2" cy="651.7" r="1.35" fill="#d0d0d0"/>
<circle cx="350.4" cy="651.0" r="1.35" fill="#d0d0d0"/>
<circle cx="393.9" cy="653.6" r="1.35" fill="#d0d0d0"/>
<circle cx="355.8" cy="651.3" r="1.35" fill="#d0d0d0"/>
<circle cx="370.7" cy="653.7" r="1.35" fill="#d0d0d0"/>
<circle cx="396.2" cy="653.7" r="1.35" fill="#d0d0d0"/>
<circle cx="381.9" cy="651.1" r="1.35" fill="#d0d0d0"/>
<circle cx="369.5" cy="651.3" r="1.35" fill="#d0d0d0"/>
<circle cx="377.8" cy="652.9" r="1.35" fill="#d0d0d0"/>
<circle cx="356.9" cy="651.6" r="1.35" fill="#d0d0d0"/>
<circle cx="394.0" cy="650.6" r="1.35" fill="#d0d0d0"/>
<circle cx="395.4" cy="654.3" r="1.35" fill="#d0d0d0"/>
<circle cx="404.8" cy="652.1" r="1.35" fill="#d0d0d0"/>
<circle cx="379.4" cy="653.0" r="1.35" fill="#d0d0d0"/>
<circle cx="384.6" cy="654.7" r="1.35" fill="#d0d0d0"/>
<circle cx="387.9" cy="651.8" r="1.35" fill="#d0d0d0"/>
<circle cx="399.0" cy="652.6" r="1.35" fill="#d0d0d0"/>
<circle cx="382.5" cy="653.6" r="1.35" fill="#d0d0d0"/>
<circle cx="344.2" cy="653.8" r="1.35" fill="#d0d0d0"/>
<circle cx="386.4" cy="652.6" r="1.35" fill="#d0d0d0"/>
<circle cx="377.5" cy="652.5" r="1.35" fill="#d0d0d0"/>
<circle cx="356.4" cy="652.8" r="1.35" fill="#d0d0d0"/>
<circle cx="346.4" cy="652.7" r="1.35" fill="#d0d0d0"/>
<circle cx="385.3" cy="652.4" r="1.35" fill="#d0d0d0"/>
<circle cx="380.2" cy="654.6" r="1.35" fill="#d0d0d0"/>
<circle cx="401.1" cy="651.1" r="1.35" fill="#d0d0d0"/>
<circle cx="394.7" cy="653.2" r="1.35" fill="#d0d0d0"/>
<circle cx="347.2" cy="652.0" r="1.35" fill="#d0d0d0"/>
<circle cx="358.9" cy="650.8" r="1.35" fill="#d0d0d0"/>
<circle cx="378.5" cy="654.5" r="1.35" fill="#d0d0d0"/>
<circle cx="364.7" cy="654.2" r="1.35" fill="#d0d0d0"/>
<circle cx="388.5" cy="651.1" r="1.35" fill="#d0d0d0"/>
<circle cx="398.9" cy="653.1" r="1.35" fill="#d0d0d0"/>
<circle cx="403.3" cy="653.6" r="1.35" fill="#d0d0d0"/>
<circle cx="391.3" cy="652.0" r="1.35" fill="#d0d0d0"/>
<circle cx="395.6" cy="654.5" r="1.35" fill="#d0d0d0"/>
<circle cx="399.1" cy="652.4" r="1.35" fill="#d0d0d0"/>
<circle cx="392.4" cy="652.6" r="1.35" fill="#d0d0d0"/>
<circle cx="351.0" cy="650.7" r="1.35" fill="#d0d0d0"/>
<circle cx="349.0" cy="651.4" r="1.35" fill="#d0d0d0"/>
<circle cx="354.3" cy="652.6" r="1.35" fill="#d0d0d0"/>
<circle cx="388.8" cy="652.8" r="1.35" fill="#d0d0d0"/>
<circle cx="371.0" cy="653.3" r="1.35" fill="#d0d0d0"/>
<circle cx="363.5" cy="652.5" r="1.35" fill="#d0d0d0"/>
<circle cx="392.5" cy="652.2" r="1.35" fill="#d0d0d0"/>
<circle cx="355.6" cy="654.4" r="1.35" fill="#d0d0d0"/>
<circle cx="390.1" cy="652.1" r="1.35" fill="#d0d0d0"/>
<circle cx="367.7" cy="652.8" r="1.35" fill="#d0d0d0"/>
<circle cx="382.2" cy="651.5" r="1.35" fill="#d0d0d0"/>
<circle cx="344.2" cy="651.4" r="1.35" fill="#d0d0d0"/>
<circle cx="394.1" cy="651.1" r="1.35" fill="#d0d0d0"/>
<circle cx="373.4" cy="651.3" r="1.35" fill="#d0d0d0"/>
<circle cx="357.4" cy="651.2" r="1.35" fill="#d0d0d0"/>
<circle cx="369.8" cy="651.2" r="1.35" fill="#d0d0d0"/>
<circle cx="345.8" cy="651.0" r="1.35" fill="#d0d0d0"/>
<circle cx="354.8" cy="652.6" r="1.35" fill="#d0d0d0"/>
<circle cx="347.8" cy="650.6" r="1.35" fill="#d0d0d0"/>
<circle cx="372.7" cy="652.3" r="1.35" fill="#d0d0d0"/>
<circle cx="389.0" cy="650.7" r="1.35" fill="#d0d0d0"/>
<circle cx="369.8" cy="652.2" r="1.35" fill="#d0d0d0"/>
<circle cx="345.7" cy="654.7" r="1.35" fill="#d0d0d0"/>
<circle cx="358.0" cy="650.9" r="1.35" fill="#d0d0d0"/>
<circle cx="374.4" cy="651.2" r="1.35" fill="#d0d0d0"/>
<circle cx="383.8" cy="652.0" r="1.35" fill="#d0d0d0"/>
<circle cx="351.9" cy="650.7" r="1.35" fill="#d0d0d0"/>
<circle cx="390.6" cy="651.7" r="1.35" fill="#d0d0d0"/>
<circle cx="394.4" cy="652.5" r="1.35" fill="#d0d0d0"/>
<circle cx="403.7" cy="651.8" r="1.35" fill="#d0d0d0"/>
<circle cx="360.0" cy="651.6" r="1.35" fill="#d0d0d0"/>
<circle cx="396.1" cy="653.2" r="1.35" fill="#d0d0d0"/>
<circle cx="366.1" cy="650.9" r="1.35" fill="#d0d0d0"/>
<circle cx="387.7" cy="654.7" r="1.35" fill="#d0d0d0"/>
<circle cx="381.9" cy="650.5" r="1.35" fill="#d0d0d0"/>
<circle cx="345.9" cy="650.9" r="1.35" fill="#d0d0d0"/>
<circle cx="354.9" cy="650.7" r="1.35" fill="#d0d0d0"/>
<circle cx="347.5" cy="653.3" r="1.35" fill="#d0d0d0"/>
<circle cx="401.6" cy="651.4" r="1.35" fill="#d0d0d0"/>
<circle cx="406.3" cy="652.6" r="1.35" fill="#d0d0d0"/>
<circle cx="395.4" cy="654.4" r="1.35" fill="#d0d0d0"/>
<circle cx="404.2" cy="650.6" r="1.35" fill="#d0d0d0"/>
<circle cx="363.5" cy="653.1" r="1.35" fill="#d0d0d0"/>
<circle cx="404.6" cy="650.9" r="1.35" fill="#d0d0d0"/>
<circle cx="362.8" cy="654.2" r="1.35" fill="#d0d0d0"/>
<circle cx="351.3" cy="652.2" r="1.35" fill="#d0d0d0"/>
<circle cx="365.4" cy="653.4" r="1.35" fill="#d0d0d0"/>
<circle cx="403.4" cy="651.3" r="1.35" fill="#d0d0d0"/>
<circle cx="391.3" cy="653.7" r="1.35" fill="#d0d0d0"/>
<circle cx="397.5" cy="652.9" r="1.35" fill="#d0d0d0"/>
<circle cx="403.1" cy="652.1" r="1.35" fill="#d0d0d0"/>
<circle cx="370.5" cy="651.5" r="1.35" fill="#d0d0d0"/>
<circle cx="393.9" cy="652.6" r="1.35" fill="#d0d0d0"/>
<circle cx="361.2" cy="651.2" r="1.35" fill="#d0d0d0"/>
<circle cx="390.1" cy="653.1" r="1.35" fill="#d0d0d0"/>
<circle cx="389.5" cy="652.2" r="1.35" fill="#d0d0d0"/>
<circle cx="375.2" cy="651.2" r="1.35" fill="#d0d0d0"/>
<circle cx="389.5" cy="650.6" r="1.35" fill="#d0d0d0"/>
<circle cx="373.9" cy="653.8" r="1.35" fill="#d0d0d0"/>
<circle cx="387.3" cy="650.9" r="1.35" fill="#d0d0d0"/>
<circle cx="359.2" cy="654.1" r="1.35" fill="#d0d0d0"/>
<circle cx="385.1" cy="654.3" r="1.35" fill="#d0d0d0"/>
<circle cx="399.8" cy="652.4" r="1.35" fill="#d0d0d0"/>
<circle cx="401.4" cy="653.7" r="1.35" fill="#d0d0d0"/>
<circle cx="365.4" cy="652.1" r="1.35" fill="#d0d0d0"/>
<circle cx="348.6" cy="652.2" r="1.35" fill="#d0d0d0"/>
<circle cx="405.2" cy="651.0" r="1.35" fill="#d0d0d0"/>
<circle cx="380.4" cy="651.0" r="1.35" fill="#d0d0d0"/>
<circle cx="349.2" cy="653.3" r="1.35" fill="#d0d0d0"/>
<circle cx="359.4" cy="650.7" r="1.35" fill="#d0d0d0"/>
<circle cx="340.3" cy="649.4" r="1.35" fill="#d0d0d0"/>
<circle cx="383.6" cy="643.1" r="1.35" fill="#d0d0d0"/>
<circle cx="348.0" cy="652.7" r="1.35" fill="#d0d0d0"/>
<circle cx="347.0" cy="648.6" r="1.35" fill="#d0d0d0"/>
<circle cx="367.0" cy="650.8" r="1.35" fill="#d0d0d0"/>
<circle cx="385.4" cy="650.9" r="1.35" fill="#d0d0d0"/>
<circle cx="378.5" cy="644.9" r="1.35" fill="#d0d0d0"/>
<circle cx="342.8" cy="643.8" r="1.35" fill="#d0d0d0"/>
<circle cx="407.6" cy="644.1" r="1.35" fill="#d0d0d0"/>
<circle cx="327.4" cy="652.7" r="1.35" fill="#d0d0d0"/>
<circle cx="344.9" cy="651.9" r="1.35" fill="#d0d0d0"/>
<circle cx="333.6" cy="647.7" r="1.35" fill="#d0d0d0"/>
<circle cx="347.3" cy="651.3" r="1.35" fill="#d0d0d0"/>
<circle cx="386.5" cy="649.4" r="1.35" fill="#d0d0d0"/>
<circle cx="401.1" cy="651.7" r="1.35" fill="#d0d0d0"/>
<circle cx="359.6" cy="649.0" r="1.35" fill="#d0d0d0"/>
<circle cx="369.6" cy="644.1" r="1.35" fill="#d0d0d0"/>
<circle cx="408.5" cy="648.9" r="1.35" fill="#d0d0d0"/>
<circle cx="406.5" cy="645.1" r="1.35" fill="#d0d0d0"/>
<circle cx="378.9" cy="647.6" r="1.35" fill="#d0d0d0"/>
<circle cx="397.8" cy="643.8" r="1.35" fill="#d0d0d0"/>
<circle cx="359.6" cy="647.8" r="1.35" fill="#d0d0d0"/>
<circle cx="332.2" cy="648.5" r="1.35" fill="#d0d0d0"/>
<circle cx="398.5" cy="647.2" r="1.35" fill="#d0d0d0"/>
<circle cx="389.8" cy="649.1" r="1.35" fill="#d0d0d0"/>
<circle cx="346.4" cy="646.5" r="1.35" fill="#d0d0d0"/>
<circle cx="424.6" cy="646.4" r="1.35" fill="#d0d0d0"/>
<circle cx="368.1" cy="643.8" r="1.35" fill="#d0d0d0"/>
<circle cx="346.8" cy="644.7" r="1.35" fill="#d0d0d0"/>
<circle cx="418.1" cy="650.3" r="1.35" fill="#d0d0d0"/>
<circle cx="412.5" cy="652.9" r="1.35" fill="#d0d0d0"/>
<circle cx="386.2" cy="652.3" r="1.35" fill="#d0d0d0"/>
<circle cx="378.6" cy="647.2" r="1.35" fill="#d0d0d0"/>
<circle cx="419.8" cy="652.0" r="1.35" fill="#d0d0d0"/>
<circle cx="420.0" cy="647.8" r="1.35" fill="#d0d0d0"/>
<circle cx="402.3" cy="647.1" r="1.35" fill="#d0d0d0"/>
<circle cx="424.7" cy="652.2" r="1.35" fill="#d0d0d0"/>
<circle cx="354.2" cy="652.3" r="1.35" fill="#d0d0d0"/>
<circle cx="343.5" cy="644.0" r="1.35" fill="#d0d0d0"/>
<circle cx="397.2" cy="645.9" r="1.35" fill="#d0d0d0"/>
<line x1="299.4" y1="526.5" x2="299.4" y2="660.8" stroke="#333" stroke-width="0.8"/>
<line x1="299.4" y1="660.8" x2="487.6" y2="660.8" stroke="#333" stroke-width="0.8"/>
<line x1="295.9" y1="655.3" x2="299.4" y2="655.3" stroke="#333" stroke-width="0.7"/>
<text x="291.4" y="658.1" font-size="7.9" text-anchor="end" textLength="4.2" lengthAdjust="spacingAndGlyphs" fill="#231f20">0</text>
<line x1="295.9" y1="624.3" x2="299.4" y2="624.3" stroke="#333" stroke-width="0.7"/>
<text x="291.4" y="627.1" font-size="7.9" text-anchor="end" textLength="4.2" lengthAdjust="spacingAndGlyphs" fill="#231f20">2</text>
<line x1="295.9" y1="593.3" x2="299.4" y2="593.3" stroke="#333" stroke-width="0.7"/>
<text x="291.4" y="596.1" font-size="7.9" text-anchor="end" textLength="4.2" lengthAdjust="spacingAndGlyphs" fill="#231f20">4</text>
<line x1="295.9" y1="562.3" x2="299.4" y2="562.3" stroke="#333" stroke-width="0.7"/>
<text x="291.4" y="565.1" font-size="7.9" text-anchor="end" textLength="4.2" lengthAdjust="spacingAndGlyphs" fill="#231f20">6</text>
<line x1="295.9" y1="531.3" x2="299.4" y2="531.3" stroke="#333" stroke-width="0.7"/>
<text x="291.4" y="534.1" font-size="7.9" text-anchor="end" textLength="4.2" lengthAdjust="spacingAndGlyphs" fill="#231f20">8</text>
<line x1="313.8" y1="660.8" x2="313.8" y2="663.8" stroke="#333" stroke-width="0.7"/>
<text x="313.8" y="675.5" font-size="8.2" text-anchor="middle" textLength="8.7" lengthAdjust="spacingAndGlyphs" fill="#231f20">–2</text>
<line x1="351.3" y1="660.8" x2="351.3" y2="663.8" stroke="#333" stroke-width="0.7"/>
<text x="351.3" y="675.5" font-size="8.2" text-anchor="middle" textLength="8.7" lengthAdjust="spacingAndGlyphs" fill="#231f20">–1</text>
<line x1="388.8" y1="660.8" x2="388.8" y2="663.8" stroke="#333" stroke-width="0.7"/>
<text x="388.8" y="675.5" font-size="8.2" text-anchor="middle" textLength="4.3" lengthAdjust="spacingAndGlyphs" fill="#231f20">0</text>
<line x1="426.3" y1="660.8" x2="426.3" y2="663.8" stroke="#333" stroke-width="0.7"/>
<text x="426.3" y="675.5" font-size="8.2" text-anchor="middle" textLength="4.3" lengthAdjust="spacingAndGlyphs" fill="#231f20">1</text>
<line x1="463.8" y1="660.8" x2="463.8" y2="663.8" stroke="#333" stroke-width="0.7"/>
<text x="463.8" y="675.5" font-size="8.2" text-anchor="middle" textLength="4.3" lengthAdjust="spacingAndGlyphs" fill="#231f20">2</text>
<text x="393.7" y="689.4" font-size="9.6" text-anchor="middle" fill="#231f20">log<tspan font-size="6.5" dy="2.4">2</tspan><tspan dy="-2.4">FC</tspan></text>
<text transform="translate(275.3,594.0) rotate(-90)" font-size="9.6" text-anchor="middle" fill="#231f20">–log<tspan font-size="6.5" dy="2.4">10</tspan><tspan dy="-2.4" font-style="italic">P</tspan></text>
<circle cx="320.3" cy="630.7" r="1.7" fill="#a4b4e0"/>
<circle cx="326.4" cy="630.7" r="1.7" fill="#a4b4e0"/>
<circle cx="324.4" cy="634.5" r="1.7" fill="#a4b4e0"/>
<circle cx="335.2" cy="630.7" r="1.7" fill="#a4b4e0"/>
<circle cx="339.8" cy="630.7" r="1.7" fill="#a4b4e0"/>
<circle cx="342.8" cy="630.7" r="1.7" fill="#a4b4e0"/>
<circle cx="361.2" cy="612.3" r="1.7" fill="#a4b4e0"/>
<circle cx="354.0" cy="630.7" r="1.7" fill="#5b72b8"/>
<line x1="309.0" y1="626.0" x2="319.0" y2="629.5" stroke="#6a7fb8" stroke-width="0.5"/>
<line x1="321.0" y1="617.5" x2="325.5" y2="629.0" stroke="#6a7fb8" stroke-width="0.5"/>
<line x1="333.0" y1="620.5" x2="334.5" y2="629.0" stroke="#6a7fb8" stroke-width="0.5"/>
<line x1="346.0" y1="614.5" x2="339.0" y2="629.0" stroke="#6a7fb8" stroke-width="0.5"/>
<line x1="352.0" y1="623.0" x2="343.0" y2="629.0" stroke="#6a7fb8" stroke-width="0.5"/>
<line x1="356.0" y1="629.0" x2="355.5" y2="629.5" stroke="#6a7fb8" stroke-width="0.5"/>
<text x="301.1" y="624.5" font-size="7.6" font-style="italic" textLength="20.3" lengthAdjust="spacingAndGlyphs" fill="#231f20">ARID1A</text>
<text x="305.0" y="615.6" font-size="7.6" font-style="italic" textLength="19.4" lengthAdjust="spacingAndGlyphs" fill="#231f20">OXSR1</text>
<text x="327.2" y="618.7" font-size="7.6" font-style="italic" textLength="13.8" lengthAdjust="spacingAndGlyphs" fill="#231f20">YES1</text>
<text x="335.2" y="612.6" font-size="7.6" font-style="italic" textLength="18.8" lengthAdjust="spacingAndGlyphs" fill="#231f20">PTAFR</text>
<text x="349.0" y="621.2" font-size="7.6" font-style="italic" textLength="22.3" lengthAdjust="spacingAndGlyphs" fill="#231f20">ADAM9</text>
<text x="354.5" y="627.3" font-size="7.6" font-style="italic" textLength="17.9" lengthAdjust="spacingAndGlyphs" fill="#231f20">THBS1</text>
<text x="358.2" y="633.4" font-size="7.6" font-style="italic" textLength="26.0" lengthAdjust="spacingAndGlyphs" fill="#231f20">DNMT3A</text>
<text x="359.4" y="609.5" font-size="7.6" font-style="italic" textLength="19.9" lengthAdjust="spacingAndGlyphs" fill="#231f20">NR4A2</text>
<circle cx="439.4" cy="545.7" r="1.5" fill="#e0202a"/>
<circle cx="457.0" cy="545.7" r="1.5" fill="#e0202a"/>
<circle cx="479.3" cy="550.0" r="1.5" fill="#e0202a"/>
<circle cx="439.4" cy="593.2" r="1.5" fill="#e0202a"/>
<circle cx="417.5" cy="602.4" r="1.5" fill="#e0202a"/>
<circle cx="429.5" cy="614.4" r="1.5" fill="#e0202a"/>
<circle cx="394.5" cy="614.2" r="1.5" fill="#e0202a"/>
<circle cx="426.4" cy="623.6" r="1.5" fill="#e0202a"/>
<circle cx="431.0" cy="630.0" r="1.5" fill="#e0202a"/>
<text x="426.7" y="554.4" font-size="7.6" font-style="italic" textLength="14.7" lengthAdjust="spacingAndGlyphs" fill="#231f20">FPR3</text>
<text x="444.8" y="543.7" font-size="7.6" font-style="italic" textLength="18.7" lengthAdjust="spacingAndGlyphs" fill="#231f20">C5AR1</text>
<text x="467.0" y="560.3" font-size="7.6" font-style="italic" textLength="18.4" lengthAdjust="spacingAndGlyphs" fill="#231f20">GPR18</text>
<text x="444.8" y="596.7" font-size="7.6" font-style="italic" textLength="19.9" lengthAdjust="spacingAndGlyphs" fill="#231f20">GPR34</text>
<text x="405.7" y="596.7" font-size="7.6" font-style="italic" textLength="22.5" lengthAdjust="spacingAndGlyphs" fill="#231f20">GPR183</text>
<text x="432.8" y="610.5" font-size="7.6" font-style="italic" textLength="18.1" lengthAdjust="spacingAndGlyphs" fill="#231f20">ITGAX</text>
<text x="391.9" y="623.9" font-size="7.6" font-style="italic" textLength="11.2" lengthAdjust="spacingAndGlyphs" fill="#231f20">FN1</text>
<text x="407.7" y="621.3" font-size="7.6" font-style="italic" textLength="19.9" lengthAdjust="spacingAndGlyphs" fill="#231f20">GPR84</text>
<text x="436.3" y="633.1" font-size="7.6" font-style="italic" textLength="21.5" lengthAdjust="spacingAndGlyphs" fill="#231f20">P2RY10</text>
<text x="267.9" y="698.2" font-size="8.8" textLength="87.6" lengthAdjust="spacingAndGlyphs" fill="#231f20">Abundance in tumor</text>
<circle cx="272.5" cy="707.5" r="2.7" fill="#a8b4dc"/>
<text x="280.7" y="709.3" font-size="7.8" textLength="35.4" lengthAdjust="spacingAndGlyphs" fill="#231f20">Depletion</text>
<circle cx="335.6" cy="707.5" r="2.7" fill="#e02020"/>
<text x="343.4" y="709.3" font-size="7.8" textLength="42.0" lengthAdjust="spacingAndGlyphs" fill="#231f20">Enrichment</text>
<circle cx="405.0" cy="707.5" r="2.7" fill="#d8d8d8"/>
<text x="412.8" y="709.3" font-size="7.8" textLength="10.2" lengthAdjust="spacingAndGlyphs" fill="#231f20">NS</text>
<text x="506.0" y="508.7" font-size="14.2" font-weight="bold" textLength="4.6" lengthAdjust="spacingAndGlyphs" fill="#000">f</text>
<text x="534.1" y="523.5" font-size="8.6" textLength="142.4" lengthAdjust="spacingAndGlyphs" fill="#231f20">Breast cancer: tumor versus lung</text>
<rect x="543.3" y="530.4" width="124.5" height="8.1" fill="#e3e3e3"/>
<rect x="552.7" y="530.4" width="1.00" height="8.1" fill="#a4a4a4"/>
<rect x="553.9" y="530.4" width="0.60" height="8.1" fill="#b8b8b8"/>
<rect x="562.4" y="530.4" width="1.60" height="8.1" fill="#b0b0b0"/>
<rect x="566.7" y="530.4" width="0.80" height="8.1" fill="#a4a4a4"/>
<rect x="568" y="530.4" width="1.00" height="8.1" fill="#a4a4a4"/>
<rect x="569.8" y="530.4" width="1.00" height="8.1" fill="#a4a4a4"/>
<rect x="571.1" y="530.4" width="2.60" height="8.1" fill="#acacac"/>
<rect x="575.7" y="530.4" width="1.50" height="8.1" fill="#b0b0b0"/>
<rect x="577.2" y="530.4" width="4.10" height="8.1" fill="#a6a6a6"/>
<rect x="581.3" y="530.4" width="1.00" height="8.1" fill="#b8b8b8"/>
<rect x="583.9" y="530.4" width="1.00" height="8.1" fill="#a4a4a4"/>
<rect x="585.7" y="530.4" width="0.70" height="8.1" fill="#a4a4a4"/>
<rect x="587.5" y="530.4" width="1.00" height="8.1" fill="#a4a4a4"/>
<rect x="589.5" y="530.4" width="0.70" height="8.1" fill="#a4a4a4"/>
<rect x="591" y="530.4" width="0.80" height="8.1" fill="#a4a4a4"/>
<rect x="593" y="530.4" width="1.00" height="8.1" fill="#a4a4a4"/>
<rect x="600.2" y="530.4" width="1.00" height="8.1" fill="#a4a4a4"/>
<rect x="602.3" y="530.4" width="1.00" height="8.1" fill="#a4a4a4"/>
<rect x="604.1" y="530.4" width="0.70" height="8.1" fill="#b0b0b0"/>
<rect x="612" y="530.4" width="1.00" height="8.1" fill="#acacac"/>
<line x1="568.2" y1="530.4" x2="568.2" y2="538.5" stroke="#3a7cc4" stroke-width="0.9"/>
<line x1="639.4" y1="530.4" x2="639.4" y2="538.5" stroke="#e0202a" stroke-width="0.9" stroke-opacity="1"/>
<line x1="645.7" y1="530.4" x2="645.7" y2="538.5" stroke="#e0202a" stroke-width="0.9" stroke-opacity="0.5"/>
<line x1="650.5" y1="530.4" x2="650.5" y2="538.5" stroke="#e0202a" stroke-width="0.9" stroke-opacity="1"/>
<rect x="543.3" y="530.4" width="124.5" height="8.1" fill="none" stroke="#5a5a5a" stroke-width="0.8"/>
<line x1="539.5" y1="534.4" x2="543.3" y2="534.4" stroke="#333" stroke-width="0.7"/>
<text x="535.5" y="537.3" font-size="6.6" font-style="italic" text-anchor="end" textLength="24.0" lengthAdjust="spacingAndGlyphs" fill="#231f20">GPR183</text>
<rect x="543.3" y="540.9" width="124.5" height="8.1" fill="#e3e3e3"/>
<rect x="552.7" y="540.9" width="1.00" height="8.1" fill="#a4a4a4"/>
<rect x="553.9" y="540.9" width="0.60" height="8.1" fill="#b8b8b8"/>
<rect x="562.4" y="540.9" width="1.60" height="8.1" fill="#b0b0b0"/>
<rect x="566.7" y="540.9" width="0.80" height="8.1" fill="#a4a4a4"/>
<rect x="568" y="540.9" width="1.00" height="8.1" fill="#a4a4a4"/>
<rect x="569.8" y="540.9" width="1.00" height="8.1" fill="#a4a4a4"/>
<rect x="571.1" y="540.9" width="2.60" height="8.1" fill="#acacac"/>
<rect x="575.7" y="540.9" width="1.50" height="8.1" fill="#b0b0b0"/>
<rect x="577.2" y="540.9" width="4.10" height="8.1" fill="#a6a6a6"/>
<rect x="581.3" y="540.9" width="1.00" height="8.1" fill="#b8b8b8"/>
<rect x="583.9" y="540.9" width="1.00" height="8.1" fill="#a4a4a4"/>
<rect x="585.7" y="540.9" width="0.70" height="8.1" fill="#a4a4a4"/>
<rect x="587.5" y="540.9" width="1.00" height="8.1" fill="#a4a4a4"/>
<rect x="589.5" y="540.9" width="0.70" height="8.1" fill="#a4a4a4"/>
<rect x="591" y="540.9" width="0.80" height="8.1" fill="#a4a4a4"/>
<rect x="593" y="540.9" width="1.00" height="8.1" fill="#a4a4a4"/>
<rect x="600.2" y="540.9" width="1.00" height="8.1" fill="#a4a4a4"/>
<rect x="602.3" y="540.9" width="1.00" height="8.1" fill="#a4a4a4"/>
<rect x="604.1" y="540.9" width="0.70" height="8.1" fill="#b0b0b0"/>
<rect x="612" y="540.9" width="1.00" height="8.1" fill="#acacac"/>
<line x1="639.4" y1="540.9" x2="639.4" y2="549.0" stroke="#e0202a" stroke-width="0.9" stroke-opacity="1"/>
<line x1="646.6" y1="540.9" x2="646.6" y2="549.0" stroke="#e0202a" stroke-width="0.9" stroke-opacity="0.8"/>
<rect x="543.3" y="540.9" width="124.5" height="8.1" fill="none" stroke="#5a5a5a" stroke-width="0.8"/>
<line x1="539.5" y1="544.9" x2="543.3" y2="544.9" stroke="#333" stroke-width="0.7"/>
<text x="535.5" y="547.8" font-size="8.4" font-style="italic" text-anchor="end" textLength="26.2" lengthAdjust="spacingAndGlyphs" fill="#231f20">GPR84</text>
<rect x="543.3" y="551.4" width="124.5" height="8.1" fill="#e3e3e3"/>
<rect x="552.7" y="551.4" width="1.00" height="8.1" fill="#a4a4a4"/>
<rect x="553.9" y="551.4" width="0.60" height="8.1" fill="#b8b8b8"/>
<rect x="562.4" y="551.4" width="1.60" height="8.1" fill="#b0b0b0"/>
<rect x="566.7" y="551.4" width="0.80" height="8.1" fill="#a4a4a4"/>
<rect x="568" y="551.4" width="1.00" height="8.1" fill="#a4a4a4"/>
<rect x="569.8" y="551.4" width="1.00" height="8.1" fill="#a4a4a4"/>
<rect x="571.1" y="551.4" width="2.60" height="8.1" fill="#acacac"/>
<rect x="575.7" y="551.4" width="1.50" height="8.1" fill="#b0b0b0"/>
<rect x="577.2" y="551.4" width="4.10" height="8.1" fill="#a6a6a6"/>
<rect x="581.3" y="551.4" width="1.00" height="8.1" fill="#b8b8b8"/>
<rect x="583.9" y="551.4" width="1.00" height="8.1" fill="#a4a4a4"/>
<rect x="585.7" y="551.4" width="0.70" height="8.1" fill="#a4a4a4"/>
<rect x="587.5" y="551.4" width="1.00" height="8.1" fill="#a4a4a4"/>
<rect x="589.5" y="551.4" width="0.70" height="8.1" fill="#a4a4a4"/>
<rect x="591" y="551.4" width="0.80" height="8.1" fill="#a4a4a4"/>
<rect x="593" y="551.4" width="1.00" height="8.1" fill="#a4a4a4"/>
<rect x="600.2" y="551.4" width="1.00" height="8.1" fill="#a4a4a4"/>
<rect x="602.3" y="551.4" width="1.00" height="8.1" fill="#a4a4a4"/>
<rect x="604.1" y="551.4" width="0.70" height="8.1" fill="#b0b0b0"/>
<rect x="612" y="551.4" width="1.00" height="8.1" fill="#acacac"/>
<line x1="549.3" y1="551.4" x2="549.3" y2="559.5" stroke="#3a7cc4" stroke-width="0.9"/>
<line x1="642.6" y1="551.4" x2="642.6" y2="559.5" stroke="#e0202a" stroke-width="0.9" stroke-opacity="1"/>
<line x1="646.6" y1="551.4" x2="646.6" y2="559.5" stroke="#e0202a" stroke-width="0.9" stroke-opacity="1"/>
<line x1="661.8" y1="551.4" x2="661.8" y2="559.5" stroke="#e0202a" stroke-width="0.9" stroke-opacity="0.5"/>
<rect x="543.3" y="551.4" width="124.5" height="8.1" fill="none" stroke="#5a5a5a" stroke-width="0.8"/>
<line x1="539.5" y1="555.4" x2="543.3" y2="555.4" stroke="#333" stroke-width="0.7"/>
<text x="535.5" y="558.3" font-size="8.4" font-style="italic" text-anchor="end" textLength="26.2" lengthAdjust="spacingAndGlyphs" fill="#231f20">GPR34</text>
<rect x="543.3" y="561.9" width="124.5" height="8.1" fill="#e3e3e3"/>
<rect x="552.7" y="561.9" width="1.00" height="8.1" fill="#a4a4a4"/>
<rect x="553.9" y="561.9" width="0.60" height="8.1" fill="#b8b8b8"/>
<rect x="562.4" y="561.9" width="1.60" height="8.1" fill="#b0b0b0"/>
<rect x="566.7" y="561.9" width="0.80" height="8.1" fill="#a4a4a4"/>
<rect x="568" y="561.9" width="1.00" height="8.1" fill="#a4a4a4"/>
<rect x="569.8" y="561.9" width="1.00" height="8.1" fill="#a4a4a4"/>
<rect x="571.1" y="561.9" width="2.60" height="8.1" fill="#acacac"/>
<rect x="575.7" y="561.9" width="1.50" height="8.1" fill="#b0b0b0"/>
<rect x="577.2" y="561.9" width="4.10" height="8.1" fill="#a6a6a6"/>
<rect x="581.3" y="561.9" width="1.00" height="8.1" fill="#b8b8b8"/>
<rect x="583.9" y="561.9" width="1.00" height="8.1" fill="#a4a4a4"/>
<rect x="585.7" y="561.9" width="0.70" height="8.1" fill="#a4a4a4"/>
<rect x="587.5" y="561.9" width="1.00" height="8.1" fill="#a4a4a4"/>
<rect x="589.5" y="561.9" width="0.70" height="8.1" fill="#a4a4a4"/>
<rect x="591" y="561.9" width="0.80" height="8.1" fill="#a4a4a4"/>
<rect x="593" y="561.9" width="1.00" height="8.1" fill="#a4a4a4"/>
<rect x="600.2" y="561.9" width="1.00" height="8.1" fill="#a4a4a4"/>
<rect x="602.3" y="561.9" width="1.00" height="8.1" fill="#a4a4a4"/>
<rect x="604.1" y="561.9" width="0.70" height="8.1" fill="#b0b0b0"/>
<rect x="612" y="561.9" width="1.00" height="8.1" fill="#acacac"/>
<line x1="587.2" y1="561.9" x2="587.2" y2="570.0" stroke="#e0202a" stroke-width="0.9" stroke-opacity="1"/>
<line x1="638.2" y1="561.9" x2="638.2" y2="570.0" stroke="#e0202a" stroke-width="0.9" stroke-opacity="1"/>
<line x1="640.5" y1="561.9" x2="640.5" y2="570.0" stroke="#e0202a" stroke-width="0.9" stroke-opacity="1"/>
<line x1="648.4" y1="561.9" x2="648.4" y2="570.0" stroke="#e0202a" stroke-width="0.9" stroke-opacity="1"/>
<rect x="543.3" y="561.9" width="124.5" height="8.1" fill="none" stroke="#5a5a5a" stroke-width="0.8"/>
<line x1="539.5" y1="565.9" x2="543.3" y2="565.9" stroke="#333" stroke-width="0.7"/>
<text x="535.5" y="568.8" font-size="8.4" font-style="italic" text-anchor="end" textLength="26.2" lengthAdjust="spacingAndGlyphs" fill="#231f20">GPR18</text>
<rect x="543.3" y="572.4" width="124.5" height="8.1" fill="#e3e3e3"/>
<rect x="552.7" y="572.4" width="1.00" height="8.1" fill="#a4a4a4"/>
<rect x="553.9" y="572.4" width="0.60" height="8.1" fill="#b8b8b8"/>
<rect x="562.4" y="572.4" width="1.60" height="8.1" fill="#b0b0b0"/>
<rect x="566.7" y="572.4" width="0.80" height="8.1" fill="#a4a4a4"/>
<rect x="568" y="572.4" width="1.00" height="8.1" fill="#a4a4a4"/>
<rect x="569.8" y="572.4" width="1.00" height="8.1" fill="#a4a4a4"/>
<rect x="571.1" y="572.4" width="2.60" height="8.1" fill="#acacac"/>
<rect x="575.7" y="572.4" width="1.50" height="8.1" fill="#b0b0b0"/>
<rect x="577.2" y="572.4" width="4.10" height="8.1" fill="#a6a6a6"/>
<rect x="581.3" y="572.4" width="1.00" height="8.1" fill="#b8b8b8"/>
<rect x="583.9" y="572.4" width="1.00" height="8.1" fill="#a4a4a4"/>
<rect x="585.7" y="572.4" width="0.70" height="8.1" fill="#a4a4a4"/>
<rect x="587.5" y="572.4" width="1.00" height="8.1" fill="#a4a4a4"/>
<rect x="589.5" y="572.4" width="0.70" height="8.1" fill="#a4a4a4"/>
<rect x="591" y="572.4" width="0.80" height="8.1" fill="#a4a4a4"/>
<rect x="593" y="572.4" width="1.00" height="8.1" fill="#a4a4a4"/>
<rect x="600.2" y="572.4" width="1.00" height="8.1" fill="#a4a4a4"/>
<rect x="602.3" y="572.4" width="1.00" height="8.1" fill="#a4a4a4"/>
<rect x="604.1" y="572.4" width="0.70" height="8.1" fill="#b0b0b0"/>
<rect x="612" y="572.4" width="1.00" height="8.1" fill="#acacac"/>
<line x1="576.4" y1="572.4" x2="576.4" y2="580.5" stroke="#3a7cc4" stroke-width="0.9"/>
<line x1="636.4" y1="572.4" x2="636.4" y2="580.5" stroke="#e0202a" stroke-width="0.9" stroke-opacity="0.7"/>
<line x1="637.2" y1="572.4" x2="637.2" y2="580.5" stroke="#e0202a" stroke-width="0.9" stroke-opacity="0.7"/>
<line x1="651.5" y1="572.4" x2="651.5" y2="580.5" stroke="#e0202a" stroke-width="0.9" stroke-opacity="1"/>
<rect x="543.3" y="572.4" width="124.5" height="8.1" fill="none" stroke="#5a5a5a" stroke-width="0.8"/>
<line x1="539.5" y1="576.4" x2="543.3" y2="576.4" stroke="#333" stroke-width="0.7"/>
<text x="535.5" y="579.3" font-size="8.4" font-style="italic" text-anchor="end" textLength="24.7" lengthAdjust="spacingAndGlyphs" fill="#231f20">LPAR2</text>
<rect x="543.3" y="582.9" width="124.5" height="8.1" fill="#e3e3e3"/>
<rect x="552.7" y="582.9" width="1.00" height="8.1" fill="#a4a4a4"/>
<rect x="553.9" y="582.9" width="0.60" height="8.1" fill="#b8b8b8"/>
<rect x="562.4" y="582.9" width="1.60" height="8.1" fill="#b0b0b0"/>
<rect x="566.7" y="582.9" width="0.80" height="8.1" fill="#a4a4a4"/>
<rect x="568" y="582.9" width="1.00" height="8.1" fill="#a4a4a4"/>
<rect x="569.8" y="582.9" width="1.00" height="8.1" fill="#a4a4a4"/>
<rect x="571.1" y="582.9" width="2.60" height="8.1" fill="#acacac"/>
<rect x="575.7" y="582.9" width="1.50" height="8.1" fill="#b0b0b0"/>
<rect x="577.2" y="582.9" width="4.10" height="8.1" fill="#a6a6a6"/>
<rect x="581.3" y="582.9" width="1.00" height="8.1" fill="#b8b8b8"/>
<rect x="583.9" y="582.9" width="1.00" height="8.1" fill="#a4a4a4"/>
<rect x="585.7" y="582.9" width="0.70" height="8.1" fill="#a4a4a4"/>
<rect x="587.5" y="582.9" width="1.00" height="8.1" fill="#a4a4a4"/>
<rect x="589.5" y="582.9" width="0.70" height="8.1" fill="#a4a4a4"/>
<rect x="591" y="582.9" width="0.80" height="8.1" fill="#a4a4a4"/>
<rect x="593" y="582.9" width="1.00" height="8.1" fill="#a4a4a4"/>
<rect x="600.2" y="582.9" width="1.00" height="8.1" fill="#a4a4a4"/>
<rect x="602.3" y="582.9" width="1.00" height="8.1" fill="#a4a4a4"/>
<rect x="604.1" y="582.9" width="0.70" height="8.1" fill="#b0b0b0"/>
<rect x="612" y="582.9" width="1.00" height="8.1" fill="#acacac"/>
<line x1="592.3" y1="582.9" x2="592.3" y2="591.0" stroke="#e0202a" stroke-width="0.9" stroke-opacity="1"/>
<line x1="627.4" y1="582.9" x2="627.4" y2="591.0" stroke="#e0202a" stroke-width="0.9" stroke-opacity="1"/>
<line x1="631.1" y1="582.9" x2="631.1" y2="591.0" stroke="#e0202a" stroke-width="0.9" stroke-opacity="0.6"/>
<line x1="634.6" y1="582.9" x2="634.6" y2="591.0" stroke="#e0202a" stroke-width="0.9" stroke-opacity="1"/>
<rect x="543.3" y="582.9" width="124.5" height="8.1" fill="none" stroke="#5a5a5a" stroke-width="0.8"/>
<line x1="539.5" y1="586.9" x2="543.3" y2="586.9" stroke="#333" stroke-width="0.7"/>
<text x="535.5" y="589.8" font-size="8.4" font-style="italic" text-anchor="end" textLength="20.4" lengthAdjust="spacingAndGlyphs" fill="#231f20">FPR3</text>
<rect x="543.3" y="593.4" width="124.5" height="8.1" fill="#e3e3e3"/>
<rect x="552.7" y="593.4" width="1.00" height="8.1" fill="#a4a4a4"/>
<rect x="553.9" y="593.4" width="0.60" height="8.1" fill="#b8b8b8"/>
<rect x="562.4" y="593.4" width="1.60" height="8.1" fill="#b0b0b0"/>
<rect x="566.7" y="593.4" width="0.80" height="8.1" fill="#a4a4a4"/>
<rect x="568" y="593.4" width="1.00" height="8.1" fill="#a4a4a4"/>
<rect x="569.8" y="593.4" width="1.00" height="8.1" fill="#a4a4a4"/>
<rect x="571.1" y="593.4" width="2.60" height="8.1" fill="#acacac"/>
<rect x="575.7" y="593.4" width="1.50" height="8.1" fill="#b0b0b0"/>
<rect x="577.2" y="593.4" width="4.10" height="8.1" fill="#a6a6a6"/>
<rect x="581.3" y="593.4" width="1.00" height="8.1" fill="#b8b8b8"/>
<rect x="583.9" y="593.4" width="1.00" height="8.1" fill="#a4a4a4"/>
<rect x="585.7" y="593.4" width="0.70" height="8.1" fill="#a4a4a4"/>
<rect x="587.5" y="593.4" width="1.00" height="8.1" fill="#a4a4a4"/>
<rect x="589.5" y="593.4" width="0.70" height="8.1" fill="#a4a4a4"/>
<rect x="591" y="593.4" width="0.80" height="8.1" fill="#a4a4a4"/>
<rect x="593" y="593.4" width="1.00" height="8.1" fill="#a4a4a4"/>
<rect x="600.2" y="593.4" width="1.00" height="8.1" fill="#a4a4a4"/>
<rect x="602.3" y="593.4" width="1.00" height="8.1" fill="#a4a4a4"/>
<rect x="604.1" y="593.4" width="0.70" height="8.1" fill="#b0b0b0"/>
<rect x="612" y="593.4" width="1.00" height="8.1" fill="#acacac"/>
<line x1="568.0" y1="593.4" x2="568.0" y2="601.5" stroke="#3a7cc4" stroke-width="0.9"/>
<line x1="640.5" y1="593.4" x2="640.5" y2="601.5" stroke="#e0202a" stroke-width="0.9" stroke-opacity="1"/>
<line x1="644.3" y1="593.4" x2="644.3" y2="601.5" stroke="#e0202a" stroke-width="0.9" stroke-opacity="1"/>
<line x1="648.0" y1="593.4" x2="648.0" y2="601.5" stroke="#e0202a" stroke-width="0.9" stroke-opacity="0.6"/>
<rect x="543.3" y="593.4" width="124.5" height="8.1" fill="none" stroke="#5a5a5a" stroke-width="0.8"/>
<line x1="539.5" y1="597.4" x2="543.3" y2="597.4" stroke="#333" stroke-width="0.7"/>
<text x="535.5" y="600.3" font-size="8.4" font-style="italic" text-anchor="end" textLength="25.7" lengthAdjust="spacingAndGlyphs" fill="#231f20">C5AR1</text>
<rect x="543.3" y="603.9" width="124.5" height="8.1" fill="#e3e3e3"/>
<rect x="552.7" y="603.9" width="1.00" height="8.1" fill="#a4a4a4"/>
<rect x="553.9" y="603.9" width="0.60" height="8.1" fill="#b8b8b8"/>
<rect x="562.4" y="603.9" width="1.60" height="8.1" fill="#b0b0b0"/>
<rect x="566.7" y="603.9" width="0.80" height="8.1" fill="#a4a4a4"/>
<rect x="568" y="603.9" width="1.00" height="8.1" fill="#a4a4a4"/>
<rect x="569.8" y="603.9" width="1.00" height="8.1" fill="#a4a4a4"/>
<rect x="571.1" y="603.9" width="2.60" height="8.1" fill="#acacac"/>
<rect x="575.7" y="603.9" width="1.50" height="8.1" fill="#b0b0b0"/>
<rect x="577.2" y="603.9" width="4.10" height="8.1" fill="#a6a6a6"/>
<rect x="581.3" y="603.9" width="1.00" height="8.1" fill="#b8b8b8"/>
<rect x="583.9" y="603.9" width="1.00" height="8.1" fill="#a4a4a4"/>
<rect x="585.7" y="603.9" width="0.70" height="8.1" fill="#a4a4a4"/>
<rect x="587.5" y="603.9" width="1.00" height="8.1" fill="#a4a4a4"/>
<rect x="589.5" y="603.9" width="0.70" height="8.1" fill="#a4a4a4"/>
<rect x="591" y="603.9" width="0.80" height="8.1" fill="#a4a4a4"/>
<rect x="593" y="603.9" width="1.00" height="8.1" fill="#a4a4a4"/>
<rect x="600.2" y="603.9" width="1.00" height="8.1" fill="#a4a4a4"/>
<rect x="602.3" y="603.9" width="1.00" height="8.1" fill="#a4a4a4"/>
<rect x="604.1" y="603.9" width="0.70" height="8.1" fill="#b0b0b0"/>
<rect x="612" y="603.9" width="1.00" height="8.1" fill="#acacac"/>
<line x1="591.4" y1="603.9" x2="591.4" y2="612.0" stroke="#e0202a" stroke-width="0.9" stroke-opacity="1"/>
<line x1="615.5" y1="603.9" x2="615.5" y2="612.0" stroke="#e0202a" stroke-width="0.9" stroke-opacity="1"/>
<line x1="624.5" y1="603.9" x2="624.5" y2="612.0" stroke="#e0202a" stroke-width="0.9" stroke-opacity="1"/>
<line x1="653.4" y1="603.9" x2="653.4" y2="612.0" stroke="#e0202a" stroke-width="0.9" stroke-opacity="1"/>
<rect x="543.3" y="603.9" width="124.5" height="8.1" fill="none" stroke="#5a5a5a" stroke-width="0.8"/>
<line x1="539.5" y1="607.9" x2="543.3" y2="607.9" stroke="#333" stroke-width="0.7"/>
<text x="535.5" y="610.8" font-size="8.4" font-style="italic" text-anchor="end" textLength="27.0" lengthAdjust="spacingAndGlyphs" fill="#231f20">CXCR2</text>
<line x1="553.1" y1="612.0" x2="553.1" y2="614.8" stroke="#333" stroke-width="0.7"/>
<text x="553.1" y="626.4" font-size="8.2" text-anchor="middle" textLength="15.2" lengthAdjust="spacingAndGlyphs" fill="#231f20">–2.5</text>
<line x1="581.6" y1="612.0" x2="581.6" y2="614.8" stroke="#333" stroke-width="0.7"/>
<text x="581.6" y="626.4" font-size="8.2" text-anchor="middle" textLength="4.3" lengthAdjust="spacingAndGlyphs" fill="#231f20">0</text>
<line x1="610.1" y1="612.0" x2="610.1" y2="614.8" stroke="#333" stroke-width="0.7"/>
<text x="610.1" y="626.4" font-size="8.2" text-anchor="middle" textLength="10.8" lengthAdjust="spacingAndGlyphs" fill="#231f20">2.5</text>
<line x1="638.5" y1="612.0" x2="638.5" y2="614.8" stroke="#333" stroke-width="0.7"/>
<text x="638.5" y="626.4" font-size="8.2" text-anchor="middle" textLength="10.8" lengthAdjust="spacingAndGlyphs" fill="#231f20">5.0</text>
<line x1="667.0" y1="612.0" x2="667.0" y2="614.8" stroke="#333" stroke-width="0.7"/>
<text x="667.0" y="626.4" font-size="8.2" text-anchor="middle" textLength="10.8" lengthAdjust="spacingAndGlyphs" fill="#231f20">7.5</text>
<text x="605.3" y="640.3" font-size="9.6" text-anchor="middle" fill="#231f20">log<tspan font-size="6.5" dy="2.4">2</tspan><tspan dy="-2.4">FC</tspan></text>
<text x="526.2" y="665.4" font-size="8.6" textLength="158.8" lengthAdjust="spacingAndGlyphs" fill="#231f20">Ovarian cancer: tumor versus ascites</text>
<rect x="543.3" y="672.3" width="124.5" height="9.3" fill="#e3e3e3"/>
<rect x="548.8" y="672.3" width="0.70" height="9.3" fill="#a8a8a8"/>
<rect x="564" y="672.3" width="0.70" height="9.3" fill="#a8a8a8"/>
<rect x="571" y="672.3" width="2.10" height="9.3" fill="#acacac"/>
<rect x="574" y="672.3" width="1.10" height="9.3" fill="#a8a8a8"/>
<rect x="575.9" y="672.3" width="1.00" height="9.3" fill="#a8a8a8"/>
<rect x="578" y="672.3" width="1.00" height="9.3" fill="#a8a8a8"/>
<rect x="582.7" y="672.3" width="0.90" height="9.3" fill="#a8a8a8"/>
<rect x="584.5" y="672.3" width="0.80" height="9.3" fill="#a8a8a8"/>
<rect x="586.8" y="672.3" width="1.20" height="9.3" fill="#a8a8a8"/>
<rect x="588.5" y="672.3" width="3.50" height="9.3" fill="#a4a4a4"/>
<rect x="592.6" y="672.3" width="1.80" height="9.3" fill="#b0b0b0"/>
<rect x="596.1" y="672.3" width="0.80" height="9.3" fill="#a8a8a8"/>
<rect x="599.1" y="672.3" width="1.10" height="9.3" fill="#b0b0b0"/>
<rect x="603.1" y="672.3" width="1.80" height="9.3" fill="#c4c4c4"/>
<rect x="607.8" y="672.3" width="1.80" height="9.3" fill="#b8b8b8"/>
<rect x="616.6" y="672.3" width="0.70" height="9.3" fill="#a8a8a8"/>
<line x1="613.9" y1="672.3" x2="613.9" y2="681.6" stroke="#e0202a" stroke-width="0.9" stroke-opacity="0.5"/>
<line x1="627.5" y1="672.3" x2="627.5" y2="681.6" stroke="#e0202a" stroke-width="0.9" stroke-opacity="1"/>
<rect x="543.3" y="672.3" width="124.5" height="9.3" fill="none" stroke="#5a5a5a" stroke-width="0.8"/>
<line x1="539.5" y1="676.9" x2="543.3" y2="676.9" stroke="#333" stroke-width="0.7"/>
<text x="534.7" y="679.8" font-size="8.4" font-style="italic" text-anchor="end" textLength="30.6" lengthAdjust="spacingAndGlyphs" fill="#231f20">GPR183</text>
<rect x="543.3" y="684.4" width="124.5" height="9.3" fill="#e3e3e3"/>
<rect x="548.8" y="684.4" width="0.70" height="9.3" fill="#a8a8a8"/>
<rect x="564" y="684.4" width="0.70" height="9.3" fill="#a8a8a8"/>
<rect x="571" y="684.4" width="2.10" height="9.3" fill="#acacac"/>
<rect x="574" y="684.4" width="1.10" height="9.3" fill="#a8a8a8"/>
<rect x="575.9" y="684.4" width="1.00" height="9.3" fill="#a8a8a8"/>
<rect x="578" y="684.4" width="1.00" height="9.3" fill="#a8a8a8"/>
<rect x="582.7" y="684.4" width="0.90" height="9.3" fill="#a8a8a8"/>
<rect x="584.5" y="684.4" width="0.80" height="9.3" fill="#a8a8a8"/>
<rect x="586.8" y="684.4" width="1.20" height="9.3" fill="#a8a8a8"/>
<rect x="588.5" y="684.4" width="3.50" height="9.3" fill="#a4a4a4"/>
<rect x="592.6" y="684.4" width="1.80" height="9.3" fill="#b0b0b0"/>
<rect x="596.1" y="684.4" width="0.80" height="9.3" fill="#a8a8a8"/>
<rect x="599.1" y="684.4" width="1.10" height="9.3" fill="#b0b0b0"/>
<rect x="603.1" y="684.4" width="1.80" height="9.3" fill="#c4c4c4"/>
<rect x="607.8" y="684.4" width="1.80" height="9.3" fill="#b8b8b8"/>
<rect x="616.6" y="684.4" width="0.70" height="9.3" fill="#a8a8a8"/>
<line x1="579.6" y1="684.4" x2="579.6" y2="693.7" stroke="#3a7cc4" stroke-width="0.9"/>
<line x1="587.5" y1="684.4" x2="587.5" y2="693.7" stroke="#3a7cc4" stroke-width="0.9"/>
<line x1="610.5" y1="684.4" x2="610.5" y2="693.7" stroke="#e0202a" stroke-width="0.9" stroke-opacity="1"/>
<line x1="620.5" y1="684.4" x2="620.5" y2="693.7" stroke="#e0202a" stroke-width="0.9" stroke-opacity="1"/>
<rect x="543.3" y="684.4" width="124.5" height="9.3" fill="none" stroke="#5a5a5a" stroke-width="0.8"/>
<line x1="539.5" y1="689.0" x2="543.3" y2="689.0" stroke="#333" stroke-width="0.7"/>
<text x="534.7" y="691.9" font-size="8.4" font-style="italic" text-anchor="end" textLength="26.2" lengthAdjust="spacingAndGlyphs" fill="#231f20">GPR84</text>
<rect x="543.3" y="696.5" width="124.5" height="9.3" fill="#e3e3e3"/>
<rect x="548.8" y="696.5" width="0.70" height="9.3" fill="#a8a8a8"/>
<rect x="564" y="696.5" width="0.70" height="9.3" fill="#a8a8a8"/>
<rect x="571" y="696.5" width="2.10" height="9.3" fill="#acacac"/>
<rect x="574" y="696.5" width="1.10" height="9.3" fill="#a8a8a8"/>
<rect x="575.9" y="696.5" width="1.00" height="9.3" fill="#a8a8a8"/>
<rect x="578" y="696.5" width="1.00" height="9.3" fill="#a8a8a8"/>
<rect x="582.7" y="696.5" width="0.90" height="9.3" fill="#a8a8a8"/>
<rect x="584.5" y="696.5" width="0.80" height="9.3" fill="#a8a8a8"/>
<rect x="586.8" y="696.5" width="1.20" height="9.3" fill="#a8a8a8"/>
<rect x="588.5" y="696.5" width="3.50" height="9.3" fill="#a4a4a4"/>
<rect x="592.6" y="696.5" width="1.80" height="9.3" fill="#b0b0b0"/>
<rect x="596.1" y="696.5" width="0.80" height="9.3" fill="#a8a8a8"/>
<rect x="599.1" y="696.5" width="1.10" height="9.3" fill="#b0b0b0"/>
<rect x="603.1" y="696.5" width="1.80" height="9.3" fill="#c4c4c4"/>
<rect x="607.8" y="696.5" width="1.80" height="9.3" fill="#b8b8b8"/>
<rect x="616.6" y="696.5" width="0.70" height="9.3" fill="#a8a8a8"/>
<line x1="603.5" y1="696.5" x2="603.5" y2="705.8" stroke="#e0202a" stroke-width="0.9" stroke-opacity="1"/>
<line x1="607.3" y1="696.5" x2="607.3" y2="705.8" stroke="#e0202a" stroke-width="0.9" stroke-opacity="1"/>
<line x1="629.5" y1="696.5" x2="629.5" y2="705.8" stroke="#e0202a" stroke-width="0.9" stroke-opacity="1"/>
<line x1="633.6" y1="696.5" x2="633.6" y2="705.8" stroke="#e0202a" stroke-width="0.9" stroke-opacity="1"/>
<rect x="543.3" y="696.5" width="124.5" height="9.3" fill="none" stroke="#5a5a5a" stroke-width="0.8"/>
<line x1="539.5" y1="701.1" x2="543.3" y2="701.1" stroke="#333" stroke-width="0.7"/>
<text x="534.7" y="704.0" font-size="8.4" font-style="italic" text-anchor="end" textLength="26.2" lengthAdjust="spacingAndGlyphs" fill="#231f20">GPR34</text>
<rect x="543.3" y="708.6" width="124.5" height="9.3" fill="#e3e3e3"/>
<rect x="548.8" y="708.6" width="0.70" height="9.3" fill="#a8a8a8"/>
<rect x="564" y="708.6" width="0.70" height="9.3" fill="#a8a8a8"/>
<rect x="571" y="708.6" width="2.10" height="9.3" fill="#acacac"/>
<rect x="574" y="708.6" width="1.10" height="9.3" fill="#a8a8a8"/>
<rect x="575.9" y="708.6" width="1.00" height="9.3" fill="#a8a8a8"/>
<rect x="578" y="708.6" width="1.00" height="9.3" fill="#a8a8a8"/>
<rect x="582.7" y="708.6" width="0.90" height="9.3" fill="#a8a8a8"/>
<rect x="584.5" y="708.6" width="0.80" height="9.3" fill="#a8a8a8"/>
<rect x="586.8" y="708.6" width="1.20" height="9.3" fill="#a8a8a8"/>
<rect x="588.5" y="708.6" width="3.50" height="9.3" fill="#a4a4a4"/>
<rect x="592.6" y="708.6" width="1.80" height="9.3" fill="#b0b0b0"/>
<rect x="596.1" y="708.6" width="0.80" height="9.3" fill="#a8a8a8"/>
<rect x="599.1" y="708.6" width="1.10" height="9.3" fill="#b0b0b0"/>
<rect x="603.1" y="708.6" width="1.80" height="9.3" fill="#c4c4c4"/>
<rect x="607.8" y="708.6" width="1.80" height="9.3" fill="#b8b8b8"/>
<rect x="616.6" y="708.6" width="0.70" height="9.3" fill="#a8a8a8"/>
<line x1="562.0" y1="708.6" x2="562.0" y2="717.9" stroke="#3a7cc4" stroke-width="0.9"/>
<line x1="624.4" y1="708.6" x2="624.4" y2="717.9" stroke="#e0202a" stroke-width="0.9" stroke-opacity="1"/>
<line x1="639.0" y1="708.6" x2="639.0" y2="717.9" stroke="#e0202a" stroke-width="0.9" stroke-opacity="0.5"/>
<line x1="644.4" y1="708.6" x2="644.4" y2="717.9" stroke="#e0202a" stroke-width="0.9" stroke-opacity="1"/>
<rect x="543.3" y="708.6" width="124.5" height="9.3" fill="none" stroke="#5a5a5a" stroke-width="0.8"/>
<line x1="539.5" y1="713.2" x2="543.3" y2="713.2" stroke="#333" stroke-width="0.7"/>
<text x="534.7" y="716.1" font-size="8.4" font-style="italic" text-anchor="end" textLength="26.2" lengthAdjust="spacingAndGlyphs" fill="#231f20">GPR18</text>
<rect x="543.3" y="720.7" width="124.5" height="9.3" fill="#e3e3e3"/>
<rect x="548.8" y="720.7" width="0.70" height="9.3" fill="#a8a8a8"/>
<rect x="564" y="720.7" width="0.70" height="9.3" fill="#a8a8a8"/>
<rect x="571" y="720.7" width="2.10" height="9.3" fill="#acacac"/>
<rect x="574" y="720.7" width="1.10" height="9.3" fill="#a8a8a8"/>
<rect x="575.9" y="720.7" width="1.00" height="9.3" fill="#a8a8a8"/>
<rect x="578" y="720.7" width="1.00" height="9.3" fill="#a8a8a8"/>
<rect x="582.7" y="720.7" width="0.90" height="9.3" fill="#a8a8a8"/>
<rect x="584.5" y="720.7" width="0.80" height="9.3" fill="#a8a8a8"/>
<rect x="586.8" y="720.7" width="1.20" height="9.3" fill="#a8a8a8"/>
<rect x="588.5" y="720.7" width="3.50" height="9.3" fill="#a4a4a4"/>
<rect x="592.6" y="720.7" width="1.80" height="9.3" fill="#b0b0b0"/>
<rect x="596.1" y="720.7" width="0.80" height="9.3" fill="#a8a8a8"/>
<rect x="599.1" y="720.7" width="1.10" height="9.3" fill="#b0b0b0"/>
<rect x="603.1" y="720.7" width="1.80" height="9.3" fill="#c4c4c4"/>
<rect x="607.8" y="720.7" width="1.80" height="9.3" fill="#b8b8b8"/>
<rect x="616.6" y="720.7" width="0.70" height="9.3" fill="#a8a8a8"/>
<line x1="575.5" y1="720.7" x2="575.5" y2="730.0" stroke="#3a7cc4" stroke-width="0.9"/>
<line x1="603.5" y1="720.7" x2="603.5" y2="730.0" stroke="#e0202a" stroke-width="0.9" stroke-opacity="1"/>
<line x1="638.6" y1="720.7" x2="638.6" y2="730.0" stroke="#e0202a" stroke-width="0.9" stroke-opacity="1"/>
<line x1="661.9" y1="720.7" x2="661.9" y2="730.0" stroke="#e0202a" stroke-width="0.9" stroke-opacity="0.5"/>
<rect x="543.3" y="720.7" width="124.5" height="9.3" fill="none" stroke="#5a5a5a" stroke-width="0.8"/>
<line x1="539.5" y1="725.3" x2="543.3" y2="725.3" stroke="#333" stroke-width="0.7"/>
<text x="534.7" y="728.2" font-size="8.4" font-style="italic" text-anchor="end" textLength="20.4" lengthAdjust="spacingAndGlyphs" fill="#231f20">FPR3</text>
<rect x="543.3" y="732.8" width="124.5" height="9.3" fill="#e3e3e3"/>
<rect x="548.8" y="732.8" width="0.70" height="9.3" fill="#a8a8a8"/>
<rect x="564" y="732.8" width="0.70" height="9.3" fill="#a8a8a8"/>
<rect x="571" y="732.8" width="2.10" height="9.3" fill="#acacac"/>
<rect x="574" y="732.8" width="1.10" height="9.3" fill="#a8a8a8"/>
<rect x="575.9" y="732.8" width="1.00" height="9.3" fill="#a8a8a8"/>
<rect x="578" y="732.8" width="1.00" height="9.3" fill="#a8a8a8"/>
<rect x="582.7" y="732.8" width="0.90" height="9.3" fill="#a8a8a8"/>
<rect x="584.5" y="732.8" width="0.80" height="9.3" fill="#a8a8a8"/>
<rect x="586.8" y="732.8" width="1.20" height="9.3" fill="#a8a8a8"/>
<rect x="588.5" y="732.8" width="3.50" height="9.3" fill="#a4a4a4"/>
<rect x="592.6" y="732.8" width="1.80" height="9.3" fill="#b0b0b0"/>
<rect x="596.1" y="732.8" width="0.80" height="9.3" fill="#a8a8a8"/>
<rect x="599.1" y="732.8" width="1.10" height="9.3" fill="#b0b0b0"/>
<rect x="603.1" y="732.8" width="1.80" height="9.3" fill="#c4c4c4"/>
<rect x="607.8" y="732.8" width="1.80" height="9.3" fill="#b8b8b8"/>
<rect x="616.6" y="732.8" width="0.70" height="9.3" fill="#a8a8a8"/>
<line x1="618.1" y1="732.8" x2="618.1" y2="742.1" stroke="#e0202a" stroke-width="0.9" stroke-opacity="0.5"/>
<line x1="627.3" y1="732.8" x2="627.3" y2="742.1" stroke="#e0202a" stroke-width="0.9" stroke-opacity="1"/>
<line x1="634.0" y1="732.8" x2="634.0" y2="742.1" stroke="#e0202a" stroke-width="0.9" stroke-opacity="0.7"/>
<rect x="543.3" y="732.8" width="124.5" height="9.3" fill="none" stroke="#5a5a5a" stroke-width="0.8"/>
<line x1="539.5" y1="737.4" x2="543.3" y2="737.4" stroke="#333" stroke-width="0.7"/>
<text x="534.7" y="740.3" font-size="8.4" font-style="italic" text-anchor="end" textLength="25.7" lengthAdjust="spacingAndGlyphs" fill="#231f20">C5AR1</text>
<rect x="543.3" y="744.9" width="124.5" height="9.3" fill="#e3e3e3"/>
<rect x="548.8" y="744.9" width="0.70" height="9.3" fill="#a8a8a8"/>
<rect x="564" y="744.9" width="0.70" height="9.3" fill="#a8a8a8"/>
<rect x="571" y="744.9" width="2.10" height="9.3" fill="#acacac"/>
<rect x="574" y="744.9" width="1.10" height="9.3" fill="#a8a8a8"/>
<rect x="575.9" y="744.9" width="1.00" height="9.3" fill="#a8a8a8"/>
<rect x="578" y="744.9" width="1.00" height="9.3" fill="#a8a8a8"/>
<rect x="582.7" y="744.9" width="0.90" height="9.3" fill="#a8a8a8"/>
<rect x="584.5" y="744.9" width="0.80" height="9.3" fill="#a8a8a8"/>
<rect x="586.8" y="744.9" width="1.20" height="9.3" fill="#a8a8a8"/>
<rect x="588.5" y="744.9" width="3.50" height="9.3" fill="#a4a4a4"/>
<rect x="592.6" y="744.9" width="1.80" height="9.3" fill="#b0b0b0"/>
<rect x="596.1" y="744.9" width="0.80" height="9.3" fill="#a8a8a8"/>
<rect x="599.1" y="744.9" width="1.10" height="9.3" fill="#b0b0b0"/>
<rect x="603.1" y="744.9" width="1.80" height="9.3" fill="#c4c4c4"/>
<rect x="607.8" y="744.9" width="1.80" height="9.3" fill="#b8b8b8"/>
<rect x="616.6" y="744.9" width="0.70" height="9.3" fill="#a8a8a8"/>
<line x1="561.3" y1="744.9" x2="561.3" y2="754.2" stroke="#3a7cc4" stroke-width="0.9"/>
<line x1="603.5" y1="744.9" x2="603.5" y2="754.2" stroke="#e0202a" stroke-width="0.9" stroke-opacity="1"/>
<line x1="622.5" y1="744.9" x2="622.5" y2="754.2" stroke="#e0202a" stroke-width="0.9" stroke-opacity="1"/>
<rect x="543.3" y="744.9" width="124.5" height="9.3" fill="none" stroke="#5a5a5a" stroke-width="0.8"/>
<line x1="539.5" y1="749.5" x2="543.3" y2="749.5" stroke="#333" stroke-width="0.7"/>
<text x="534.7" y="752.4" font-size="8.4" font-style="italic" text-anchor="end" textLength="23.9" lengthAdjust="spacingAndGlyphs" fill="#231f20">ITGAX</text>
<line x1="554.9" y1="754.2" x2="554.9" y2="757.0" stroke="#333" stroke-width="0.7"/>
<text x="554.9" y="768.5" font-size="8.2" text-anchor="middle" textLength="15.2" lengthAdjust="spacingAndGlyphs" fill="#231f20">–2.5</text>
<line x1="591.3" y1="754.2" x2="591.3" y2="757.0" stroke="#333" stroke-width="0.7"/>
<text x="591.3" y="768.5" font-size="8.2" text-anchor="middle" textLength="4.3" lengthAdjust="spacingAndGlyphs" fill="#231f20">0</text>
<line x1="627.7" y1="754.2" x2="627.7" y2="757.0" stroke="#333" stroke-width="0.7"/>
<text x="627.7" y="768.5" font-size="8.2" text-anchor="middle" textLength="10.8" lengthAdjust="spacingAndGlyphs" fill="#231f20">2.5</text>
<line x1="664.0" y1="754.2" x2="664.0" y2="757.0" stroke="#333" stroke-width="0.7"/>
<text x="664.0" y="768.5" font-size="8.2" text-anchor="middle" textLength="10.8" lengthAdjust="spacingAndGlyphs" fill="#231f20">5.0</text>
<text x="605.3" y="782.3" font-size="9.6" text-anchor="middle" fill="#231f20">log<tspan font-size="6.5" dy="2.4">2</tspan><tspan dy="-2.4">FC</tspan></text>
<line x1="544.1" y1="789.6" x2="544.1" y2="799.6" stroke="#999" stroke-width="1.0"/>
<text x="550.3" y="797.6" font-size="7.6" textLength="15.7" lengthAdjust="spacingAndGlyphs" fill="#231f20">NTC</text>
<line x1="544.1" y1="805.3" x2="544.1" y2="815.8" stroke="#e0202a" stroke-width="1.0"/>
<text x="550.3" y="814.4" font-size="7.6" textLength="116.2" lengthAdjust="spacingAndGlyphs" fill="#231f20">Target gene sgRNA, enrichment</text>
<line x1="544.1" y1="822.2" x2="544.1" y2="831.9" stroke="#3a7cc4" stroke-width="1.0"/>
<text x="550.3" y="829.9" font-size="7.6" textLength="109.1" lengthAdjust="spacingAndGlyphs" fill="#231f20">Target gene sgRNA, depletion</text>
<text x="0.0" y="731.0" font-size="14.2" font-weight="bold" textLength="7.4" lengthAdjust="spacingAndGlyphs" fill="#000">g</text>
<text x="18.2" y="731.0" font-size="10.2" textLength="361.3" lengthAdjust="spacingAndGlyphs" fill="#231f20">In vivo tumor infiltration, ovarian cancer (–5,500-gene NK-92 CRISPRa screen)</text>
<text x="57.3" y="744.5" font-size="8.6" textLength="208.9" lengthAdjust="spacingAndGlyphs" fill="#231f20">Enrichment: ovarian cancer tumor versus ascites</text>
<rect x="85.8" y="750.5" width="152.2" height="135.39999999999998" fill="none" stroke="#9a9a9a" stroke-width="0.9"/>
<line x1="82.3" y1="756.2" x2="85.8" y2="756.2" stroke="#333" stroke-width="0.7"/>
<text x="79.3" y="758.8" font-size="7.8" text-anchor="end" fill="#231f20">1 × 10<tspan dy="-3.4" font-size="5.6">–6</tspan></text>
<line x1="82.3" y1="776.9" x2="85.8" y2="776.9" stroke="#333" stroke-width="0.7"/>
<text x="79.3" y="779.5" font-size="7.8" text-anchor="end" fill="#231f20">1 × 10<tspan dy="-3.4" font-size="5.6">–5</tspan></text>
<line x1="82.3" y1="797.6" x2="85.8" y2="797.6" stroke="#333" stroke-width="0.7"/>
<text x="79.3" y="800.2" font-size="7.8" text-anchor="end" fill="#231f20">1 × 10<tspan dy="-3.4" font-size="5.6">–4</tspan></text>
<line x1="82.3" y1="818.2" x2="85.8" y2="818.2" stroke="#333" stroke-width="0.7"/>
<text x="79.3" y="820.8" font-size="7.8" text-anchor="end" fill="#231f20">1 × 10<tspan dy="-3.4" font-size="5.6">–3</tspan></text>
<line x1="82.3" y1="838.9" x2="85.8" y2="838.9" stroke="#333" stroke-width="0.7"/>
<text x="79.3" y="841.5" font-size="7.8" text-anchor="end" fill="#231f20">1 × 10<tspan dy="-3.4" font-size="5.6">–2</tspan></text>
<line x1="82.3" y1="859.6" x2="85.8" y2="859.6" stroke="#333" stroke-width="0.7"/>
<text x="79.3" y="862.2" font-size="7.8" text-anchor="end" fill="#231f20">1 × 10<tspan dy="-3.4" font-size="5.6">–1</tspan></text>
<line x1="82.3" y1="880.3" x2="85.8" y2="880.3" stroke="#333" stroke-width="0.7"/>
<text x="79.3" y="882.9" font-size="7.8" text-anchor="end" fill="#231f20">1 × 10<tspan dy="-3.4" font-size="5.6">0</tspan></text>
<line x1="92.0" y1="885.9" x2="92.0" y2="888.9" stroke="#333" stroke-width="0.7"/>
<text x="92.0" y="899.9" font-size="8.2" text-anchor="middle" textLength="4.3" lengthAdjust="spacingAndGlyphs" fill="#231f20">0</text>
<line x1="117.2" y1="885.9" x2="117.2" y2="888.9" stroke="#333" stroke-width="0.7"/>
<text x="117.2" y="899.9" font-size="8.2" text-anchor="middle" textLength="19.5" lengthAdjust="spacingAndGlyphs" fill="#231f20">1,000</text>
<line x1="142.4" y1="885.9" x2="142.4" y2="888.9" stroke="#333" stroke-width="0.7"/>
<text x="142.4" y="899.9" font-size="8.2" text-anchor="middle" textLength="19.5" lengthAdjust="spacingAndGlyphs" fill="#231f20">2,000</text>
<line x1="167.6" y1="885.9" x2="167.6" y2="888.9" stroke="#333" stroke-width="0.7"/>
<text x="167.6" y="899.9" font-size="8.2" text-anchor="middle" textLength="19.5" lengthAdjust="spacingAndGlyphs" fill="#231f20">3,000</text>
<line x1="192.8" y1="885.9" x2="192.8" y2="888.9" stroke="#333" stroke-width="0.7"/>
<text x="192.8" y="899.9" font-size="8.2" text-anchor="middle" textLength="19.5" lengthAdjust="spacingAndGlyphs" fill="#231f20">4,000</text>
<line x1="218.0" y1="885.9" x2="218.0" y2="888.9" stroke="#333" stroke-width="0.7"/>
<text x="218.0" y="899.9" font-size="8.2" text-anchor="middle" textLength="19.5" lengthAdjust="spacingAndGlyphs" fill="#231f20">5,000</text>
<line x1="92.0" y1="859.6" x2="236.0" y2="859.6" stroke="#555" stroke-width="0.7" stroke-dasharray="2,1.6"/>
<path d="M92.0,756.2 L92.2,838.9 C92.3,853.5 92.2,841.5 92.4,843.5 C92.6,845.4 93.1,848.6 93.6,850.5 C94.1,852.4 94.6,853.6 95.5,855.1 C96.4,856.5 97.0,857.8 99.0,859.4 C101.0,860.9 103.9,862.9 107.2,864.4 C110.5,865.8 113.0,866.5 118.8,867.9 C124.6,869.3 134.4,871.4 142.2,872.6 C150.0,873.9 157.8,874.7 165.6,875.5 C173.4,876.4 181.5,877.1 188.9,877.8 C196.3,878.5 202.8,879.1 210.0,879.7 C217.2,880.2 228.5,880.9 232.2,881.1" fill="none" stroke="#222" stroke-width="1.0"/>
<circle cx="92.2" cy="755.8" r="2.3" fill="#e41a1c"/>
<circle cx="92.2" cy="765.9" r="2.3" fill="#f0a0c8"/>
<circle cx="92.2" cy="775.6" r="2.3" fill="#999999"/>
<circle cx="92.2" cy="789.1" r="2.3" fill="#66c2a5"/>
<circle cx="92.2" cy="794.1" r="2.3" fill="#fc8d62"/>
<circle cx="92.2" cy="798.6" r="2.3" fill="#8da0cb"/>
<circle cx="92.2" cy="804.7" r="2.3" fill="#e78ac3"/>
<circle cx="92.2" cy="811.4" r="2.3" fill="#a6d854"/>
<circle cx="92.2" cy="814.8" r="2.3" fill="#e5c494"/>
<circle cx="92.2" cy="841.8" r="2.3" fill="#b3b3b3"/>
<circle cx="92.2" cy="844.7" r="2.3" fill="#8dd3c7"/>
<circle cx="135.9" cy="757.1" r="1.7" fill="#e41a1c"/>
<text x="143.1" y="759.5" font-size="8.0" font-style="italic" textLength="39.6" lengthAdjust="spacingAndGlyphs" fill="#231f20">CATSPER2</text>
<circle cx="135.9" cy="765.4" r="1.7" fill="#e41a1c"/>
<text x="143.1" y="767.8" font-size="8.0" font-style="italic" textLength="24.9" lengthAdjust="spacingAndGlyphs" fill="#231f20">EPHA6</text>
<circle cx="135.9" cy="773.6" r="1.7" fill="#e41a1c"/>
<text x="143.1" y="776.0" font-size="8.0" font-style="italic" textLength="24.3" lengthAdjust="spacingAndGlyphs" fill="#231f20">PTAFR</text>
<circle cx="135.9" cy="781.9" r="1.7" fill="#e41a1c"/>
<text x="143.1" y="784.2" font-size="8.0" font-style="italic" textLength="29.1" lengthAdjust="spacingAndGlyphs" fill="#231f20">GPR171</text>
<circle cx="135.9" cy="790.1" r="1.7" fill="#ff7f00"/>
<text x="143.1" y="792.5" font-size="8.0" font-style="italic" textLength="31.3" lengthAdjust="spacingAndGlyphs" fill="#231f20">ADORA3</text>
<circle cx="135.9" cy="798.4" r="1.7" fill="#a65628"/>
<text x="143.1" y="800.8" font-size="8.0" font-style="italic" textLength="29.6" lengthAdjust="spacingAndGlyphs" fill="#231f20">SLAMF1</text>
<circle cx="135.9" cy="806.6" r="1.7" fill="#f781bf"/>
<text x="143.1" y="809.0" font-size="8.0" font-style="italic" textLength="28.3" lengthAdjust="spacingAndGlyphs" fill="#231f20">SLC2A5</text>
<circle cx="135.9" cy="814.9" r="1.7" fill="#999999"/>
<text x="143.1" y="817.2" font-size="8.0" font-style="italic" textLength="30.0" lengthAdjust="spacingAndGlyphs" fill="#231f20">OR10G6</text>
<circle cx="135.9" cy="823.1" r="1.7" fill="#66c2a5"/>
<text x="143.1" y="825.5" font-size="8.0" font-style="italic" textLength="25.8" lengthAdjust="spacingAndGlyphs" fill="#231f20">HCAR3</text>
<circle cx="135.9" cy="831.4" r="1.7" fill="#fc8d62"/>
<text x="143.1" y="833.8" font-size="8.0" font-style="italic" textLength="26.2" lengthAdjust="spacingAndGlyphs" fill="#231f20">ADAM8</text>
<circle cx="198.1" cy="757.1" r="1.7" fill="#8da0cb"/>
<text x="204.8" y="759.5" font-size="8.0" font-style="italic" textLength="29.1" lengthAdjust="spacingAndGlyphs" fill="#231f20">GPR183</text>
<circle cx="198.1" cy="765.4" r="1.7" fill="#e78ac3"/>
<text x="204.8" y="767.8" font-size="8.0" font-style="italic" textLength="24.9" lengthAdjust="spacingAndGlyphs" fill="#231f20">GPR84</text>
<circle cx="198.1" cy="773.6" r="1.7" fill="#a6d854"/>
<text x="204.8" y="776.0" font-size="8.0" font-style="italic" textLength="24.5" lengthAdjust="spacingAndGlyphs" fill="#231f20">TPRA1</text>
<circle cx="198.1" cy="781.9" r="1.7" fill="#ffd92f"/>
<text x="204.8" y="784.2" font-size="8.0" font-style="italic" textLength="28.0" lengthAdjust="spacingAndGlyphs" fill="#231f20">P2RY14</text>
<circle cx="198.1" cy="790.1" r="1.7" fill="#e5c494"/>
<text x="204.8" y="792.5" font-size="8.0" font-style="italic" textLength="22.0" lengthAdjust="spacingAndGlyphs" fill="#231f20">ITGB1</text>
<circle cx="198.1" cy="798.4" r="1.7" fill="#b3b3b3"/>
<text x="204.8" y="800.8" font-size="8.0" font-style="italic" textLength="26.2" lengthAdjust="spacingAndGlyphs" fill="#231f20">CAMK4</text>
<circle cx="198.1" cy="806.6" r="1.7" fill="#8dd3c7"/>
<text x="204.8" y="809.0" font-size="8.0" font-style="italic" textLength="27.9" lengthAdjust="spacingAndGlyphs" fill="#231f20">IFNGR1</text>
<text transform="translate(45.5,818.2) rotate(-90)" font-size="8.4" text-anchor="middle" fill="#231f20"><tspan font-style="italic">P</tspan> value</text>
<text x="161.4" y="913.5" font-size="8.4" text-anchor="middle" textLength="18.6" lengthAdjust="spacingAndGlyphs" fill="#231f20">Rank</text>
<text x="287.4" y="743.6" font-size="8.6" textLength="199.3" lengthAdjust="spacingAndGlyphs" fill="#231f20">Enrichment: ovarian cancer tumor versus pool</text>
<rect x="311.6" y="750.5" width="151.59999999999997" height="134.70000000000005" fill="none" stroke="#9a9a9a" stroke-width="0.9"/>
<line x1="308.1" y1="756.2" x2="311.6" y2="756.2" stroke="#333" stroke-width="0.7"/>
<text x="305.1" y="758.8" font-size="7.8" text-anchor="end" fill="#231f20">1 × 10<tspan dy="-3.4" font-size="5.6">–6</tspan></text>
<line x1="308.1" y1="776.9" x2="311.6" y2="776.9" stroke="#333" stroke-width="0.7"/>
<text x="305.1" y="779.5" font-size="7.8" text-anchor="end" fill="#231f20">1 × 10<tspan dy="-3.4" font-size="5.6">–5</tspan></text>
<line x1="308.1" y1="797.6" x2="311.6" y2="797.6" stroke="#333" stroke-width="0.7"/>
<text x="305.1" y="800.2" font-size="7.8" text-anchor="end" fill="#231f20">1 × 10<tspan dy="-3.4" font-size="5.6">–4</tspan></text>
<line x1="308.1" y1="818.2" x2="311.6" y2="818.2" stroke="#333" stroke-width="0.7"/>
<text x="305.1" y="820.8" font-size="7.8" text-anchor="end" fill="#231f20">1 × 10<tspan dy="-3.4" font-size="5.6">–3</tspan></text>
<line x1="308.1" y1="838.9" x2="311.6" y2="838.9" stroke="#333" stroke-width="0.7"/>
<text x="305.1" y="841.5" font-size="7.8" text-anchor="end" fill="#231f20">1 × 10<tspan dy="-3.4" font-size="5.6">–2</tspan></text>
<line x1="308.1" y1="859.6" x2="311.6" y2="859.6" stroke="#333" stroke-width="0.7"/>
<text x="305.1" y="862.2" font-size="7.8" text-anchor="end" fill="#231f20">1 × 10<tspan dy="-3.4" font-size="5.6">–1</tspan></text>
<line x1="308.1" y1="880.3" x2="311.6" y2="880.3" stroke="#333" stroke-width="0.7"/>
<text x="305.1" y="882.9" font-size="7.8" text-anchor="end" fill="#231f20">1 × 10<tspan dy="-3.4" font-size="5.6">0</tspan></text>
<line x1="317.0" y1="885.2" x2="317.0" y2="888.2" stroke="#333" stroke-width="0.7"/>
<text x="317.0" y="899.2" font-size="8.2" text-anchor="middle" textLength="4.3" lengthAdjust="spacingAndGlyphs" fill="#231f20">0</text>
<line x1="342.0" y1="885.2" x2="342.0" y2="888.2" stroke="#333" stroke-width="0.7"/>
<text x="342.0" y="899.2" font-size="8.2" text-anchor="middle" textLength="19.5" lengthAdjust="spacingAndGlyphs" fill="#231f20">1,000</text>
<line x1="367.0" y1="885.2" x2="367.0" y2="888.2" stroke="#333" stroke-width="0.7"/>
<text x="367.0" y="899.2" font-size="8.2" text-anchor="middle" textLength="19.5" lengthAdjust="spacingAndGlyphs" fill="#231f20">2,000</text>
<line x1="392.0" y1="885.2" x2="392.0" y2="888.2" stroke="#333" stroke-width="0.7"/>
<text x="392.0" y="899.2" font-size="8.2" text-anchor="middle" textLength="19.5" lengthAdjust="spacingAndGlyphs" fill="#231f20">3,000</text>
<line x1="417.0" y1="885.2" x2="417.0" y2="888.2" stroke="#333" stroke-width="0.7"/>
<text x="417.0" y="899.2" font-size="8.2" text-anchor="middle" textLength="19.5" lengthAdjust="spacingAndGlyphs" fill="#231f20">4,000</text>
<line x1="442.0" y1="885.2" x2="442.0" y2="888.2" stroke="#333" stroke-width="0.7"/>
<text x="442.0" y="899.2" font-size="8.2" text-anchor="middle" textLength="19.5" lengthAdjust="spacingAndGlyphs" fill="#231f20">5,000</text>
<line x1="317.0" y1="859.6" x2="461.2" y2="859.6" stroke="#555" stroke-width="0.7" stroke-dasharray="2,1.6"/>
<path d="M317.0,756.2 L317.3,834.8 C317.5,849.1 317.9,840.5 318.2,842.2 C318.5,844.0 318.7,844.2 319.3,845.1 C319.9,846.1 320.5,846.7 321.7,848.0 C322.9,849.3 325.0,851.2 326.4,852.8 C327.8,854.3 328.7,856.1 329.9,857.3 C331.1,858.6 330.9,858.9 333.4,860.2 C335.9,861.5 340.3,863.3 345.0,865.0 C349.7,866.6 355.6,868.6 361.4,870.1 C367.2,871.7 373.0,873.1 380.0,874.3 C387.0,875.5 395.7,876.4 403.5,877.2 C411.3,878.0 417.9,878.5 426.8,879.0 C435.8,879.6 452.1,880.4 457.2,880.7" fill="none" stroke="#222" stroke-width="1.0"/>
<circle cx="317.2" cy="755.8" r="2.3" fill="#e41a1c"/>
<circle cx="317.2" cy="791.8" r="2.3" fill="#984ea3"/>
<circle cx="317.2" cy="798.7" r="2.3" fill="#ff7f00"/>
<circle cx="317.2" cy="807.4" r="2.3" fill="#a65628"/>
<circle cx="317.2" cy="812.0" r="2.3" fill="#999999"/>
<circle cx="317.2" cy="835.5" r="2.3" fill="#f781bf"/>
<circle cx="317.2" cy="842.3" r="2.3" fill="#e5c494"/>
<circle cx="317.2" cy="845.4" r="2.3" fill="#66c2a5"/>
<circle cx="357.6" cy="756.8" r="1.7" fill="#e41a1c"/>
<text x="364.8" y="759.2" font-size="8.0" font-style="italic" textLength="39.6" lengthAdjust="spacingAndGlyphs" fill="#231f20">CATSPER2</text>
<circle cx="357.6" cy="765.1" r="1.7" fill="#e41a1c"/>
<text x="364.8" y="767.5" font-size="8.0" font-style="italic" textLength="29.1" lengthAdjust="spacingAndGlyphs" fill="#231f20">GPR171</text>
<circle cx="357.6" cy="773.3" r="1.7" fill="#e41a1c"/>
<text x="364.8" y="775.7" font-size="8.0" font-style="italic" textLength="24.9" lengthAdjust="spacingAndGlyphs" fill="#231f20">EPHA6</text>
<circle cx="357.6" cy="781.6" r="1.7" fill="#984ea3"/>
<text x="364.8" y="784.0" font-size="8.0" font-style="italic" textLength="24.9" lengthAdjust="spacingAndGlyphs" fill="#231f20">GPR84</text>
<circle cx="357.6" cy="789.8" r="1.7" fill="#ff7f00"/>
<text x="364.8" y="792.2" font-size="8.0" font-style="italic" textLength="27.9" lengthAdjust="spacingAndGlyphs" fill="#231f20">IFNGR1</text>
<circle cx="357.6" cy="798.1" r="1.7" fill="#a65628"/>
<text x="364.8" y="800.5" font-size="8.0" font-style="italic" textLength="29.6" lengthAdjust="spacingAndGlyphs" fill="#231f20">SLAMF1</text>
<circle cx="357.6" cy="806.3" r="1.7" fill="#f781bf"/>
<text x="364.8" y="808.7" font-size="8.0" font-style="italic" textLength="26.2" lengthAdjust="spacingAndGlyphs" fill="#231f20">CAMK4</text>
<circle cx="357.6" cy="814.6" r="1.7" fill="#999999"/>
<text x="364.8" y="817.0" font-size="8.0" font-style="italic" textLength="28.0" lengthAdjust="spacingAndGlyphs" fill="#231f20">P2RY14</text>
<circle cx="357.6" cy="822.8" r="1.7" fill="#66c2a5"/>
<text x="364.8" y="825.2" font-size="8.0" font-style="italic" textLength="25.8" lengthAdjust="spacingAndGlyphs" fill="#231f20">HCAR3</text>
<circle cx="357.6" cy="831.1" r="1.7" fill="#fc8d62"/>
<text x="364.8" y="833.5" font-size="8.0" font-style="italic" textLength="22.0" lengthAdjust="spacingAndGlyphs" fill="#231f20">ITGB1</text>
<circle cx="421.4" cy="756.8" r="1.7" fill="#8da0cb"/>
<text x="428.1" y="759.2" font-size="8.0" font-style="italic" textLength="29.1" lengthAdjust="spacingAndGlyphs" fill="#231f20">GPR183</text>
<circle cx="421.4" cy="765.1" r="1.7" fill="#e78ac3"/>
<text x="428.1" y="767.5" font-size="8.0" font-style="italic" textLength="24.3" lengthAdjust="spacingAndGlyphs" fill="#231f20">PTAFR</text>
<circle cx="421.4" cy="773.3" r="1.7" fill="#a6d854"/>
<text x="428.1" y="775.7" font-size="8.0" font-style="italic" textLength="28.3" lengthAdjust="spacingAndGlyphs" fill="#231f20">SLC2A5</text>
<circle cx="421.4" cy="781.6" r="1.7" fill="#ffd92f"/>
<text x="428.1" y="784.0" font-size="8.0" font-style="italic" textLength="26.2" lengthAdjust="spacingAndGlyphs" fill="#231f20">ADAM8</text>
<circle cx="421.4" cy="789.8" r="1.7" fill="#e5c494"/>
<text x="428.1" y="792.2" font-size="8.0" font-style="italic" textLength="30.0" lengthAdjust="spacingAndGlyphs" fill="#231f20">OR10G6</text>
<circle cx="421.4" cy="798.1" r="1.7" fill="#b3b3b3"/>
<text x="428.1" y="800.5" font-size="8.0" font-style="italic" textLength="24.5" lengthAdjust="spacingAndGlyphs" fill="#231f20">TPRA1</text>
<circle cx="421.4" cy="806.3" r="1.7" fill="#8dd3c7"/>
<text x="428.1" y="808.7" font-size="8.0" font-style="italic" textLength="31.3" lengthAdjust="spacingAndGlyphs" fill="#231f20">ADORA3</text>
<text transform="translate(269.5,817.9) rotate(-90)" font-size="8.4" text-anchor="middle" fill="#231f20"><tspan font-style="italic">P</tspan> value</text>
<text x="387.2" y="913.5" font-size="8.4" text-anchor="middle" textLength="18.6" lengthAdjust="spacingAndGlyphs" fill="#231f20">Rank</text>
</svg>
</body></html>
